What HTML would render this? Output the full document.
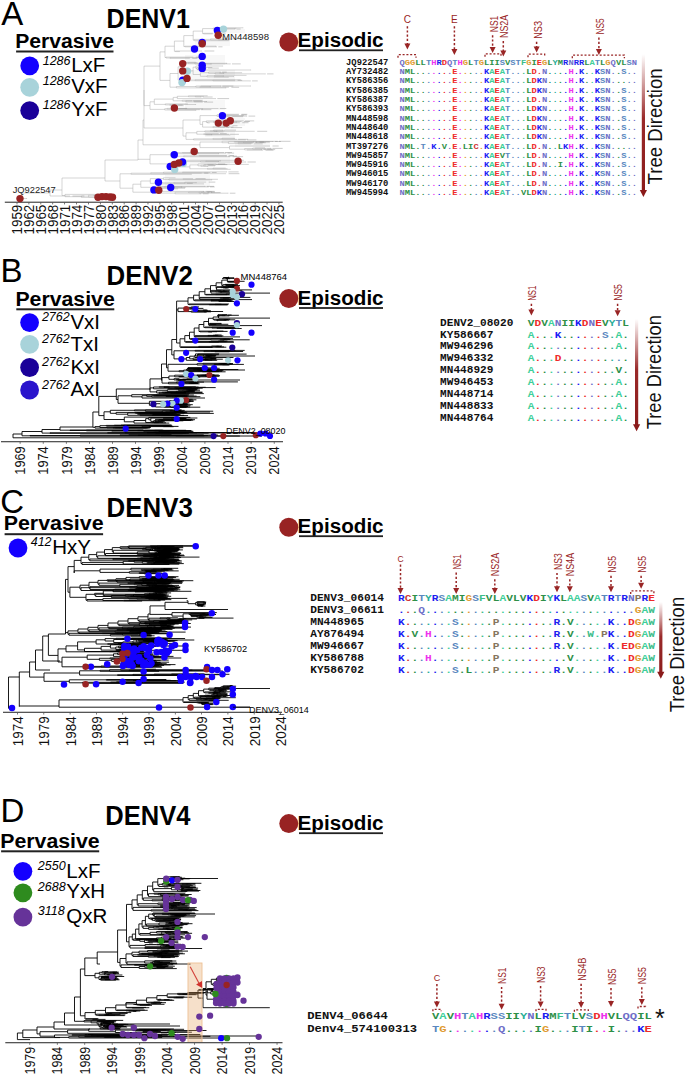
<!DOCTYPE html><html><head><meta charset="utf-8"><style>html,body{margin:0;padding:0;background:#fff;width:685px;height:1077px;overflow:hidden}svg{display:block}</style></head><body>
<svg width="685" height="1077" viewBox="0 0 685 1077">
<rect width="685" height="1077" fill="#fff"/>
<text x="1.2" y="24.5" font-family="Liberation Sans" font-size="33" fill="#000" text-anchor="start" >A</text>
<text x="0.6" y="281.5" font-family="Liberation Sans" font-size="33" fill="#000" text-anchor="start" >B</text>
<text x="0.3" y="513" font-family="Liberation Sans" font-size="33" fill="#000" text-anchor="start" >C</text>
<text x="0.6" y="821.5" font-family="Liberation Sans" font-size="33" fill="#000" text-anchor="start" >D</text>
<text x="106.6" y="28" font-family="Liberation Sans" font-size="27.5" font-weight="bold" fill="#000" text-anchor="start" textLength="83.3" lengthAdjust="spacingAndGlyphs" >DENV1</text>
<text x="106.6" y="284.8" font-family="Liberation Sans" font-size="27.5" font-weight="bold" fill="#000" text-anchor="start" textLength="86.2" lengthAdjust="spacingAndGlyphs" >DENV2</text>
<text x="106.6" y="517" font-family="Liberation Sans" font-size="27.5" font-weight="bold" fill="#000" text-anchor="start" textLength="86.2" lengthAdjust="spacingAndGlyphs" >DENV3</text>
<text x="105.2" y="824.8" font-family="Liberation Sans" font-size="27.5" font-weight="bold" fill="#000" text-anchor="start" textLength="85.2" lengthAdjust="spacingAndGlyphs" >DENV4</text>
<text x="15.200000000000001" y="48.2" font-family="Liberation Sans" font-size="20.3" font-weight="bold" fill="#000" text-anchor="start" textLength="98.80000000000001" lengthAdjust="spacingAndGlyphs" >Pervasive</text>
<rect x="16.1" y="50.5" width="97.4" height="2" fill="#222"/>
<text x="15.4" y="305.6" font-family="Liberation Sans" font-size="20.3" font-weight="bold" fill="#000" text-anchor="start" textLength="99.4" lengthAdjust="spacingAndGlyphs" >Pervasive</text>
<rect x="16.3" y="308.3" width="98" height="2" fill="#222"/>
<text x="3.6999999999999997" y="530" font-family="Liberation Sans" font-size="20.3" font-weight="bold" fill="#000" text-anchor="start" textLength="99.9" lengthAdjust="spacingAndGlyphs" >Pervasive</text>
<rect x="4.6" y="533.2" width="98.5" height="2" fill="#222"/>
<text x="0.20000000000000018" y="848.2" font-family="Liberation Sans" font-size="20.3" font-weight="bold" fill="#000" text-anchor="start" textLength="99.5" lengthAdjust="spacingAndGlyphs" >Pervasive</text>
<rect x="1.1" y="850.3" width="98.1" height="2" fill="#222"/>
<circle cx="29.7" cy="65.8" r="9.4" fill="#1400FF"/>
<text x="42.7" y="64.9" font-family="Liberation Sans" font-size="12.5" font-style="italic">1286</text>
<text x="71.2" y="72.4" font-family="Liberation Sans" font-size="20.5" fill="#000" text-anchor="start" >LxF</text>
<circle cx="29.7" cy="87.3" r="9.4" fill="#A8D3DA"/>
<text x="42.7" y="85.4" font-family="Liberation Sans" font-size="12.5" font-style="italic">1286</text>
<text x="71.2" y="92.9" font-family="Liberation Sans" font-size="20.5" fill="#000" text-anchor="start" >VxF</text>
<circle cx="29.7" cy="110.6" r="9.4" fill="#1A0099"/>
<text x="42.7" y="108.7" font-family="Liberation Sans" font-size="12.5" font-style="italic">1286</text>
<text x="71.2" y="116.2" font-family="Liberation Sans" font-size="20.5" fill="#000" text-anchor="start" >YxF</text>
<circle cx="29.6" cy="322.6" r="9.4" fill="#1400FF"/>
<text x="41.9" y="321.2" font-family="Liberation Sans" font-size="12.5" font-style="italic">2762</text>
<text x="70.4" y="328.7" font-family="Liberation Sans" font-size="20.5" fill="#000" text-anchor="start" >VxI</text>
<circle cx="29.6" cy="344.4" r="9.4" fill="#A8D3DA"/>
<text x="41.9" y="343.0" font-family="Liberation Sans" font-size="12.5" font-style="italic">2762</text>
<text x="70.4" y="350.5" font-family="Liberation Sans" font-size="20.5" fill="#000" text-anchor="start" >TxI</text>
<circle cx="29.6" cy="367.5" r="9.4" fill="#1A0099"/>
<text x="41.9" y="366.1" font-family="Liberation Sans" font-size="12.5" font-style="italic">2762</text>
<text x="70.4" y="373.6" font-family="Liberation Sans" font-size="20.5" fill="#000" text-anchor="start" >KxI</text>
<circle cx="29.6" cy="390.0" r="9.4" fill="#2A14CC"/>
<text x="41.9" y="388.6" font-family="Liberation Sans" font-size="12.5" font-style="italic">2762</text>
<text x="70.4" y="396.1" font-family="Liberation Sans" font-size="20.5" fill="#000" text-anchor="start" >AxI</text>
<circle cx="18.0" cy="548.0" r="9.4" fill="#1400FF"/>
<text x="30.7" y="546.1" font-family="Liberation Sans" font-size="12.5" font-style="italic">412</text>
<text x="52.2" y="553.6" font-family="Liberation Sans" font-size="20.5" fill="#000" text-anchor="start" >HxY</text>
<circle cx="22.9" cy="871.3" r="9.4" fill="#1400FF"/>
<text x="37.8" y="870.0" font-family="Liberation Sans" font-size="12.5" font-style="italic">2550</text>
<text x="66.3" y="877.5" font-family="Liberation Sans" font-size="20.5" fill="#000" text-anchor="start" >LxF</text>
<circle cx="22.9" cy="892.8" r="9.4" fill="#2E8B1E"/>
<text x="37.8" y="890.8" font-family="Liberation Sans" font-size="12.5" font-style="italic">2688</text>
<text x="66.3" y="898.3" font-family="Liberation Sans" font-size="20.5" fill="#000" text-anchor="start" >YxH</text>
<circle cx="22.9" cy="917.1" r="9.4" fill="#663399"/>
<text x="37.8" y="915.3" font-family="Liberation Sans" font-size="12.5" font-style="italic">3118</text>
<text x="66.3" y="922.8" font-family="Liberation Sans" font-size="20.5" fill="#000" text-anchor="start" >QxR</text>
<circle cx="288.8" cy="42.0" r="9.5" fill="#982323"/>
<text x="297.6" y="47.0" font-family="Liberation Sans" font-size="20.7" font-weight="bold" fill="#000" text-anchor="start" textLength="86" lengthAdjust="spacingAndGlyphs" >Episodic</text>
<rect x="299" y="49.4" width="84" height="1.8" fill="#222"/>
<circle cx="288.8" cy="298.5" r="9.5" fill="#982323"/>
<text x="297.6" y="304.70000000000005" font-family="Liberation Sans" font-size="20.7" font-weight="bold" fill="#000" text-anchor="start" textLength="86" lengthAdjust="spacingAndGlyphs" >Episodic</text>
<rect x="299" y="307.1" width="84" height="1.8" fill="#222"/>
<circle cx="288.8" cy="527.3" r="9.5" fill="#982323"/>
<text x="297.6" y="532.9" font-family="Liberation Sans" font-size="20.7" font-weight="bold" fill="#000" text-anchor="start" textLength="86" lengthAdjust="spacingAndGlyphs" >Episodic</text>
<rect x="299" y="535.3" width="84" height="1.8" fill="#222"/>
<circle cx="288.8" cy="823.6" r="9.5" fill="#982323"/>
<text x="297.6" y="829.9" font-family="Liberation Sans" font-size="20.7" font-weight="bold" fill="#000" text-anchor="start" textLength="86" lengthAdjust="spacingAndGlyphs" >Episodic</text>
<rect x="299" y="832.3" width="84" height="1.8" fill="#222"/>
<path d="M13.0 434.0V437.8M13.0 434.0H22.0M22.0 431.5V435.8M22.0 431.5H42.0M42.0 429.5V433.1M42.0 429.5H60.0M60.0 427.0V430.2M60.0 427.0H92.9M92.9 412.0V427.3M92.9 412.0H98.8M98.8 396.4V415.6M98.8 396.4H116.3M116.3 389.0V399.5M116.3 389.0H150.0M150.0 378.9V389.9M150.0 378.9H161.5M161.5 364.0V380.3M161.5 364.0H166.5M166.5 349.7V367.8M166.5 349.7H171.8M171.8 339.5V354.9M171.8 339.5H176.6M176.6 310.0V343.0M176.6 301.1V310.0M176.6 309.9H178.0M178.0 308.1V311.6M178.0 308.1H186.2M186.2 307.4V308.8M186.2 307.4H191.2M191.2 306.9V307.9M191.2 306.9H199.0M191.2 307.9H192.5M192.5 307.6V308.2M192.5 307.6H194.4M194.4 307.3V307.8M194.4 307.3H194.9M194.9 307.2V307.5M194.9 307.2H195.2M194.9 307.5H195.6M194.4 307.8H198.1M192.5 308.2H194.1M194.1 308.1V308.4M194.1 308.1H195.1M194.1 308.4H203.4M186.2 308.8H189.4M189.4 308.7V309.0M189.4 308.7H196.4M189.4 309.0H194.4M178.0 311.6H191.2M191.2 311.1V312.1M191.2 311.1H194.9M194.9 310.7V311.6M194.9 310.7H196.4M196.4 310.4V310.9M196.4 310.4H198.1M198.1 310.2V310.6M198.1 310.2H202.9M202.9 310.0V310.3M202.9 310.0H206.8M202.9 310.3H207.9M198.1 310.6H199.4M196.4 310.9H210.9M194.9 311.6H204.0M204.0 311.4V311.8M204.0 311.4H206.3M206.3 311.2V311.5M206.3 311.2H210.6M206.3 311.5H223.1M204.0 311.8H211.0M191.2 312.1H206.6M176.6 301.1H188.0M188.0 297.8V304.4M188.0 297.8H193.6M193.6 295.2V300.3M193.6 295.2H199.2M199.2 291.7V298.6M199.2 291.7H204.9M204.9 288.8V294.7M204.9 288.8H210.5M210.5 285.6V292.0M210.5 285.6H216.1M216.1 282.8V288.4M216.1 282.8H221.8M221.8 280.1V285.5M221.8 280.1H227.4M227.4 278.4V281.9M227.4 278.4H234.0M234.0 277.8V279.0M234.0 277.8H228.0M228.0 277.2V278.3M228.0 277.2H228.8M228.0 278.3H226.0M226.0 277.9V278.7M226.0 277.9H223.7M223.7 277.5V278.2M223.7 277.5H229.2M223.7 278.2H223.0M223.0 278.0V278.4M223.0 278.0H225.6M225.6 277.8V278.1M225.6 277.8H226.8M225.6 278.1H227.8M223.0 278.4H222.1M226.0 278.7H230.1M227.4 281.9H228.4M228.4 281.5V282.2M228.4 281.5H228.0M228.0 281.3V281.8M228.0 281.3H244.6M228.0 281.8H228.0M228.0 281.6V281.9M228.0 281.6H238.6M228.0 281.9H227.8M228.4 282.2H238.2M221.8 285.5H222.8M222.8 284.7V286.2M222.8 284.7H224.9M224.9 284.4V285.0M224.9 284.4H237.9M224.9 285.0H226.0M226.0 284.7V285.3M226.0 284.7H234.0M226.0 285.3H226.5M226.5 285.0V285.5M226.5 285.0H227.0M226.5 285.5H231.2M231.2 285.3V285.8M231.2 285.3H238.0M231.2 285.8H232.3M232.3 285.6V285.9M232.3 285.6H240.0M232.3 285.9H233.9M222.8 286.2H236.9M216.1 288.4H216.6M216.6 287.0V289.9M216.6 287.0H217.1M217.1 286.7V287.4M217.1 286.7H227.8M227.8 286.5V286.8M227.8 286.5H234.4M227.8 286.8H234.9M217.1 287.4H220.8M220.8 287.1V287.6M220.8 287.1H234.4M220.8 287.6H223.0M223.0 287.4V287.9M223.0 287.4H236.9M223.0 287.9H224.6M224.6 287.7V288.0M224.6 287.7H227.2M224.6 288.0H228.6M216.6 289.9H252.0M210.5 292.0H211.0M211.0 290.9V293.1M211.0 290.9H211.5M211.5 290.4V291.4M211.5 290.4H221.7M211.5 291.4H215.7M215.7 291.1V291.8M215.7 291.1H221.8M221.8 290.8V291.3M221.8 290.8H223.0M223.0 290.7V291.0M223.0 290.7H242.4M223.0 291.0H224.9M221.8 291.3H226.7M215.7 291.8H218.3M218.3 291.6V292.0M218.3 291.6H230.9M218.3 292.0H220.2M220.2 291.9V292.2M220.2 291.9H222.0M220.2 292.2H232.8M211.0 293.1H270.0M204.9 294.7H205.9M205.9 294.4V294.9M205.9 294.4H215.5M215.5 294.2V294.6M215.5 294.2H225.9M225.9 294.0V294.3M225.9 294.0H235.2M225.9 294.3H235.6M215.5 294.6H227.2M205.9 294.9H236.7M199.2 298.6H199.8M199.8 297.7V299.6M199.8 297.7H200.2M200.2 297.4V298.0M200.2 297.4H250.4M200.2 298.0H220.2M220.2 297.8V298.3M220.2 297.8H222.9M222.9 297.7V298.0M222.9 297.7H232.1M222.9 298.0H228.9M220.2 298.3H237.7M199.8 299.6H252.0M193.6 300.3H194.6M194.6 299.9V300.8M194.6 299.9H211.0M211.0 299.7V300.0M211.0 299.7H231.0M211.0 300.0H226.3M194.6 300.8H211.0M211.0 300.5V301.1M211.0 300.5H217.8M217.8 300.3V300.6M217.8 300.3H232.6M217.8 300.6H228.1M211.0 301.1H218.9M218.9 300.9V301.4M218.9 300.9H231.2M218.9 301.4H227.1M227.1 301.2V301.5M227.1 301.2H231.4M227.1 301.5H234.1M188.0 304.4H189.0M189.0 304.0V304.7M189.0 304.0H228.9M189.0 304.7H209.2M209.2 304.5V304.9M209.2 304.5H215.1M215.1 304.3V304.6M215.1 304.3H221.4M215.1 304.6H227.9M209.2 304.9H227.6M176.6 343.0H180.0M180.0 338.8V347.2M180.0 338.8H184.8M184.8 335.6V341.9M184.8 335.6H189.5M189.5 332.2V339.0M189.5 332.2H194.2M194.2 328.0V336.4M194.2 328.0H199.0M199.0 324.5V331.5M199.0 324.5H203.8M203.8 321.5V327.4M203.8 321.5H208.5M208.5 318.3V324.7M208.5 318.3H213.2M213.2 317.0V319.6M213.2 317.0H218.5M218.5 315.8V318.1M218.5 315.8H219.0M219.0 315.2V316.5M219.0 315.2H218.0M218.0 314.7V315.7M218.0 314.7H227.1M218.0 315.7H217.8M217.8 315.4V316.0M217.8 315.4H222.1M222.1 315.1V315.6M222.1 315.1H227.7M227.7 315.0V315.3M227.7 315.0H231.6M227.7 315.3H238.9M222.1 315.6H225.4M217.8 316.0H217.6M217.6 315.9V316.2M217.6 315.9H229.4M217.6 316.2H217.5M219.0 316.5H218.4M218.5 318.1H270.0M213.2 319.6H214.2M214.2 319.2V320.1M214.2 319.2H230.2M214.2 320.1H216.7M216.7 319.7V320.5M216.7 319.7H223.7M223.7 319.5V319.9M223.7 319.5H228.0M223.7 319.9H226.0M226.0 319.8V320.1M226.0 319.8H235.2M226.0 320.1H229.1M216.7 320.5H217.2M217.2 320.4V320.7M217.2 320.4H226.3M217.2 320.7H218.1M208.5 324.7H209.0M209.0 323.9V325.6M209.0 323.9H209.5M209.5 323.4V324.4M209.5 323.4H221.3M209.5 324.4H209.9M209.9 324.1V324.6M209.9 324.1H210.3M210.3 323.9V324.3M210.3 323.9H210.4M210.4 323.7V324.0M210.4 323.7H210.6M210.4 324.0H221.7M210.3 324.3H228.3M209.9 324.6H216.3M209.0 325.6H262.0M203.8 327.4H204.8M204.8 327.0V327.7M204.8 327.0H236.8M204.8 327.7H212.0M212.0 327.3V328.1M212.0 327.3H236.8M212.0 328.1H217.0M217.0 327.8V328.4M217.0 327.8H219.4M219.4 327.6V327.9M219.4 327.6H220.9M219.4 327.9H238.3M217.0 328.4H225.0M225.0 328.2V328.5M225.0 328.2H230.9M225.0 328.5H241.7M199.0 331.5H200.0M200.0 331.1V331.8M200.0 331.1H223.4M200.0 331.8H208.2M208.2 331.6V332.0M208.2 331.6H212.2M212.2 331.4V331.7M212.2 331.4H227.6M212.2 331.7H217.0M208.2 332.0H212.1M194.2 336.4H194.8M194.8 336.0V336.9M194.8 336.0H195.2M195.2 335.7V336.2M195.2 335.7H207.8M207.8 335.4V335.9M207.8 335.4H213.0M213.0 335.2V335.6M213.0 335.2H214.8M214.8 335.0V335.3M214.8 335.0H221.6M214.8 335.3H218.4M213.0 335.6H217.2M207.8 335.9H223.4M195.2 336.2H222.2M194.8 336.9H240.0M189.5 339.0H190.5M190.5 338.6V339.4M190.5 338.6H233.0M190.5 339.4H210.8M210.8 338.9V339.9M210.8 338.9H229.6M210.8 339.9H220.1M220.1 339.6V340.1M220.1 339.6H222.5M222.5 339.4V339.8M222.5 339.4H223.7M223.7 339.2V339.5M223.7 339.2H225.9M223.7 339.5H230.4M222.5 339.8H249.7M220.1 340.1H224.2M184.8 341.9H185.8M185.8 341.6V342.3M185.8 341.6H198.2M198.2 341.3V341.9M198.2 341.3H218.2M218.2 341.1V341.4M218.2 341.1H227.5M218.2 341.4H233.6M198.2 341.9H208.9M208.9 341.7V342.0M208.9 341.7H226.5M208.9 342.0H218.8M185.8 342.3H233.9M180.0 347.2H181.0M181.0 346.8V347.5M181.0 346.8H198.7M198.7 346.4V347.2M198.7 346.4H211.5M211.5 346.0V346.7M211.5 346.0H222.0M211.5 346.7H215.4M215.4 346.5V346.9M215.4 346.5H216.5M216.5 346.3V346.6M216.5 346.3H218.7M216.5 346.6H221.2M215.4 346.9H224.1M198.7 347.2H226.3M181.0 347.5H212.6M171.8 354.9H174.0M174.0 350.8V358.9M174.0 350.8H195.1M195.1 350.4V351.2M195.1 350.4H244.7M195.1 351.2H203.9M203.9 350.8V351.6M203.9 350.8H210.9M210.9 350.7V351.0M210.9 350.7H235.4M210.9 351.0H232.5M203.9 351.6H214.7M214.7 351.4V351.8M214.7 351.4H219.8M219.8 351.3V351.5M219.8 351.3H229.6M219.8 351.5H243.1M214.7 351.8H229.4M174.0 358.9H186.3M186.3 357.5V360.3M186.3 357.5H189.7M189.7 356.2V358.8M189.7 356.2H194.9M194.9 355.0V357.5M194.9 355.0H195.5M195.5 353.9V356.0M195.5 353.9H219.1M195.5 356.0H197.2M197.2 355.1V356.9M197.2 355.1H197.5M197.5 354.5V355.7M197.5 354.5H197.9M197.9 354.3V354.7M197.9 354.3H198.1M198.1 354.1V354.5M198.1 354.1H246.6M198.1 354.5H198.7M197.9 354.7H218.8M197.5 355.7H203.4M203.4 355.1V356.2M203.4 355.1H205.3M205.3 355.0V355.3M205.3 355.0H211.7M205.3 355.3H213.1M203.4 356.2H206.0M206.0 355.8V356.7M206.0 355.8H206.6M206.6 355.5V356.0M206.6 355.5H216.2M206.6 356.0H207.4M207.4 355.8V356.2M207.4 355.8H214.8M207.4 356.2H207.9M207.9 356.1V356.4M207.9 356.1H208.1M208.1 356.0V356.1M208.1 356.0H255.0M208.1 356.1H208.6M207.9 356.4H209.9M206.0 356.7H215.7M197.2 356.9H211.6M194.9 357.5H233.5M189.7 358.8H193.1M193.1 358.1V359.6M193.1 358.1H214.2M193.1 359.6H201.7M201.7 359.2V359.9M201.7 359.2H202.9M202.9 359.0V359.5M202.9 359.0H205.0M205.0 358.7V359.2M205.0 358.7H210.3M210.3 358.5V358.9M210.3 358.5H213.4M213.4 358.4V358.7M213.4 358.4H216.2M213.4 358.7H216.3M210.3 358.9H214.5M205.0 359.2H222.8M202.9 359.5H208.3M201.7 359.9H205.0M205.0 359.8V360.1M205.0 359.8H216.0M205.0 360.1H212.2M186.3 360.3H217.2M166.5 367.8H168.0M168.0 364.3V371.2M168.0 364.3H197.1M197.1 363.7V365.0M197.1 363.7H202.9M202.9 363.3V364.1M202.9 363.3H229.4M202.9 364.1H214.2M214.2 363.8V364.5M214.2 363.8H218.5M218.5 363.7V363.8M218.5 363.7H220.9M220.9 363.6V363.8M220.9 363.6H233.0M220.9 363.8H225.4M218.5 363.8H231.2M214.2 364.5H222.4M222.4 364.3V364.7M222.4 364.3H226.7M226.7 364.1V364.4M226.7 364.1H232.8M226.7 364.4H243.9M222.4 364.7H228.7M197.1 365.0H229.5M168.0 371.2H179.1M179.1 370.7V371.7M179.1 370.7H183.6M183.6 370.1V371.3M183.6 370.1H186.4M186.4 369.6V370.7M186.4 369.6H186.8M186.8 369.0V370.2M186.8 369.0H187.7M187.7 368.3V369.8M187.7 368.3H188.0M188.0 367.7V368.8M188.0 367.7H208.1M188.0 368.5V369.1M188.0 368.5H188.1M188.1 368.2V368.8M188.1 368.2H188.2M188.2 368.0V368.4M188.2 368.0H217.2M188.2 368.3V368.5M188.2 368.3H219.7M188.3 368.6H205.8M188.1 368.8H202.9M188.0 369.1H204.6M187.7 369.8H193.3M193.3 369.6V370.0M193.3 369.6H196.8M196.8 369.4V369.7M196.8 369.4H203.6M203.6 369.4V369.5M203.6 369.4H211.0M203.6 369.5H238.3M196.8 369.7H201.8M193.3 370.0H245.0M186.8 370.2H223.5M186.4 370.7H198.3M198.3 370.4V370.9M198.3 370.4H214.3M198.3 370.9H206.3M206.3 370.7V371.0M206.3 370.7H222.6M206.3 371.0H214.1M183.6 371.3H222.1M179.1 371.7H202.3M202.3 371.6V371.8M202.3 371.6H219.1M202.3 371.8H225.6M161.5 380.3H162.0M162.0 377.6V383.1M162.0 377.6H168.9M168.9 376.0V379.3M168.9 376.0H174.7M174.7 375.2V376.8M174.7 375.2H197.0M197.0 374.9V375.5M197.0 374.9H204.7M204.7 374.9V375.0M204.7 374.9H214.3M204.7 375.0H218.8M197.0 375.5H200.5M200.5 375.3V375.7M200.5 375.3H202.4M202.4 375.2V375.4M202.4 375.2H214.6M202.4 375.4H212.2M200.5 375.7H220.0M174.7 376.8H178.7M178.7 376.5V377.0M178.7 376.5H194.9M194.9 376.2V376.8M194.9 376.2H205.6M205.6 376.0V376.5M205.6 376.0H215.9M205.6 376.5H210.6M210.6 376.4V376.6M210.6 376.4H212.3M212.3 376.3V376.5M212.3 376.3H219.3M212.3 376.5H214.4M210.6 376.6H215.3M194.9 376.8H211.9M178.7 377.0H200.2M168.9 379.3H174.0M174.0 378.7V379.9M174.0 378.7H179.4M174.0 379.9H176.4M176.4 379.5V380.2M176.4 379.5H179.5M179.5 379.3V379.8M179.5 379.3H182.5M182.5 379.1V379.5M182.5 379.1H186.7M186.7 378.9V379.2M186.7 378.9H192.8M186.7 379.2H193.9M182.5 379.5H194.0M179.5 379.8H192.4M176.4 380.2H178.0M178.0 380.0V380.3M178.0 380.0H179.6M179.6 380.0V380.1M179.6 380.0H240.0M179.6 380.1H181.9M178.0 380.3H185.7M162.0 383.1H168.5M168.5 382.3V383.8M168.5 382.3H176.4M176.4 381.9V382.8M176.4 381.9H180.2M180.2 381.9H196.0M180.2 381.9H237.9M176.4 382.8H185.5M185.5 382.3V383.2M185.5 382.3H190.3M190.3 382.1V382.6M190.3 382.1H204.0M190.3 382.6H192.9M192.9 382.4V382.7M192.9 382.4H198.6M192.9 382.7H196.6M185.5 383.2H188.8M188.8 383.0V383.4M188.8 383.0H193.4M188.8 383.4H190.9M190.9 383.3V383.5M190.9 383.3H197.0M190.9 383.5H198.2M168.5 383.8H199.5M150.0 387.9V391.9M150.0 387.9H153.5M153.5 387.0V388.8M153.5 387.0H159.1M159.1 386.8V387.2M159.1 386.8H195.8M159.1 387.2H164.0M164.0 386.8V387.5M164.0 386.8H169.5M164.0 387.5H169.2M169.2 387.1V387.9M169.2 387.1H198.6M169.2 387.9H174.6M174.6 387.7V388.2M174.6 387.7H179.9M179.9 387.5V387.9M179.9 387.5H182.5M182.5 387.4V387.6M182.5 387.4H195.5M195.5 387.3V387.6M195.5 387.3H205.7M195.5 387.6H215.7M182.5 387.6H191.5M179.9 387.9H191.8M174.6 388.2H202.7M153.5 388.8H167.7M167.7 388.6V389.0M167.7 388.6H175.8M175.8 388.5V388.7M175.8 388.5H196.5M175.8 388.7H198.1M167.7 389.0H199.8M150.0 391.9H156.7M156.7 390.7V393.0M156.7 390.7H167.3M167.3 389.8V391.6M167.3 389.8H178.4M178.4 389.3V390.4M178.4 389.3H190.5M178.4 390.4H182.8M182.8 390.0V390.8M182.8 390.0H186.3M186.3 389.7V390.3M186.3 389.7H188.4M188.4 389.6V389.9M188.4 389.6H197.2M188.4 389.9H196.5M186.3 390.3H188.3M188.3 390.2V390.4M188.3 390.2H189.0M189.0 390.1V390.2M189.0 390.1H190.1M189.0 390.2H193.2M188.3 390.4H189.4M189.4 390.4V390.5M189.4 390.4H195.2M189.4 390.5H193.6M182.8 390.8H200.0M167.3 391.6H175.8M175.8 391.4V391.9M175.8 391.4H183.7M183.7 391.2V391.6M183.7 391.2H187.5M187.5 391.0V391.3M187.5 391.0H192.8M187.5 391.3H194.4M183.7 391.6H194.8M175.8 391.9H189.5M156.7 393.0H159.0M159.0 392.4V393.6M159.0 392.4H162.0M162.0 392.2V392.7M162.0 392.2H202.5M162.0 392.7H163.4M163.4 392.4V393.1M163.4 392.4H164.8M164.8 392.4H182.2M164.8 392.4H165.7M165.7 392.4H202.3M165.7 392.5H168.1M163.4 393.1H170.7M170.7 392.9V393.3M170.7 392.9H173.2M173.2 392.7V393.0M173.2 392.7H185.9M173.2 393.0H186.0M170.7 393.3H189.8M159.0 393.6H203.8M116.3 399.5H118.0M118.0 395.8V403.3M118.0 395.8H131.7M131.7 394.7V396.8M131.7 394.7H188.9M131.7 396.8H142.0M142.0 395.7V398.0M142.0 395.7H146.7M146.7 395.0V396.4M146.7 395.0H193.9M146.7 396.4H151.7M151.7 395.8V397.0M151.7 395.8H153.7M153.7 395.4V396.1M153.7 395.4H155.4M155.4 395.3V395.6M155.4 395.3H156.0M156.0 395.3H187.4M156.0 395.3H156.6M155.4 395.6H185.3M153.7 396.1H166.1M166.1 395.8V396.5M166.1 395.8H188.7M166.1 396.5H171.9M171.9 396.2V396.7M171.9 396.2H174.9M174.9 396.1V396.4M174.9 396.1H196.6M174.9 396.4H176.6M176.6 396.4H177.9M176.6 396.4H187.4M171.9 396.7H200.4M151.7 397.0H177.0M142.0 398.0H205.0M118.0 403.3H149.4M149.4 401.3V405.3M149.4 401.3H169.3M169.3 400.7V401.9M169.3 400.7H176.8M176.8 399.8V401.5M176.8 399.8H180.9M180.9 399.3V400.4M180.9 399.3H192.7M180.9 400.4H181.9M181.9 399.7V401.1M181.9 399.7H182.5M182.5 399.5V399.8M182.5 399.5H184.1M182.5 399.8H196.4M181.9 401.1H183.6M183.6 400.9V401.3M183.6 400.9H184.2M184.2 400.6V401.2M184.2 400.6H185.1M185.1 400.3V401.0M185.1 400.3H185.8M185.8 400.1V400.5M185.8 400.1H190.8M185.8 400.5H186.0M186.0 400.4V400.7M186.0 400.4H186.5M186.0 400.7H193.6M185.1 401.0H186.3M186.3 400.9V401.0M186.3 400.9H189.6M186.3 401.0H188.9M184.2 401.2H190.6M183.6 401.3H186.1M176.8 401.5H180.0M180.0 401.5V401.6M180.0 401.5H193.6M180.0 401.6H190.6M169.3 401.9H187.1M149.4 405.3H155.4M155.4 403.7V407.0M155.4 403.7H162.5M162.5 402.1V405.2M162.5 402.1H188.8M162.5 405.2H165.8M165.8 404.2V406.2M165.8 404.2H168.3M168.3 403.1V405.4M168.3 403.1H169.7M169.7 402.4V403.8M169.7 402.4H179.0M169.7 403.8H170.3M170.3 403.2V404.4M170.3 403.2H171.3M171.3 402.8V403.6M171.3 402.8H177.3M177.3 402.7V403.0M177.3 402.7H186.7M177.3 403.0H189.6M171.3 403.6H171.7M171.7 403.3V403.9M171.7 403.3H184.2M171.7 403.9H172.0M172.0 403.7V404.1M172.0 403.7H172.4M172.4 403.5V403.8M172.4 403.5H172.7M172.4 403.8H187.3M172.0 404.1H188.0M170.3 404.4H187.4M168.3 405.4H171.6M171.6 405.1V405.6M171.6 405.1H175.3M175.3 405.0V405.3M175.3 405.0H178.5M178.5 404.8V405.2M178.5 404.8H179.6M179.6 404.7V404.9M179.6 404.7H180.8M180.8 404.6H184.1M180.8 404.7H192.8M179.6 404.9H181.6M178.5 405.2H187.3M175.3 405.3H190.5M171.6 405.6H172.6M172.6 405.5V405.8M172.6 405.5H177.9M172.6 405.8H179.2M165.8 406.2H172.4M172.4 406.0V406.3M172.4 406.0H186.4M172.4 406.3H188.1M155.4 407.0H164.2M164.2 406.7V407.3M164.2 406.7H172.6M172.6 406.6V406.9M172.6 406.6H188.1M172.6 406.9H190.2M164.2 407.3H170.5M170.5 407.2V407.4M170.5 407.2H200.3M170.5 407.4H186.6M98.8 415.6H104.0M104.0 411.8V419.5M104.0 411.8H110.3M110.3 410.3V413.3M110.3 410.3H134.4M134.4 409.9V410.8M134.4 409.9H181.6M134.4 410.8H145.4M145.4 410.1V411.4M145.4 410.1H172.6M145.4 411.4H162.3M162.3 410.9V411.9M162.3 410.9H170.1M170.1 410.5V411.3M170.1 410.5H173.9M173.9 410.4V410.7M173.9 410.4H184.7M173.9 410.7H174.8M174.8 410.6V410.7M174.8 410.6H180.9M174.8 410.7H177.0M170.1 411.3H173.8M173.8 411.1V411.5M173.8 411.1H176.0M176.0 411.0V411.2M176.0 411.0H181.4M176.0 411.2H177.0M177.0 411.2V411.3M177.0 411.2H213.2M177.0 411.3H180.9M173.8 411.5H183.3M162.3 411.9H165.5M165.5 411.8V412.1M165.5 411.8H183.4M165.5 412.1H174.1M174.1 412.0V412.1M174.1 412.0H210.0M174.1 412.1H186.5M110.3 413.3H116.1M116.1 412.4V414.2M116.1 412.4H185.1M116.1 414.2H127.7M127.7 413.0V415.3M127.7 413.0H135.2M135.2 412.7V413.3M135.2 412.7H187.3M135.2 413.3H137.1M137.1 412.8V413.9M137.1 412.8H170.0M137.1 413.9H137.8M137.8 413.4V414.3M137.8 413.4H139.0M139.0 413.0V413.8M139.0 413.0H160.3M160.3 412.9V413.1M160.3 412.9H184.5M160.3 413.1H175.6M139.0 413.8H139.8M139.8 413.7V413.9M139.8 413.7H139.8M139.8 413.4V413.9M139.8 413.4H149.7M149.7 413.3V413.5M149.7 413.3H176.6M149.7 413.5H158.0M158.0 413.4V413.6M158.0 413.4H213.8M158.0 413.6H173.4M139.8 413.9H140.3M139.8 413.9H167.2M137.8 414.3H152.8M152.8 414.2V414.5M152.8 414.2H169.0M152.8 414.5H180.5M127.7 415.3H140.1M140.1 415.1V415.6M140.1 415.1H152.0M152.0 414.9V415.3M152.0 414.9H163.4M163.4 414.7V415.0M163.4 414.7H178.7M163.4 415.0H174.7M152.0 415.3H184.2M140.1 415.6H188.1M104.0 419.5H124.3M124.3 417.1V421.8M124.3 417.1H178.3M124.3 421.8H134.0M134.0 420.5V423.1M134.0 420.5H145.7M145.7 418.6V422.5M145.7 418.6H148.8M148.8 417.4V419.8M148.8 417.4H190.4M148.8 419.8H150.8M150.8 418.1V421.4M150.8 418.1H163.5M163.5 417.7V418.6M163.5 417.7H180.2M163.5 418.6H172.0M172.0 418.2V419.0M172.0 418.2H175.0M175.0 418.0V418.4M175.0 418.0H197.4M175.0 418.4H176.5M176.5 418.3V418.5M176.5 418.3H184.5M176.5 418.5H186.5M172.0 419.0H173.3M173.3 418.8V419.1M173.3 418.8H185.9M173.3 419.1H178.9M150.8 421.4H153.4M153.4 420.8V422.0M153.4 420.8H155.0M155.0 420.1V421.6M155.0 420.1H155.5M155.5 419.4V420.8M155.5 419.4H192.1M155.5 420.8H156.3M156.3 420.4V421.2M156.3 420.4H158.5M158.5 420.0V420.9M158.5 420.0H159.1M159.1 419.7V420.4M159.1 419.7H195.0M159.1 420.4H160.9M160.9 420.1V420.7M160.9 420.1H174.6M174.6 419.9V420.2M174.6 419.9H189.4M174.6 420.2H193.3M160.9 420.7H161.3M161.3 420.5V420.8M161.3 420.5H161.6M161.6 420.5V420.6M161.6 420.5H191.2M161.6 420.6H162.1M161.3 420.8H183.3M158.5 420.9H162.9M156.3 421.2H157.5M155.0 421.6H157.3M157.3 421.4V421.7M157.3 421.4H164.7M157.3 421.7H161.3M153.4 422.0H156.1M145.7 422.5H151.4M151.4 422.3V422.7M151.4 422.3H163.0M151.4 422.7H154.0M154.0 422.6V422.8M154.0 422.6H158.8M154.0 422.8H166.0M134.0 423.1H169.3M92.9 427.3H95.0M95.0 426.6V428.1M95.0 426.6H99.9M99.9 425.7V427.5M99.9 425.7H106.2M106.2 425.4V426.1M106.2 425.4H114.2M114.2 425.2V425.6M114.2 425.2H121.0M121.0 425.0V425.4M121.0 425.0H171.6M121.0 425.4H123.6M123.6 425.3V425.4M123.6 425.3H170.6M123.6 425.4H130.3M114.2 425.6H169.2M106.2 426.1H141.9M141.9 425.9V426.3M141.9 425.9H172.4M141.9 426.3H149.0M149.0 426.1V426.6M149.0 426.1H172.0M149.0 426.6H163.2M163.2 426.4V426.7M163.2 426.4H178.5M163.2 426.7H173.6M99.9 427.5H107.0M107.0 427.2V427.8M107.0 427.2H150.8M107.0 427.8H112.9M112.9 427.7V427.9M112.9 427.7H115.2M115.2 427.6V427.8M115.2 427.6H118.2M118.2 427.5V427.6M118.2 427.5H118.9M118.9 427.5V427.6M118.9 427.5H150.6M118.9 427.6H120.9M118.2 427.6H130.0M115.2 427.8H146.5M112.9 427.9H147.8M95.0 428.1H149.8M60.0 430.2H70.0M70.0 430.0V430.5M70.0 430.0H143.3M70.0 430.5H86.4M86.4 430.2V430.8M86.4 430.2H162.7M86.4 430.8H111.7M111.7 430.6V431.1M111.7 430.6H137.4M137.4 430.4V430.7M137.4 430.4H144.9M144.9 430.3V430.5M144.9 430.3H186.1M144.9 430.5H154.7M154.7 430.4V430.6M154.7 430.4H163.7M154.7 430.6H191.1M137.4 430.7H170.6M111.7 431.1H143.6M143.6 430.8V431.3M143.6 430.8H191.3M143.6 431.3H158.5M158.5 431.1V431.4M158.5 431.1H192.4M158.5 431.4H193.4M42.0 433.1H50.0M50.0 432.8V433.3M50.0 432.8H107.5M107.5 432.6V433.1M107.5 432.6H124.9M124.9 432.4V432.9M124.9 432.4H146.8M146.8 432.4V432.5M146.8 432.4H153.6M153.6 432.2V432.5M153.6 432.2H169.3M153.6 432.5H164.3M164.3 432.5H255.0M164.3 432.5H202.0M146.8 432.5H203.9M124.9 432.9H146.7M146.7 432.8V432.9M146.7 432.8H197.0M146.7 432.9H155.4M155.4 432.9V433.0M155.4 432.9H186.1M155.4 433.0H272.0M107.5 433.1H208.6M50.0 433.3H188.8M22.0 435.8H30.0M30.0 435.5V436.0M30.0 435.5H80.1M80.1 435.1V436.0M80.1 435.1H120.0M120.0 434.9V435.2M120.0 434.9H128.7M128.7 434.8V435.0M128.7 434.8H171.5M128.7 435.0H203.6M120.0 435.2H138.2M138.2 435.1V435.4M138.2 435.1H218.0M138.2 435.4H155.4M155.4 435.3V435.5M155.4 435.3H204.0M155.4 435.5H161.0M161.0 435.4V435.7M161.0 435.4H182.6M161.0 435.7H175.6M175.6 435.6V435.8M175.6 435.6H207.9M175.6 435.8H204.4M80.1 436.0H239.8M30.0 436.0H262.0M13.0 437.8H215.0" fill="none" stroke="#000" stroke-width="0.9" stroke-opacity="1.0"/>
<rect x="1" y="441.00" width="282" height="1.3" fill="#555"/>
<rect x="19.70" y="441.60" width="0.8" height="2.2" fill="#555"/>
<text transform="translate(25.35,474.70) rotate(-90)" font-family="Liberation Sans" font-size="15" fill="#111" textLength="28.4" lengthAdjust="spacingAndGlyphs">1969</text>
<rect x="42.80" y="441.60" width="0.8" height="2.2" fill="#555"/>
<text transform="translate(48.45,474.70) rotate(-90)" font-family="Liberation Sans" font-size="15" fill="#111" textLength="28.4" lengthAdjust="spacingAndGlyphs">1974</text>
<rect x="65.90" y="441.60" width="0.8" height="2.2" fill="#555"/>
<text transform="translate(71.55,474.70) rotate(-90)" font-family="Liberation Sans" font-size="15" fill="#111" textLength="28.4" lengthAdjust="spacingAndGlyphs">1979</text>
<rect x="89.00" y="441.60" width="0.8" height="2.2" fill="#555"/>
<text transform="translate(94.65,474.70) rotate(-90)" font-family="Liberation Sans" font-size="15" fill="#111" textLength="28.4" lengthAdjust="spacingAndGlyphs">1984</text>
<rect x="112.10" y="441.60" width="0.8" height="2.2" fill="#555"/>
<text transform="translate(117.75,474.70) rotate(-90)" font-family="Liberation Sans" font-size="15" fill="#111" textLength="28.4" lengthAdjust="spacingAndGlyphs">1989</text>
<rect x="135.20" y="441.60" width="0.8" height="2.2" fill="#555"/>
<text transform="translate(140.85,474.70) rotate(-90)" font-family="Liberation Sans" font-size="15" fill="#111" textLength="28.4" lengthAdjust="spacingAndGlyphs">1994</text>
<rect x="158.30" y="441.60" width="0.8" height="2.2" fill="#555"/>
<text transform="translate(163.95,474.70) rotate(-90)" font-family="Liberation Sans" font-size="15" fill="#111" textLength="28.4" lengthAdjust="spacingAndGlyphs">1999</text>
<rect x="181.40" y="441.60" width="0.8" height="2.2" fill="#555"/>
<text transform="translate(187.05,474.70) rotate(-90)" font-family="Liberation Sans" font-size="15" fill="#111" textLength="28.4" lengthAdjust="spacingAndGlyphs">2004</text>
<rect x="204.50" y="441.60" width="0.8" height="2.2" fill="#555"/>
<text transform="translate(210.15,474.70) rotate(-90)" font-family="Liberation Sans" font-size="15" fill="#111" textLength="28.4" lengthAdjust="spacingAndGlyphs">2009</text>
<rect x="227.60" y="441.60" width="0.8" height="2.2" fill="#555"/>
<text transform="translate(233.25,474.70) rotate(-90)" font-family="Liberation Sans" font-size="15" fill="#111" textLength="28.4" lengthAdjust="spacingAndGlyphs">2014</text>
<rect x="250.70" y="441.60" width="0.8" height="2.2" fill="#555"/>
<text transform="translate(256.35,474.70) rotate(-90)" font-family="Liberation Sans" font-size="15" fill="#111" textLength="28.4" lengthAdjust="spacingAndGlyphs">2019</text>
<rect x="273.80" y="441.60" width="0.8" height="2.2" fill="#555"/>
<text transform="translate(279.45,474.70) rotate(-90)" font-family="Liberation Sans" font-size="15" fill="#111" textLength="28.4" lengthAdjust="spacingAndGlyphs">2024</text>
<circle cx="236.9" cy="280.9" r="3.1" fill="#982323"/>
<circle cx="251.5" cy="284.7" r="3.1" fill="#1400FF"/>
<circle cx="236.9" cy="288.5" r="3.1" fill="#982323"/>
<circle cx="232.7" cy="291.3" r="3.1" fill="#A8D3DA"/>
<circle cx="232.7" cy="295.0" r="3.1" fill="#A8D3DA"/>
<circle cx="242.0" cy="294.2" r="3.1" fill="#1A0099"/>
<circle cx="236.9" cy="297.0" r="3.1" fill="#A8D3DA"/>
<circle cx="236.9" cy="303.3" r="3.1" fill="#1400FF"/>
<circle cx="186.2" cy="309.0" r="3.1" fill="#982323"/>
<circle cx="195.3" cy="309.0" r="3.1" fill="#1400FF"/>
<circle cx="236.9" cy="323.0" r="3.1" fill="#1A0099"/>
<circle cx="236.9" cy="325.1" r="3.1" fill="#A8D3DA"/>
<circle cx="232.7" cy="332.7" r="3.1" fill="#1400FF"/>
<circle cx="251.5" cy="332.7" r="3.1" fill="#1400FF"/>
<circle cx="195.3" cy="340.6" r="3.1" fill="#1400FF"/>
<circle cx="232.3" cy="347.5" r="3.1" fill="#1A0099"/>
<circle cx="186.1" cy="352.8" r="3.1" fill="#1400FF"/>
<circle cx="181.4" cy="359.2" r="3.1" fill="#1400FF"/>
<circle cx="200.1" cy="359.2" r="3.1" fill="#1400FF"/>
<circle cx="228.1" cy="360.3" r="3.1" fill="#A8D3DA"/>
<circle cx="237.5" cy="360.3" r="3.1" fill="#1400FF"/>
<circle cx="204.7" cy="368.0" r="3.1" fill="#1400FF"/>
<circle cx="214.1" cy="368.0" r="3.1" fill="#1400FF"/>
<circle cx="186.1" cy="373.9" r="3.1" fill="#A8D3DA"/>
<circle cx="191.2" cy="375.0" r="3.1" fill="#1400FF"/>
<circle cx="209.4" cy="375.0" r="3.1" fill="#982323"/>
<circle cx="195.4" cy="378.5" r="3.1" fill="#A8D3DA"/>
<circle cx="214.1" cy="379.7" r="3.1" fill="#1400FF"/>
<circle cx="181.4" cy="383.9" r="3.1" fill="#1400FF"/>
<circle cx="186.1" cy="400.0" r="3.1" fill="#982323"/>
<circle cx="180.9" cy="400.7" r="3.1" fill="#A8D3DA"/>
<circle cx="176.7" cy="400.7" r="3.1" fill="#1400FF"/>
<circle cx="172.5" cy="403.5" r="3.1" fill="#A8D3DA"/>
<circle cx="167.4" cy="403.5" r="3.1" fill="#1400FF"/>
<circle cx="163.2" cy="404.2" r="3.1" fill="#A8D3DA"/>
<circle cx="153.4" cy="404.2" r="3.1" fill="#1A0099"/>
<circle cx="176.7" cy="407.7" r="3.1" fill="#1400FF"/>
<circle cx="176.7" cy="419.0" r="3.1" fill="#1400FF"/>
<circle cx="125.7" cy="428.7" r="3.1" fill="#1400FF"/>
<circle cx="213.6" cy="436.1" r="3.1" fill="#1A0099"/>
<circle cx="223.3" cy="436.1" r="3.1" fill="#982323"/>
<circle cx="255.8" cy="435.2" r="3.1" fill="#982323"/>
<circle cx="260.4" cy="433.6" r="3.1" fill="#1400FF"/>
<circle cx="265.5" cy="433.5" r="3.1" fill="#1400FF"/>
<circle cx="270.0" cy="436.0" r="3.1" fill="#1400FF"/>
<text x="240.6" y="280" font-family="Liberation Sans" font-size="8.8" fill="#000" text-anchor="start" textLength="46.5" lengthAdjust="spacingAndGlyphs" >MN448764</text>
<text x="226" y="433.9" font-family="Liberation Sans" font-size="9.5" fill="#000" text-anchor="start" textLength="59.4" lengthAdjust="spacingAndGlyphs" >DENV2_08020</text>
<path d="M8.5 677.0V708.3M8.5 677.0H19.3M19.3 672.0V706.4M19.3 672.0H29.6M29.6 662.0V677.1M29.6 662.0H35.5M35.5 650.0V670.0M35.5 650.0H42.7M42.7 636.0V661.0M42.7 636.0H48.4M48.4 634.0V655.4M48.4 634.0H65.5M65.5 579.4V634.0M65.5 579.4H68.0M68.0 566.6V592.2M68.0 566.6H74.2M74.2 560.4V572.9M74.2 560.4H81.0M81.0 557.2V563.5M81.0 557.2H88.8M88.8 554.6V559.9M88.8 554.6H96.7M96.7 552.1V557.0M96.7 552.1H104.5M104.5 549.6V554.6M104.5 549.6H112.3M112.3 547.6V551.7M112.3 547.6H120.2M120.2 546.7V548.4M120.2 546.7H128.0M128.0 546.2V547.3M128.0 546.2H196.0M128.0 547.3H129.0M129.0 546.1V548.5M129.0 546.1H150.4M150.4 545.7V546.5M150.4 545.7H194.7M150.4 546.5H157.0M157.0 546.2V546.8M157.0 546.2H160.6M160.6 546.0V546.4M160.6 546.0H183.1M160.6 546.4H161.4M161.4 546.3V546.5M161.4 546.3H162.3M161.4 546.5H174.5M157.0 546.8H172.9M129.0 548.5H145.9M145.9 547.2V549.7M145.9 547.2H150.8M150.8 547.1V547.4M150.8 547.1H182.9M150.8 547.4H156.1M145.9 549.7H150.5M150.5 548.9V550.5M150.5 548.9H154.9M154.9 547.9V549.9M154.9 547.9H156.8M156.8 547.7V548.2M156.8 547.7H183.3M156.8 548.2H157.4M157.4 547.9V548.4M157.4 547.9H180.1M157.4 548.4H157.7M157.7 548.2V548.6M157.7 548.2H158.0M157.7 548.6H163.5M163.5 548.5V548.8M163.5 548.5H179.1M163.5 548.8H170.2M154.9 549.9H162.8M162.8 549.6V550.2M162.8 549.6H164.1M164.1 549.3V549.9M164.1 549.3H165.5M165.5 549.1V549.5M165.5 549.1H167.0M165.5 549.5H171.5M171.5 549.3V549.6M171.5 549.3H179.2M171.5 549.6H179.8M164.1 549.9H182.9M162.8 550.2H178.2M150.5 550.5H175.4M120.2 548.4H121.2M121.2 547.9V548.9M121.2 547.9H178.1M121.2 548.9H142.7M142.7 548.2V549.7M142.7 548.2H171.3M142.7 549.7H152.5M152.5 548.8V550.6M152.5 548.8H155.2M155.2 548.4V549.2M155.2 548.4H160.3M155.2 549.2H164.8M164.8 548.9V549.6M164.8 548.9H169.1M169.1 548.7V549.1M169.1 548.7H178.2M169.1 549.1H170.3M170.3 549.0V549.3M170.3 549.0H171.4M170.3 549.3H174.6M164.8 549.6H179.1M152.5 550.6H154.3M154.3 550.0V551.1M154.3 550.0H156.4M156.4 549.8V550.3M156.4 549.8H176.8M156.4 550.3H157.2M157.2 550.1V550.4M157.2 550.1H175.8M157.2 550.4H157.6M154.3 551.1H158.3M158.3 550.7V551.5M158.3 550.7H177.5M158.3 551.5H161.5M161.5 551.0V552.0M161.5 551.0H165.3M161.5 552.0H162.2M162.2 551.7V552.4M162.2 551.7H162.7M162.7 551.4V551.9M162.7 551.4H166.6M166.6 551.2V551.5M166.6 551.2H168.3M166.6 551.5H170.8M162.7 551.9H163.2M163.2 551.8V552.1M163.2 551.8H175.3M163.2 552.1H163.5M162.2 552.4H168.2M112.3 551.7H113.3M113.3 550.3V553.1M113.3 550.3H166.9M113.3 553.1H137.3M137.3 551.8V554.3M137.3 551.8H149.0M149.0 550.6V553.0M149.0 550.6H178.7M149.0 553.0H155.1M155.1 552.4V553.7M155.1 552.4H156.7M156.7 551.5V553.4M156.7 551.5H157.5M157.5 550.9V552.1M157.5 550.9H170.7M157.5 552.1H158.0M158.0 551.4V552.8M158.0 551.4H165.2M165.2 551.1V551.6M165.2 551.1H178.2M165.2 551.6H169.7M169.7 551.4V551.7M169.7 551.4H177.2M169.7 551.7H171.6M158.0 552.8H158.1M158.1 552.6V553.1M158.2 552.3V552.8M158.2 552.3H158.2M158.2 552.1V552.5M158.2 552.0V552.3M158.2 552.3H170.4M158.2 552.5H171.7M158.2 552.8H180.7M158.1 553.1H173.6M156.7 553.4H171.3M155.1 553.7H165.3M137.3 554.3H150.4M150.4 554.1V554.5M150.4 554.1H164.5M164.5 553.9V554.2M164.5 553.9H175.9M164.5 554.2H174.0M150.4 554.5H179.7M104.5 554.6H105.5M105.5 553.5V555.6M105.5 553.5H137.3M137.3 553.2V553.8M137.3 553.2H175.2M137.3 553.8H154.1M154.1 553.5V554.2M154.1 553.5H181.2M154.1 554.2H163.6M163.6 553.9V554.4M163.6 553.9H166.0M166.0 553.7V554.0M166.0 553.7H169.4M166.0 554.0H177.6M163.6 554.4H168.3M168.3 554.3V554.6M168.3 554.3H173.7M168.3 554.6H180.2M105.5 555.6H143.2M143.2 554.9V556.4M143.2 554.9H166.6M143.2 556.4H156.5M156.5 555.8V557.0M156.5 555.8H158.8M158.8 555.5V556.1M158.8 555.5H174.3M174.3 555.3V555.7M174.3 555.3H177.4M177.4 555.1V555.4M177.4 555.1H184.0M177.4 555.4H181.3M174.3 555.7H184.6M158.8 556.1H160.6M160.6 556.0V556.3M160.6 556.0H169.8M160.6 556.3H162.2M156.5 557.0H165.0M165.0 556.5V557.5M165.0 556.5H174.2M165.0 557.5H168.9M168.9 557.2V557.8M168.9 557.2H173.6M173.6 557.0V557.4M173.6 557.0H176.8M176.8 556.8V557.1M176.8 556.8H179.6M176.8 557.1H199.5M173.6 557.4H181.1M168.9 557.8H169.9M169.9 557.7V557.9M169.9 557.7H172.1M169.9 557.9H179.2M96.7 557.0H97.7M97.7 555.8V558.3M97.7 555.8H120.1M120.1 555.4V556.3M120.1 555.4H144.1M144.1 555.2V555.6M144.1 555.2H153.7M153.7 555.0V555.3M153.7 555.0H170.9M153.7 555.3H174.3M144.1 555.6H170.2M120.1 556.3H144.1M144.1 555.9V556.6M144.1 555.9H169.3M144.1 556.6H154.9M154.9 556.3V557.0M154.9 556.3H158.8M158.8 556.1V556.4M158.8 556.1H175.9M158.8 556.4H167.8M154.9 557.0H159.9M159.9 556.7V557.3M159.9 556.7H170.6M159.9 557.3H163.8M163.8 557.1V557.5M163.8 557.1H166.2M166.2 557.0V557.3M166.2 557.0H167.7M166.2 557.3H177.9M163.8 557.5H173.2M97.7 558.3H140.6M140.6 557.8V558.7M140.6 557.8H175.2M140.6 558.7H148.7M148.7 558.5V558.9M148.7 558.5H153.6M153.6 558.2V558.7M153.6 558.2H159.4M159.4 558.1V558.4M159.4 558.1H164.0M159.4 558.4H165.9M153.6 558.7H169.7M148.7 558.9H164.0M88.8 559.9H89.8M89.8 559.0V560.8M89.8 559.0H112.9M112.9 558.5V559.6M112.9 558.5H137.3M137.3 558.1V558.8M137.3 558.1H149.8M149.8 557.8V558.4M149.8 557.8H153.3M153.3 557.6V558.0M153.3 557.6H180.3M153.3 558.0H154.9M154.9 557.8V558.1M154.9 557.8H158.4M154.9 558.1H165.1M149.8 558.4H161.7M137.3 558.8H152.5M152.5 558.7V559.0M152.5 558.7H168.6M152.5 559.0H174.0M112.9 559.6H141.3M141.3 559.2V559.9M141.3 559.2H178.4M141.3 559.9H151.6M151.6 559.7V560.1M151.6 559.7H158.3M158.3 559.5V559.8M158.3 559.5H165.2M158.3 559.8H167.2M151.6 560.1H175.7M89.8 560.8H128.6M128.6 560.4V561.2M128.6 560.4H174.2M128.6 561.2H156.3M156.3 561.0V561.5M156.3 561.0H165.2M165.2 560.8V561.2M165.2 560.8H170.3M170.3 560.6V560.9M170.3 560.6H176.3M170.3 560.9H178.7M165.2 561.2H175.2M156.3 561.5H177.1M81.0 563.5H82.0M82.0 562.6V564.5M82.0 562.6H123.2M123.2 561.3V564.0M123.2 561.3H134.1M134.1 560.3V562.2M134.1 560.3H161.3M161.3 559.9V560.7M161.3 559.9H170.3M170.3 559.7V560.1M170.3 559.7H179.2M170.3 560.1H173.7M173.7 560.0V560.3M173.7 560.0H175.9M173.7 560.3H179.5M161.3 560.7H173.5M173.5 560.5V560.8M173.5 560.5H179.6M173.5 560.8H181.7M134.1 562.2H142.3M142.3 561.4V563.1M142.3 561.4H146.1M146.1 561.1V561.7M146.1 561.1H153.9M146.1 561.7H154.8M154.8 561.5V561.9M154.8 561.5H159.8M159.8 561.4V561.7M159.8 561.4H162.4M159.8 561.7H167.2M154.8 561.9H170.9M142.3 563.1H147.3M147.3 562.5V563.6M147.3 562.5H152.4M152.4 562.2V562.8M152.4 562.2H181.8M152.4 562.8H153.3M153.3 562.5V563.1M153.3 562.5H174.8M153.3 563.1H154.1M154.1 562.9V563.3M154.1 562.9H163.7M163.7 562.8V563.1M163.7 562.8H179.9M163.7 563.1H179.0M154.1 563.3H154.8M147.3 563.6H183.8M123.2 564.0H150.8M150.8 563.9V564.2M150.8 563.9H169.5M150.8 564.2H179.3M82.0 564.5H169.3M74.2 570.8V572.9M74.2 570.8H100.0M100.0 569.1V572.4M100.0 569.1H130.9M130.9 568.3V570.0M130.9 568.3H178.2M130.9 570.0H141.4M141.4 569.4V570.5M141.4 569.4H152.8M152.8 569.1V569.7M152.8 569.1H160.9M160.9 568.8V569.5M160.9 568.8H163.4M163.4 568.6V569.0M163.4 568.6H172.1M163.4 569.0H164.1M164.1 568.9V569.2M164.1 568.9H165.1M164.1 569.2H171.4M160.9 569.5H167.7M152.8 569.7H172.2M141.4 570.5H143.6M143.6 570.2V570.8M143.6 570.2H151.0M151.0 570.0V570.3M151.0 570.0H173.4M151.0 570.3H155.5M143.6 570.8H144.9M144.9 570.6V571.0M144.9 570.6H168.5M144.9 571.0H145.6M145.6 570.9V571.2M145.6 570.9H178.7M145.6 571.2H146.1M146.1 571.1V571.3M146.1 571.1H154.5M146.1 571.3H146.2M146.2 571.2V571.4M146.2 571.2H164.8M146.2 571.4H146.3M146.3 571.4H156.6M146.3 571.4H146.4M100.0 572.4H129.3M129.3 571.7V573.1M129.3 571.7H156.2M129.3 573.1H139.2M139.2 572.6V573.5M139.2 572.6H145.8M145.8 572.3V572.8M145.8 572.3H148.0M148.0 572.1V572.6M148.0 572.1H149.8M149.8 572.0V572.3M149.8 572.0H161.7M149.8 572.3H151.0M148.0 572.6H150.2M145.8 572.8H157.7M139.2 573.5H144.0M144.0 573.3V573.8M144.0 573.3H147.9M147.9 573.1V573.4M147.9 573.1H150.2M147.9 573.4H165.9M144.0 573.8H147.6M147.6 573.7V574.0M147.6 573.7H155.3M147.6 574.0H150.3M68.0 592.2H69.9M69.9 587.2V597.3M69.9 587.2H80.0M80.0 585.2V589.1M80.0 585.2H89.0M89.0 582.3V588.1M89.0 582.3H98.0M98.0 580.4V584.2M98.0 580.4H107.0M107.0 579.9V580.9M107.0 579.9H116.0M116.0 578.7V581.1M116.0 578.7H126.0M126.0 577.4V580.0M126.0 577.4H139.3M139.3 576.7V578.0M139.3 576.7H178.5M139.3 578.0H147.6M147.6 577.5V578.5M147.6 577.5H150.3M150.3 577.2V577.8M150.3 577.2H150.9M150.9 577.0V577.4M150.9 577.0H174.4M150.9 577.4H151.1M151.1 577.3V577.6M151.1 577.3H151.5M151.1 577.6H176.1M150.3 577.8H163.7M147.6 578.5H153.1M153.1 578.3V578.8M153.1 578.3H159.0M159.0 578.1V578.4M159.0 578.1H166.8M159.0 578.4H162.6M153.1 578.8H155.0M155.0 578.7V579.0M155.0 578.7H163.2M155.0 579.0H157.7M126.0 580.0H139.5M139.5 579.6V580.5M139.5 579.6H145.7M145.7 579.2V579.9M145.7 579.2H157.4M145.7 579.9H153.6M153.6 579.7V580.1M153.6 579.7H160.2M160.2 579.5V579.8M160.2 579.5H173.8M160.2 579.8H163.4M153.6 580.1H174.6M139.5 580.5H148.2M148.2 580.4V580.6M148.2 580.4H157.4M148.2 580.6H160.4M116.0 581.1H117.0M117.0 580.0V582.2M117.0 580.0H129.9M129.9 579.0V581.0M129.9 579.0H142.2M142.2 578.5V579.4M142.2 578.5H149.3M149.3 578.3V578.7M149.3 578.3H151.1M151.1 578.2V578.4M151.1 578.2H173.2M151.1 578.4H153.3M149.3 578.7H167.4M142.2 579.4H145.4M145.4 579.0V579.8M145.4 579.0H167.6M145.4 579.8H147.2M147.2 579.5V580.1M147.2 579.5H148.0M148.0 579.3V579.7M148.0 579.3H179.7M148.0 579.7H149.0M149.0 579.6V579.8M149.0 579.6H156.9M149.0 579.8H149.6M147.2 580.1H172.8M129.9 581.0H142.7M142.7 580.4V581.5M142.7 580.4H156.8M142.7 581.5H153.6M153.6 581.2V581.8M153.6 581.2H156.3M156.3 580.9V581.5M156.3 580.9H162.9M162.9 580.7V581.1M162.9 580.7H169.2M162.9 581.1H163.8M163.8 581.0V581.2M163.8 581.0H172.5M163.8 581.2H165.9M156.3 581.5H162.4M153.6 581.8H170.6M117.0 582.2H134.6M134.6 582.1V582.4M134.6 582.1H163.9M134.6 582.4H171.1M107.0 580.9H108.0M108.0 580.4V581.3M108.0 580.4H165.9M108.0 581.3H143.5M143.5 580.7V582.0M143.5 580.7H193.3M143.5 582.0H154.8M154.8 580.9V583.0M154.8 580.9H183.9M154.8 583.0H157.7M157.7 582.5V583.6M157.7 582.5H159.7M159.7 581.8V583.2M159.7 581.8H160.2M160.2 581.2V582.3M160.2 581.2H179.9M160.2 582.3H160.6M160.6 581.8V582.9M160.6 581.8H160.8M160.8 581.5V582.0M160.8 581.5H182.2M160.8 582.0H160.9M160.9 581.8V582.3M160.9 581.8H171.9M160.9 582.3H161.0M161.0 582.1V582.5M161.0 582.1H182.9M161.1 582.3V582.6M161.1 582.3H164.9M161.1 582.6H161.1M160.6 582.9H181.9M159.7 583.2H182.2M157.7 583.6H162.1M162.1 583.5V583.7M162.1 583.5H170.5M162.1 583.7H167.2M98.0 584.2H99.0M99.0 583.1V585.3M99.0 583.1H127.8M127.8 582.8V583.4M127.8 582.8H135.5M135.5 582.7V583.0M135.5 582.7H152.7M135.5 583.0H166.6M127.8 583.4H137.9M137.9 583.3V583.5M137.9 583.3H161.1M137.9 583.5H169.7M99.0 585.3H119.8M119.8 584.3V586.3M119.8 584.3H134.3M134.3 583.8V584.7M134.3 583.8H169.5M134.3 584.7H141.8M141.8 584.1V585.4M141.8 584.1H167.6M141.8 585.4H146.1M146.1 585.0V585.8M146.1 585.0H146.9M146.9 584.7V585.4M146.9 584.7H147.6M147.6 584.5V584.9M147.6 584.5H147.8M147.8 584.4V584.7M147.8 584.4H148.0M147.8 584.7H157.0M147.6 584.9H169.1M146.9 585.4H153.4M153.4 585.2V585.5M153.4 585.2H166.0M153.4 585.5H163.4M146.1 585.8H150.4M119.8 586.3H148.6M148.6 586.1V586.5M148.6 586.1H173.1M148.6 586.5H156.0M156.0 586.3V586.6M156.0 586.3H163.2M156.0 586.6H170.6M89.0 588.1H90.0M90.0 586.7V589.5M90.0 586.7H136.9M136.9 585.8V587.5M136.9 585.8H152.0M152.0 585.3V586.3M152.0 585.3H161.6M161.6 585.1V585.6M161.6 585.1H172.3M161.6 585.6H166.6M166.6 585.4V585.8M166.6 585.4H179.0M166.6 585.8H168.6M168.6 585.6V585.9M168.6 585.6H173.6M168.6 585.9H171.8M152.0 586.3H155.7M155.7 586.2V586.5M155.7 586.2H161.8M155.7 586.5H175.0M136.9 587.5H158.0M158.0 587.0V588.0M158.0 587.0H169.7M169.7 586.8V587.2M169.7 586.8H177.3M169.7 587.2H174.6M174.6 587.0V587.5M174.6 587.0H180.4M174.6 587.5H176.4M176.4 587.3V587.6M176.4 587.3H180.1M176.4 587.6H179.8M158.0 588.0H164.4M164.4 587.9V588.2M164.4 587.9H173.3M164.4 588.2H179.4M90.0 589.5H114.6M114.6 589.2V589.8M114.6 589.2H136.4M136.4 588.9V589.6M136.4 588.9H150.8M150.8 588.6V589.1M150.8 588.6H166.7M166.7 588.4V588.7M166.7 588.4H177.3M166.7 588.7H174.0M150.8 589.1H153.7M153.7 589.0V589.3M153.7 589.0H178.1M153.7 589.3H157.9M136.4 589.6H173.2M114.6 589.8H180.3M80.0 589.1H81.0M81.0 587.7V590.5M81.0 587.7H129.5M129.5 587.4V588.1M129.5 587.4H168.3M129.5 588.1H146.5M146.5 587.8V588.4M146.5 587.8H152.0M152.0 587.7V587.9M152.0 587.7H166.6M152.0 587.9H158.0M146.5 588.4H153.8M153.8 588.2V588.5M153.8 588.2H166.1M153.8 588.5H161.2M81.0 590.5H113.1M113.1 590.0V591.1M113.1 590.0H128.2M128.2 589.5V590.5M128.2 589.5H145.3M145.3 589.0V590.0M145.3 589.0H155.2M155.2 588.8V589.2M155.2 588.8H165.4M155.2 589.2H159.1M159.1 589.1V589.3M159.1 589.1H162.7M159.1 589.3H175.6M145.3 590.0H149.7M149.7 589.8V590.2M149.7 589.8H153.0M153.0 589.6V589.9M153.0 589.6H155.2M153.0 589.9H169.4M149.7 590.2H177.6M128.2 590.5H160.8M113.1 591.1H137.1M137.1 590.9V591.3M137.1 590.9H147.4M147.4 590.7V591.0M147.4 590.7H174.3M147.4 591.0H168.9M137.1 591.3H191.4M69.9 597.3H86.0M86.0 594.3V600.2M86.0 594.3H94.7M94.7 593.3V595.3M94.7 593.3H103.3M103.3 590.9V595.8M103.3 590.9H113.0M113.0 590.1V591.7M113.0 590.1H130.2M130.2 589.6V590.6M130.2 589.6H134.9M134.9 588.9V590.3M134.9 588.9H136.5M136.5 588.4V589.3M136.5 588.4H166.8M136.5 589.3H138.3M138.3 588.9V589.8M138.3 588.9H139.1M139.1 588.6V589.1M139.1 588.6H165.9M139.1 589.1H139.6M139.6 588.9V589.2M139.6 588.9H140.0M139.6 589.2H147.8M138.3 589.8H145.6M145.6 589.6V590.0M145.6 589.6H151.3M151.3 589.5V589.8M151.3 589.5H158.7M151.3 589.8H159.5M145.6 590.0H162.4M134.9 590.3H166.8M130.2 590.6H161.2M113.0 591.7H135.0M135.0 591.5V592.0M135.0 591.5H146.8M146.8 591.2V591.7M146.8 591.2H152.9M152.9 591.0V591.4M152.9 591.0H156.8M156.8 590.9V591.2M156.8 590.9H167.1M156.8 591.2H158.5M152.9 591.4H161.5M146.8 591.7H166.1M135.0 592.0H161.7M103.3 595.8H104.3M104.3 595.2V596.3M104.3 595.2H133.5M133.5 594.5V596.0M133.5 594.5H144.5M144.5 593.8V595.2M144.5 593.8H149.4M149.4 593.3V594.2M149.4 593.3H153.2M153.2 592.9V593.8M153.2 592.9H154.8M154.8 592.5V593.3M154.8 592.5H160.5M160.5 592.4V592.7M160.5 592.4H167.5M160.5 592.7H163.3M154.8 593.3H155.7M155.7 593.1V593.5M155.7 593.1H158.5M158.5 592.9V593.2M158.5 592.9H171.1M158.5 593.2H161.1M155.7 593.5H157.0M153.2 593.8H167.2M149.4 594.2H153.3M153.3 594.1V594.3M153.3 594.1H164.4M153.3 594.3H155.5M144.5 595.2H146.9M146.9 594.8V595.6M146.9 594.8H148.9M148.9 594.6V595.0M148.9 594.6H150.5M148.9 595.0H152.3M152.3 594.9V595.2M152.3 594.9H166.7M152.3 595.2H159.0M146.9 595.6H151.5M151.5 595.5V595.7M151.5 595.5H158.7M151.5 595.7H166.3M133.5 596.0H168.4M104.3 596.3H171.2M94.7 595.3H95.7M95.7 594.2V596.5M95.7 594.2H163.0M95.7 596.5H111.4M111.4 595.5V597.6M111.4 595.5H125.3M125.3 594.8V596.1M125.3 594.8H149.2M149.2 594.4V595.1M149.2 594.4H162.6M149.2 595.1H154.6M154.6 594.9V595.4M154.6 594.9H160.8M160.8 594.7V595.0M160.8 594.7H165.4M160.8 595.0H168.9M154.6 595.4H156.7M156.7 595.3V595.6M156.7 595.3H164.5M156.7 595.6H161.3M125.3 596.1H130.6M130.6 595.8V596.5M130.6 595.8H162.6M130.6 596.5H135.4M135.4 596.3V596.7M135.4 596.3H148.7M148.7 596.1V596.4M148.7 596.1H159.4M148.7 596.4H163.8M135.4 596.7H141.6M111.4 597.6H127.8M127.8 597.2V598.0M127.8 597.2H141.1M141.1 597.0V597.4M141.1 597.0H165.8M141.1 597.4H146.5M146.5 597.2V597.5M146.5 597.2H166.4M146.5 597.5H150.9M127.8 598.0H146.4M146.4 597.8V598.2M146.4 597.8H167.3M146.4 598.2H157.0M157.0 598.1V598.4M157.0 598.1H167.3M157.0 598.4H169.8M86.0 600.2H87.0M87.0 599.5V601.0M87.0 599.5H102.9M102.9 598.6V600.5M102.9 598.6H136.9M136.9 598.2V599.1M136.9 598.2H145.2M145.2 597.9V598.4M145.2 597.9H151.5M151.5 597.6V598.2M151.5 597.6H154.3M154.3 597.4V597.9M154.3 597.4H155.2M155.2 597.2V597.6M155.2 597.2H158.4M158.4 597.0V597.3M158.4 597.0H162.4M158.4 597.3H160.9M155.2 597.6H155.8M154.3 597.9H168.0M151.5 598.2H158.5M145.2 598.4H187.3M136.9 599.1H148.7M148.7 598.7V599.4M148.7 598.7H166.7M148.7 599.4H154.0M154.0 599.1V599.7M154.0 599.1H160.6M160.6 599.0V599.3M160.6 599.0H167.2M160.6 599.3H164.8M154.0 599.7H157.7M157.7 599.6V599.8M157.7 599.6H171.3M157.7 599.8H160.3M102.9 600.5H123.6M123.6 600.3V600.7M123.6 600.3H128.8M128.8 600.1V600.4M128.8 600.1H165.2M128.8 600.4H136.6M123.6 600.7H160.6M87.0 601.0H142.1M65.5 632.6H68.0M68.0 630.9V634.3M68.0 630.9H78.0M78.0 629.0V632.8M78.0 629.0H88.0M88.0 627.3V630.8M88.0 627.3H98.0M98.0 625.4V629.1M98.0 625.4H108.0M108.0 623.0V627.9M108.0 623.0H118.0M118.0 621.0V624.9M118.0 621.0H128.0M128.0 618.7V623.3M128.0 618.7H138.0M138.0 616.8V620.7M138.0 616.8H148.0M148.0 614.0V619.6M148.0 614.0H150.0M150.0 605.9V614.4M150.0 614.4H172.0M172.0 612.6V616.1M172.0 612.6H216.8M172.0 616.1H183.1M183.1 613.8V618.4M183.1 613.8H189.0M189.0 613.3V614.4M189.0 613.3H213.5M189.0 614.4H190.5M190.5 613.7V615.1M190.5 613.7H202.2M202.2 613.6V613.9M202.2 613.6H205.3M202.2 613.9H215.2M190.5 615.1H191.1M191.1 614.2V616.0M191.1 614.2H210.7M191.1 616.0H191.3M191.3 615.5V616.6M191.3 615.5H191.5M191.5 615.2V615.7M191.5 615.2H191.6M191.6 614.9V615.5M191.6 614.9H199.8M199.8 614.6V615.1M199.8 614.6H206.9M206.9 614.5V614.8M206.9 614.5H216.0M206.9 614.8H211.1M199.8 615.1H209.9M191.6 615.4V615.7M191.6 615.7H201.7M191.5 615.7H207.6M191.3 616.6H196.5M196.5 616.2V617.0M196.5 616.2H200.1M200.1 616.0V616.3M200.1 616.0H210.8M200.1 616.3H203.4M196.5 617.0H197.3M197.3 616.6V617.3M197.3 616.6H197.9M197.3 617.3H198.8M198.8 616.9V617.6M198.8 616.9H206.2M198.8 617.6H199.3M199.3 617.2V617.9M199.3 617.2H200.4M199.3 617.9H199.5M199.5 617.7V618.1M199.6 617.5V617.8M199.6 617.5H212.5M199.5 618.1H233.5M183.1 618.4H204.4M150.0 605.9H165.0M165.0 602.3V609.5M165.0 602.3H188.0M188.0 600.8V603.7M188.0 600.8H186.6M188.0 603.7H195.6M195.6 602.5V604.9M195.6 602.5H196.9M196.9 601.7V603.3M196.9 601.7H204.7M196.9 603.3H197.5M197.5 602.6V603.9M197.5 602.6H197.9M197.9 602.2V603.0M197.9 602.2H198.1M198.1 602.0V602.3M198.1 602.0H206.2M198.1 602.3H198.2M197.9 603.0H198.6M198.6 602.8V603.2M198.6 602.8H203.1M203.1 602.6V602.9M203.1 602.6H206.0M203.1 602.9H205.7M198.6 603.2H199.3M197.5 603.9H203.1M203.1 603.7V604.2M203.1 603.7H204.6M204.6 603.5V603.8M204.6 603.5H205.7M204.6 603.8H205.9M203.1 604.2H205.6M195.6 604.9H197.2M197.2 604.5V605.3M197.2 604.5H204.3M197.2 605.3H197.8M197.8 604.8V605.9M197.8 604.8H204.2M197.8 605.9H197.9M197.9 605.5V606.2M197.9 605.5H197.9M197.9 605.3V605.7M197.9 605.3V605.4M197.9 605.1V605.4M197.9 605.1H201.5M197.9 605.4H203.2M197.9 605.7H203.5M197.9 606.2H201.0M201.0 606.0V606.3M201.0 606.0H205.4M201.0 606.3H202.9M165.0 609.5H228.0M148.0 619.6H149.0M149.0 618.2V620.9M149.0 618.2H160.0M160.0 617.8V618.7M160.0 617.8H177.9M160.0 618.7H167.0M167.0 618.1V619.3M167.0 618.1H169.5M167.0 619.3H168.4M168.4 618.8V619.9M168.4 618.8H169.3M169.3 618.4V619.2M169.3 618.4H170.5M169.3 619.2H177.8M177.8 618.9V619.6M177.8 618.9H179.1M179.1 618.7V619.1M179.1 618.7H186.3M179.1 619.1H180.1M180.1 619.0V619.3M180.1 619.0H196.9M180.1 619.3H180.9M177.8 619.6H184.1M168.4 619.9H192.2M149.0 620.9H172.2M172.2 620.6V621.2M172.2 620.6H177.5M177.5 620.3V620.8M177.5 620.3H179.3M179.3 620.2V620.5M179.3 620.2H183.8M179.3 620.5H182.7M177.5 620.8H183.8M172.2 621.2H175.9M175.9 621.1V621.4M175.9 621.1H188.5M175.9 621.4H183.7M138.0 620.7H139.0M139.0 620.0V621.4M139.0 620.0H180.9M139.0 621.4H153.6M153.6 620.8V622.0M153.6 620.8H168.3M168.3 620.5V621.2M168.3 620.5H173.8M173.8 620.3V620.7M173.8 620.3H183.1M173.8 620.7H175.6M175.6 620.6V620.9M175.6 620.6H183.3M175.6 620.9H178.7M168.3 621.2H188.0M153.6 622.0H159.0M159.0 621.5V622.4M159.0 621.5H181.1M159.0 622.4H162.1M162.1 622.0V622.8M162.1 622.0H163.1M163.1 621.8V622.2M163.1 621.8H182.1M163.1 622.2H163.4M163.4 622.1V622.4M163.4 622.1H163.9M163.4 622.4H188.4M162.1 622.8H168.8M168.8 622.7V623.0M168.8 622.7H171.7M168.8 623.0H177.4M128.0 623.3H129.0M129.0 622.7V624.0M129.0 622.7H140.6M140.6 622.1V623.3M140.6 622.1H160.7M160.7 621.5V622.8M160.7 621.5H165.7M165.7 621.0V622.0M165.7 621.0H180.1M165.7 622.0H167.1M167.1 621.6V622.5M167.1 621.6H169.3M169.3 621.3V621.9M169.3 621.3H172.3M169.3 621.9H170.4M170.4 621.7V622.2M170.4 621.7H173.8M173.8 621.6V621.9M173.8 621.6H176.8M173.8 621.9H175.3M170.4 622.2H171.3M167.1 622.5H167.8M160.7 622.8H182.5M140.6 623.3H143.8M143.8 623.1V623.5M143.8 623.1H178.7M143.8 623.5H145.2M145.2 623.4V623.7M145.2 623.4H147.3M145.2 623.7H175.5M129.0 624.0H178.7M118.0 624.9H119.0M119.0 624.2V625.6M119.0 624.2H139.3M139.3 623.1V625.3M139.3 623.1H145.1M145.1 622.3V623.9M145.1 622.3H165.6M145.1 623.9H149.5M149.5 623.0V624.8M149.5 623.0H159.3M159.3 622.6V623.4M159.3 622.6H174.0M159.3 623.4H164.5M164.5 623.1V623.8M164.5 623.1H166.9M166.9 622.9V623.2M166.9 622.9H175.6M166.9 623.2H171.2M164.5 623.8H167.5M167.5 623.5V624.0M167.5 623.5H190.8M167.5 624.0H169.8M169.8 623.8V624.1M169.8 623.8H174.2M169.8 624.1H171.0M149.5 624.8H150.3M150.3 624.6V625.0M150.3 624.6H159.8M159.8 624.4V624.7M159.8 624.4H167.1M159.8 624.7H174.6M150.3 625.0H151.4M139.3 625.3H165.6M119.0 625.6H169.8M108.0 627.9H109.0M109.0 627.2V628.6M109.0 627.2H133.9M133.9 626.2V628.3M133.9 626.2H147.4M147.4 625.6V626.8M147.4 625.6H171.4M147.4 626.8H154.2M154.2 626.2V627.4M154.2 626.2H160.9M160.9 625.9V626.5M160.9 625.9H173.6M160.9 626.5H165.5M165.5 626.3V626.8M165.5 626.3H166.8M166.8 626.2V626.5M166.8 626.2H168.4M166.8 626.5H172.7M165.5 626.8H173.6M154.2 627.4H159.9M159.9 627.1V627.7M159.9 627.1H191.0M159.9 627.7H161.8M161.8 627.5V628.0M161.8 627.5H163.4M163.4 627.4V627.7M163.4 627.4H163.9M163.4 627.7H169.8M161.8 628.0H184.7M133.9 628.3H174.7M109.0 628.6H171.5M98.0 629.1H99.0M99.0 627.9V630.3M99.0 627.9H122.3M122.3 627.1V628.7M122.3 627.1H155.9M122.3 628.7H127.7M127.7 628.2V629.3M127.7 628.2H135.0M135.0 627.8V628.5M135.0 627.8H140.4M140.4 627.6V628.0M140.4 627.6H148.3M148.3 627.4V627.7M148.3 627.4H151.9M148.3 627.7H185.0M140.4 628.0H169.0M135.0 628.5H146.9M146.9 628.3V628.6M146.9 628.3H157.1M146.9 628.6H163.9M127.7 629.3H130.8M130.8 628.9V629.6M130.8 628.9H133.6M130.8 629.6H144.5M144.5 629.4V629.8M144.5 629.4H154.7M154.7 629.2V629.5M154.7 629.2H161.8M154.7 629.5H160.8M144.5 629.8H161.7M99.0 630.3H126.3M126.3 630.1V630.4M126.3 630.1H165.5M126.3 630.4H160.8M88.0 630.8H89.0M89.0 629.9V631.7M89.0 629.9H117.1M117.1 629.5V630.3M117.1 629.5H128.8M128.8 629.2V629.8M128.8 629.2H139.3M139.3 629.1V629.4M139.3 629.1H143.4M139.3 629.4H172.5M128.8 629.8H138.3M138.3 629.7V630.0M138.3 629.7H151.8M138.3 630.0H145.1M117.1 630.3H162.1M89.0 631.7H115.0M115.0 631.2V632.2M115.0 631.2H130.3M130.3 630.8V631.6M130.3 630.8H141.6M141.6 630.6V631.0M141.6 630.6H156.7M141.6 631.0H146.5M146.5 630.9V631.2M146.5 630.9H153.7M146.5 631.2H160.3M130.3 631.6H142.7M142.7 631.5V631.8M142.7 631.5H167.4M142.7 631.8H152.1M115.0 632.2H136.7M136.7 632.1V632.4M136.7 632.1H148.1M136.7 632.4H157.3M78.0 632.8H79.0M79.0 632.1V633.5M79.0 632.1H130.0M130.0 631.2V633.0M130.0 631.2H140.0M140.0 630.6V631.7M140.0 630.6H149.8M140.0 631.7H145.6M145.6 631.3V632.2M145.6 631.3H148.0M148.0 631.1V631.5M148.0 631.1H148.6M148.6 630.9V631.2M148.6 630.9H155.3M148.6 631.2H148.9M148.0 631.5H159.8M145.6 632.2H147.7M147.7 631.8V632.5M147.7 631.8H150.7M147.7 632.5H152.0M152.0 632.3V632.7M152.0 632.3H153.6M153.6 632.1V632.4M153.6 632.1H185.6M153.6 632.4H154.8M152.0 632.7H159.1M130.0 633.0H147.5M79.0 633.5H102.2M102.2 633.3V633.6M102.2 633.3H154.2M102.2 633.6H168.8M68.0 634.3H69.0M69.0 633.3V635.2M69.0 633.3H116.7M116.7 632.9V633.7M116.7 632.9H131.3M131.3 632.6V633.2M131.3 632.6H136.4M136.4 632.5V632.8M136.4 632.5H152.1M136.4 632.8H140.8M131.3 633.2H146.1M146.1 633.1V633.4M146.1 633.1H159.7M146.1 633.4H153.0M116.7 633.7H167.1M69.0 635.2H110.4M110.4 634.4V635.9M110.4 634.4H122.5M122.5 634.0V634.9M122.5 634.0H138.2M122.5 634.9H139.3M139.3 634.4V635.3M139.3 634.4H142.9M142.9 634.3V634.6M142.9 634.3H150.4M142.9 634.6H145.1M139.3 635.3H142.5M142.5 635.0V635.5M142.5 635.0H145.6M145.6 634.9V635.2M145.6 634.9H151.6M145.6 635.2H147.8M142.5 635.5H151.6M110.4 635.9H130.8M130.8 635.8V636.1M130.8 635.8H154.6M130.8 636.1H151.6M48.4 655.4H58.0M58.0 648.9V662.0M58.0 648.9H66.0M66.0 645.9V651.8M66.0 645.9H77.6M77.6 641.9V649.9M77.6 641.9H96.1M96.1 639.8V644.0M96.1 639.8H105.1M105.1 638.6V641.0M105.1 638.6H115.9M115.9 638.3V638.9M115.9 638.3H131.4M131.4 638.0V638.5M131.4 638.0H142.4M142.4 637.9V638.2M142.4 637.9H171.5M142.4 638.2H156.8M131.4 638.5H185.1M115.9 638.9H121.9M121.9 638.8V639.0M121.9 638.8H163.4M121.9 639.0H126.2M126.2 638.9V639.1M126.2 638.9H135.7M126.2 639.1H165.7M105.1 641.0H113.7M113.7 639.5V642.5M113.7 639.5H138.0M138.0 639.4V639.7M138.0 639.4H166.5M138.0 639.7H167.7M113.7 642.5H122.8M122.8 641.9V643.1M122.8 641.9H133.0M133.0 641.0V642.8M133.0 641.0H136.4M136.4 640.1V641.8M136.4 640.1H138.1M138.1 640.0V640.3M138.1 640.0H194.3M138.1 640.3H142.9M142.9 640.1V640.5M142.9 640.1H159.3M142.9 640.5H145.0M145.0 640.3V640.7M145.0 640.3H148.9M148.9 640.3V640.4M148.9 640.3H161.3M148.9 640.4H163.0M145.0 640.7H145.6M145.6 640.6V640.8M145.6 640.6H177.6M145.6 640.8H146.3M146.3 640.7V640.9M146.3 640.7H156.4M146.3 640.9H146.9M146.9 640.9V640.9M146.9 640.9H175.3M146.9 640.9H147.1M147.1 640.9V641.0M147.1 640.9H147.4M147.1 641.0H170.4M136.4 641.8H138.9M138.9 641.4V642.3M138.9 641.4H143.2M143.2 641.2V641.6M143.2 641.2H151.1M151.1 641.2V641.3M151.1 641.2H174.5M151.1 641.3H157.7M143.2 641.6H165.5M138.9 642.3H140.3M140.3 642.0V642.5M140.3 642.0H148.4M148.4 641.9V642.2M148.4 641.9H158.1M148.4 642.2H159.2M140.3 642.5H142.4M133.0 642.8H159.2M122.8 643.1H166.5M96.1 644.0H107.6M107.6 643.7V644.3M107.6 643.7H117.9M117.9 643.5V643.9M117.9 643.5H120.6M120.6 643.4V643.6M120.6 643.4H173.0M120.6 643.6H134.4M117.9 643.9H136.0M107.6 644.3H114.2M114.2 644.2V644.5M114.2 644.2H145.9M114.2 644.5H144.3M77.6 649.9H84.5M84.5 648.3V651.5M84.5 648.3H101.1M101.1 646.4V650.1M101.1 646.4H110.4M110.4 644.8V648.1M110.4 644.8H138.4M110.4 648.1H115.8M115.8 647.0V649.3M115.8 647.0H118.5M118.5 646.2V647.7M118.5 646.2H121.0M121.0 645.8V646.7M121.0 645.8H121.3M121.3 645.3V646.3M121.3 645.3H121.7M121.7 645.1V645.5M121.7 645.1H135.4M121.7 645.5H122.1M122.1 645.3V645.7M122.1 645.3H122.4M122.4 645.3V645.4M122.4 645.3H154.7M122.4 645.4H122.9M122.1 645.7H135.2M121.3 646.3H126.3M126.3 646.1V646.5M126.3 646.1H129.0M129.0 646.0V646.2M129.0 646.0H133.0M129.0 646.2H132.1M132.1 646.1V646.3M132.1 646.1H136.7M136.7 646.0V646.1M136.7 646.0H185.0M136.7 646.1H141.0M132.1 646.3H156.3M126.3 646.5H132.5M132.5 646.4V646.6M132.5 646.4H142.4M132.5 646.6H138.1M121.0 646.7H132.8M118.5 647.7H119.4M119.4 647.5V647.9M119.4 647.5H121.3M121.3 647.3V647.8M121.3 647.3H122.7M122.7 647.0V647.5M122.7 647.0H123.2M123.2 646.9V647.2M123.2 646.9H129.6M123.2 647.2H123.6M123.6 647.1V647.3M123.6 647.1H123.8M123.8 647.0V647.2M123.8 647.0H124.0M123.8 647.2H134.3M123.6 647.3H139.8M122.7 647.5H125.6M125.6 647.5V647.6M125.6 647.5H139.1M125.6 647.6H136.7M121.3 647.8H139.7M119.4 647.9H140.3M115.8 649.3H119.1M119.1 649.1V649.4M119.1 649.1H122.3M122.3 648.8V649.4M122.3 648.8H123.8M123.8 648.5V649.1M123.8 648.5H124.2M124.2 648.2V648.8M124.2 648.2H128.0M128.0 648.2H141.7M128.0 648.2H140.4M124.2 648.8H125.1M125.1 648.6V649.1M125.1 648.6H125.4M125.4 648.5V648.7M125.4 648.5H140.9M125.4 648.7H125.6M125.6 648.5V648.8M125.6 648.5H145.5M125.6 648.8H125.8M125.8 648.8H125.9M125.8 648.8H136.6M125.1 649.1H142.9M123.8 649.1H140.1M122.3 649.4H137.1M119.1 649.4H146.1M101.1 650.1H116.1M116.1 649.8V650.5M116.1 649.8H124.9M124.9 649.7V649.9M124.9 649.7H139.0M124.9 649.9H134.2M134.2 649.7V650.0M134.2 649.7H142.1M134.2 650.0H142.6M116.1 650.5H120.1M120.1 650.2V650.8M120.1 650.2H123.8M123.8 650.2V650.3M123.8 650.2H126.7M126.7 650.0V650.3M126.7 650.0H129.0M126.7 650.3H134.9M134.9 650.3H187.5M134.9 650.3H140.5M123.8 650.3H143.5M120.1 650.8H127.6M127.6 650.6V650.9M127.6 650.6H145.9M127.6 650.9H143.5M84.5 651.5H109.3M109.3 651.4V651.6M109.3 651.4H117.2M117.2 651.2V651.5M117.2 651.2H126.9M117.2 651.5H144.2M109.3 651.6H137.8M66.0 651.8H138.5M58.0 662.0H62.0M62.0 657.2V666.8M62.0 657.2H87.2M87.2 655.1V659.3M87.2 655.1H113.5M113.5 653.8V656.4M113.5 653.8H117.5M117.5 653.1V654.4M117.5 653.1H121.0M121.0 652.8V653.4M121.0 652.8H145.1M121.0 653.4H122.7M122.7 653.1V653.6M122.7 653.1H152.8M122.7 653.6H127.5M127.5 653.4V653.7M127.5 653.4H148.6M127.5 653.7H132.2M117.5 654.4H128.6M128.6 654.2V654.6M128.6 654.2H133.2M133.2 654.0V654.3M133.2 654.0H151.0M133.2 654.3H153.2M128.6 654.6H140.6M113.5 656.4H122.6M122.6 655.7V657.2M122.6 655.7H126.4M126.4 655.1V656.3M126.4 655.1H131.2M131.2 654.9V655.2M131.2 654.9H135.9M131.2 655.2H134.1M134.1 655.2H154.6M134.1 655.2H137.3M126.4 656.3H131.2M131.2 655.8V656.7M131.2 655.8H132.0M132.0 655.5V656.0M132.0 655.5H152.0M132.0 656.0H133.7M133.7 655.5V656.5M133.7 655.5H139.0M133.7 656.5H134.1M134.1 656.3V656.7M134.1 656.3H134.5M134.5 656.1V656.4M134.5 656.1H134.7M134.7 656.0V656.1M134.7 656.0H134.8M134.8 655.8V656.1M134.8 655.8H134.9M134.9 655.8H150.7M134.9 655.8H135.1M134.8 656.1H159.1M134.7 656.1H142.0M134.5 656.4H143.8M143.8 656.4H173.5M143.8 656.4H153.9M134.1 656.7H156.1M131.2 656.7H146.1M122.6 657.2H133.7M133.7 657.0V657.3M133.7 657.0H135.8M135.8 657.0H162.7M135.8 657.0H142.6M133.7 657.3H161.9M87.2 659.3H99.4M99.4 658.3V660.3M99.4 658.3H109.9M109.9 657.9V658.8M109.9 657.9H121.9M121.9 657.6V658.1M121.9 657.6H152.7M121.9 658.1H129.8M129.8 657.9V658.2M129.8 657.9H138.8M129.8 658.2H133.2M133.2 658.0V658.4M133.2 658.0H181.3M133.2 658.4H136.3M136.3 658.2V658.5M136.3 658.2H139.5M136.3 658.5H139.0M139.0 658.5V658.5M139.0 658.5H141.1M139.0 658.5H152.5M109.9 658.8H142.6M99.4 660.3H111.7M111.7 659.2V661.4M111.7 659.2H116.9M116.9 659.1V659.4M116.9 659.1H143.0M116.9 659.4H141.7M111.7 661.4H117.7M117.7 659.7V663.1M117.7 659.7H146.3M117.7 663.1H123.2M123.2 661.3V664.8M123.2 661.3H124.4M124.4 660.0V662.7M124.4 660.0H128.2M128.2 660.0V660.1M128.2 660.0H149.3M128.2 660.1H168.7M124.4 662.7H127.4M127.4 662.1V663.2M127.4 662.1H128.3M128.3 661.5V662.8M128.3 661.5H128.7M128.7 660.5V662.5M128.7 660.5H129.0M129.0 660.3V660.6M129.0 660.3H143.6M129.0 660.6H129.2M129.2 660.4V660.9M129.2 660.4H155.9M129.2 660.9H129.4M129.4 660.6V661.1M129.4 660.6H129.7M129.7 660.6V660.7M129.7 660.6H129.9M129.7 660.7H160.5M129.4 661.1H135.9M135.9 660.9V661.4M135.9 660.9H145.6M135.9 661.4H138.9M138.9 661.1V661.6M138.9 661.1H141.4M141.4 661.0V661.3M141.4 661.0H151.1M141.4 661.3H143.0M143.0 661.2V661.4M143.0 661.2H147.1M143.0 661.4H143.3M143.3 661.3V661.5M143.3 661.3H151.7M143.3 661.5H144.6M138.9 661.6H153.2M128.7 662.5H130.0M130.0 662.2V662.7M130.0 662.2H132.2M132.2 662.0V662.4M132.2 662.0H133.7M133.7 661.9V662.1M133.7 661.9H134.2M134.2 661.8V661.9M134.2 661.8H141.0M141.0 661.8V661.9M141.0 661.8H157.1M141.0 661.9H155.3M134.2 661.9H135.5M133.7 662.1H139.5M139.5 662.1V662.2M139.5 662.1H155.1M139.5 662.2H169.1M132.2 662.4H142.2M142.2 662.4V662.5M142.2 662.4H155.5M142.2 662.5H160.7M130.0 662.7H145.4M128.3 662.8H159.7M127.4 663.2H128.3M128.3 663.0V663.4M128.3 663.0H151.3M128.3 663.4H128.9M128.9 663.2V663.5M128.9 663.2H140.2M140.2 663.1V663.3M140.2 663.1H145.0M145.0 663.1V663.2M145.0 663.1H154.3M145.0 663.2H155.1M140.2 663.3H154.7M128.9 663.5H129.0M129.0 663.4V663.6M129.0 663.4H129.1M129.1 663.4H149.2M129.1 663.4H129.4M129.0 663.6H141.5M141.5 663.6V663.7M141.5 663.6H155.5M141.5 663.7H166.7M123.2 664.8H127.5M127.5 664.4V665.1M127.5 664.4H132.0M132.0 664.3V664.6M132.0 664.3H133.9M133.9 664.1V664.5M133.9 664.1H134.3M134.3 663.9V664.2M134.3 663.9H135.2M135.2 663.9V664.0M135.2 663.9H162.1M135.2 664.0H136.1M134.3 664.2H145.9M145.9 664.2V664.3M145.9 664.2H157.8M145.9 664.3H160.4M133.9 664.5H153.8M132.0 664.6H175.5M127.5 665.1H138.5M138.5 664.9V665.4M138.5 664.9H143.2M143.2 664.8V665.0M143.2 664.8H158.0M143.2 665.0H145.2M145.2 664.9V665.1M145.2 664.9H170.6M145.2 665.1H150.4M138.5 665.4H145.8M145.8 665.4H164.1M145.8 665.4H155.1M62.0 666.8H91.5M91.5 666.4V667.2M91.5 666.4H101.0M101.0 666.0V666.9M101.0 666.0H130.5M130.5 665.7V666.2M130.5 665.7H159.2M130.5 666.2H135.2M135.2 666.0V666.4M135.2 666.0H157.3M135.2 666.4H139.7M139.7 666.3V666.6M139.7 666.3H151.3M139.7 666.6H161.3M101.0 666.9H153.3M91.5 667.2H162.1M42.7 661.0H60.0M35.5 670.0H50.0M29.6 677.1H44.0M44.0 673.0V681.3M44.0 673.0H79.6M79.6 670.8V675.1M79.6 670.8H100.1M100.1 670.3V671.3M100.1 670.3H109.6M109.6 669.7V671.0M109.6 669.7H120.7M120.7 669.2V670.3M120.7 669.2H155.9M120.7 670.3H129.1M129.1 670.0V670.6M129.1 670.0H143.9M143.9 669.8V670.2M143.9 669.8H205.1M143.9 670.2H192.4M129.1 670.6H207.5M109.6 671.0H222.9M100.1 671.3H159.1M79.6 675.1H117.5M117.5 674.7V675.5M117.5 674.7H133.0M133.0 674.4V675.1M133.0 674.4H154.1M154.1 674.1V674.7M154.1 674.1H171.5M171.5 673.9V674.3M171.5 673.9H204.5M171.5 674.3H229.4M154.1 674.7H225.2M133.0 675.1H186.1M117.5 675.5H195.9M44.0 681.3H69.3M69.3 679.8V682.8M69.3 679.8H106.3M106.3 679.5V680.2M106.3 679.5H166.0M106.3 680.2H126.3M126.3 679.9V680.4M126.3 679.9H166.6M126.3 680.4H132.7M132.7 680.3V680.6M132.7 680.3H170.6M132.7 680.6H147.4M147.4 680.5V680.7M147.4 680.5H183.7M147.4 680.7H175.9M69.3 682.8H82.5M82.5 682.3V683.2M82.5 682.3H110.5M110.5 682.0V682.6M110.5 682.0H116.5M116.5 681.8V682.2M116.5 681.8H179.6M116.5 682.2H184.7M110.5 682.6H183.0M82.5 683.2H93.4M93.4 683.0V683.4M93.4 683.0H141.8M93.4 683.4H183.5M19.3 706.0V706.4M19.3 706.0H59.0M59.0 699.9V707.2M59.0 699.9H183.0M183.0 697.6V702.2M183.0 697.6H188.2M188.2 695.6V699.6M188.2 695.6H193.3M193.3 693.4V697.8M193.3 693.4H198.5M198.5 690.7V696.0M198.5 690.7H203.7M203.7 689.1V692.4M203.7 689.1H208.8M208.8 688.2V689.9M208.8 688.2H214.0M214.0 688.0V688.5M214.0 688.5H270.0M214.0 688.0H215.0M215.0 687.6V688.3M215.0 687.6H220.5M220.5 687.1V688.0M220.5 687.1H221.8M221.8 686.4V687.7M221.8 686.4H223.3M223.3 685.8V687.0M223.3 685.8H230.0M230.0 685.6V685.9M230.0 685.6H232.4M230.0 685.9H232.8M223.3 687.0H223.5M223.5 686.6V687.3M223.5 686.6H226.7M226.7 686.4V686.8M226.7 686.4H229.4M229.4 686.2V686.5M229.4 686.2H236.1M229.4 686.5H232.8M226.7 686.8H228.8M223.5 687.3H223.8M223.8 687.1V687.4M223.8 687.1H230.3M223.8 687.4H223.9M221.8 687.7H229.2M220.5 688.0H230.4M215.0 688.3H220.1M208.8 689.9H209.8M209.8 689.4V690.4M209.8 689.4H217.8M217.8 689.3V689.6M217.8 689.3H229.8M217.8 689.6H226.2M209.8 690.4H213.4M213.4 690.0V690.8M213.4 690.0H218.3M218.3 689.9V690.2M218.3 689.9H223.9M218.3 690.2H227.2M213.4 690.8H214.8M214.8 690.6V691.1M214.8 690.6H219.3M219.3 690.5V690.8M219.3 690.5H222.4M219.3 690.8H226.3M214.8 691.1H216.1M203.7 692.4H204.7M204.7 691.9V692.9M204.7 691.9H213.9M213.9 691.6V692.1M213.9 691.6H218.9M218.9 691.4V691.8M218.9 691.4H219.9M219.9 691.2V691.5M219.9 691.2H224.1M219.9 691.5H220.8M218.9 691.8H231.3M213.9 692.1H226.2M204.7 692.9H208.6M208.6 692.6V693.3M208.6 692.6H212.3M212.3 692.4V692.7M212.3 692.4H220.2M212.3 692.7H217.8M208.6 693.3H212.9M212.9 693.0V693.5M212.9 693.0H225.4M212.9 693.5H213.5M213.5 693.3V693.8M213.5 693.3H227.4M213.5 693.8H214.0M214.0 693.6V693.9M214.0 693.6H214.5M214.0 693.9H217.9M198.5 696.0H199.5M199.5 695.6V696.4M199.5 695.6H205.0M205.0 695.2V696.1M205.0 695.2H211.6M211.6 694.6V695.8M211.6 694.6H213.9M213.9 694.0V695.2M213.9 694.0H221.0M213.9 695.2H215.8M215.8 694.9V695.5M215.8 694.9H216.9M216.9 694.6V695.2M216.9 694.6H220.9M220.9 694.4V694.9M220.9 694.4H224.9M224.9 694.3V694.6M224.9 694.3H227.6M224.9 694.6H226.9M220.9 694.9H227.2M216.9 695.2H217.7M215.8 695.5H232.0M211.6 695.8H218.1M205.0 696.1H216.5M199.5 696.4H220.5M193.3 697.8H194.3M194.3 697.2V698.3M194.3 697.2H200.7M200.7 696.4V698.0M200.7 696.4H205.9M205.9 695.8V697.0M205.9 695.8H207.3M207.3 695.6V695.9M207.3 695.6H209.5M207.3 695.9H221.6M205.9 697.0H212.2M212.2 696.6V697.5M212.2 696.6H217.1M217.1 696.4V696.8M217.1 696.4H222.8M222.8 696.2V696.5M222.8 696.2H227.5M222.8 696.5H226.0M217.1 696.8H219.2M212.2 697.5H213.9M213.9 697.3V697.7M213.9 697.3H214.7M214.7 697.1V697.4M214.7 697.1H220.6M214.7 697.4H215.4M213.9 697.7H235.8M200.7 698.0H219.9M194.3 698.3H220.6M188.2 699.6H189.2M189.2 698.8V700.4M189.2 698.8H196.2M196.2 698.2V699.4M196.2 698.2H214.5M196.2 699.4H200.9M200.9 698.9V699.8M200.9 698.9H203.2M203.2 698.6V699.2M203.2 698.6H207.6M207.6 698.5V698.8M207.6 698.5H217.0M207.6 698.8H219.7M203.2 699.2H204.7M204.7 699.1V699.4M204.7 699.1H208.2M204.7 699.4H207.6M200.9 699.8H208.2M208.2 699.7V700.0M208.2 699.7H218.2M208.2 700.0H217.4M189.2 700.4H208.7M208.7 700.3V700.6M208.7 700.3H228.7M208.7 700.6H219.5M183.0 702.2H184.0M184.0 701.9V702.5M184.0 701.9H217.8M184.0 702.5H196.7M196.7 702.2V702.8M196.7 702.2H209.0M196.7 702.8H198.6M198.6 702.5V703.2M198.6 702.5H207.8M198.6 703.2H201.2M201.2 702.8V703.6M201.2 702.8H206.2M201.2 703.6H201.6M201.6 703.1V704.0M201.6 703.1H209.1M201.6 704.0H201.9M201.9 703.6V704.4M201.9 703.6H202.0M202.0 703.4V703.8M202.0 703.4H213.0M202.0 703.7V704.0M202.0 704.0H208.2M201.9 704.4H208.0M208.0 704.3V704.6M208.0 704.3H213.6M208.0 704.6H212.7M59.0 707.2H250.0M8.5 708.3H12.0" fill="none" stroke="#000" stroke-width="0.9" stroke-opacity="1.0"/>
<rect x="3" y="711.70" width="279" height="1.3" fill="#555"/>
<rect x="17.10" y="712.30" width="0.8" height="2.2" fill="#555"/>
<text transform="translate(22.93,746.20) rotate(-90)" font-family="Liberation Sans" font-size="15.5" fill="#111" textLength="29.9" lengthAdjust="spacingAndGlyphs">1974</text>
<rect x="43.40" y="712.30" width="0.8" height="2.2" fill="#555"/>
<text transform="translate(49.22,746.20) rotate(-90)" font-family="Liberation Sans" font-size="15.5" fill="#111" textLength="29.9" lengthAdjust="spacingAndGlyphs">1979</text>
<rect x="69.70" y="712.30" width="0.8" height="2.2" fill="#555"/>
<text transform="translate(75.52,746.20) rotate(-90)" font-family="Liberation Sans" font-size="15.5" fill="#111" textLength="29.9" lengthAdjust="spacingAndGlyphs">1984</text>
<rect x="96.00" y="712.30" width="0.8" height="2.2" fill="#555"/>
<text transform="translate(101.83,746.20) rotate(-90)" font-family="Liberation Sans" font-size="15.5" fill="#111" textLength="29.9" lengthAdjust="spacingAndGlyphs">1989</text>
<rect x="122.30" y="712.30" width="0.8" height="2.2" fill="#555"/>
<text transform="translate(128.12,746.20) rotate(-90)" font-family="Liberation Sans" font-size="15.5" fill="#111" textLength="29.9" lengthAdjust="spacingAndGlyphs">1994</text>
<rect x="148.60" y="712.30" width="0.8" height="2.2" fill="#555"/>
<text transform="translate(154.43,746.20) rotate(-90)" font-family="Liberation Sans" font-size="15.5" fill="#111" textLength="29.9" lengthAdjust="spacingAndGlyphs">1999</text>
<rect x="174.90" y="712.30" width="0.8" height="2.2" fill="#555"/>
<text transform="translate(180.73,746.20) rotate(-90)" font-family="Liberation Sans" font-size="15.5" fill="#111" textLength="29.9" lengthAdjust="spacingAndGlyphs">2004</text>
<rect x="201.20" y="712.30" width="0.8" height="2.2" fill="#555"/>
<text transform="translate(207.03,746.20) rotate(-90)" font-family="Liberation Sans" font-size="15.5" fill="#111" textLength="29.9" lengthAdjust="spacingAndGlyphs">2009</text>
<rect x="227.50" y="712.30" width="0.8" height="2.2" fill="#555"/>
<text transform="translate(233.33,746.20) rotate(-90)" font-family="Liberation Sans" font-size="15.5" fill="#111" textLength="29.9" lengthAdjust="spacingAndGlyphs">2014</text>
<rect x="253.80" y="712.30" width="0.8" height="2.2" fill="#555"/>
<text transform="translate(259.62,746.20) rotate(-90)" font-family="Liberation Sans" font-size="15.5" fill="#111" textLength="29.9" lengthAdjust="spacingAndGlyphs">2019</text>
<rect x="280.10" y="712.30" width="0.8" height="2.2" fill="#555"/>
<text transform="translate(285.93,746.20) rotate(-90)" font-family="Liberation Sans" font-size="15.5" fill="#111" textLength="29.9" lengthAdjust="spacingAndGlyphs">2024</text>
<circle cx="12.0" cy="708.0" r="3.25" fill="#1400FF"/>
<circle cx="195.7" cy="546.2" r="3.25" fill="#1400FF"/>
<circle cx="148.5" cy="575.5" r="3.25" fill="#1400FF"/>
<circle cx="158.5" cy="575.5" r="3.25" fill="#1400FF"/>
<circle cx="164.7" cy="575.5" r="3.25" fill="#1400FF"/>
<circle cx="211.8" cy="613.2" r="3.25" fill="#1400FF"/>
<circle cx="185.0" cy="623.1" r="3.25" fill="#1400FF"/>
<circle cx="185.0" cy="627.0" r="3.25" fill="#1400FF"/>
<circle cx="127.4" cy="638.8" r="3.25" fill="#1400FF"/>
<circle cx="143.6" cy="635.0" r="3.25" fill="#1400FF"/>
<circle cx="169.6" cy="634.8" r="3.25" fill="#1400FF"/>
<circle cx="141.4" cy="660.6" r="3.25" fill="#1400FF"/>
<circle cx="146.3" cy="664.8" r="3.25" fill="#1400FF"/>
<circle cx="144.7" cy="664.4" r="3.25" fill="#1400FF"/>
<circle cx="124.8" cy="654.8" r="3.25" fill="#1400FF"/>
<circle cx="150.4" cy="658.6" r="3.25" fill="#1400FF"/>
<circle cx="149.2" cy="647.4" r="3.25" fill="#1400FF"/>
<circle cx="137.1" cy="650.2" r="3.25" fill="#1400FF"/>
<circle cx="139.2" cy="657.1" r="3.25" fill="#1400FF"/>
<circle cx="124.4" cy="649.6" r="3.25" fill="#1400FF"/>
<circle cx="131.8" cy="664.2" r="3.25" fill="#1400FF"/>
<circle cx="145.4" cy="648.4" r="3.25" fill="#1400FF"/>
<circle cx="146.3" cy="647.9" r="3.25" fill="#1400FF"/>
<circle cx="141.3" cy="647.7" r="3.25" fill="#1400FF"/>
<circle cx="124.0" cy="663.3" r="3.25" fill="#1400FF"/>
<circle cx="129.9" cy="649.5" r="3.25" fill="#1400FF"/>
<circle cx="151.5" cy="663.3" r="3.25" fill="#1400FF"/>
<circle cx="132.1" cy="665.2" r="3.25" fill="#1400FF"/>
<circle cx="139.1" cy="659.2" r="3.25" fill="#1400FF"/>
<circle cx="129.7" cy="664.8" r="3.25" fill="#1400FF"/>
<circle cx="143.3" cy="665.3" r="3.25" fill="#1400FF"/>
<circle cx="149.0" cy="651.3" r="3.25" fill="#1400FF"/>
<circle cx="134.1" cy="648.5" r="3.25" fill="#1400FF"/>
<circle cx="128.1" cy="646.4" r="3.25" fill="#1400FF"/>
<circle cx="132.4" cy="657.7" r="3.25" fill="#1400FF"/>
<circle cx="124.1" cy="659.2" r="3.25" fill="#1400FF"/>
<circle cx="133.5" cy="651.5" r="3.25" fill="#1400FF"/>
<circle cx="146.9" cy="655.1" r="3.25" fill="#1400FF"/>
<circle cx="132.8" cy="655.1" r="3.25" fill="#1400FF"/>
<circle cx="143.7" cy="646.2" r="3.25" fill="#1400FF"/>
<circle cx="151.3" cy="645.5" r="3.25" fill="#1400FF"/>
<circle cx="145.0" cy="662.7" r="3.25" fill="#1400FF"/>
<circle cx="124.5" cy="661.5" r="3.25" fill="#1400FF"/>
<circle cx="134.3" cy="657.1" r="3.25" fill="#1400FF"/>
<circle cx="124.3" cy="646.0" r="3.25" fill="#1400FF"/>
<circle cx="129.1" cy="665.1" r="3.25" fill="#1400FF"/>
<circle cx="129.5" cy="660.9" r="3.25" fill="#1400FF"/>
<circle cx="150.0" cy="664.8" r="3.25" fill="#1400FF"/>
<circle cx="133.6" cy="652.5" r="3.25" fill="#1400FF"/>
<circle cx="138.7" cy="661.3" r="3.25" fill="#1400FF"/>
<circle cx="127.0" cy="660.7" r="3.25" fill="#1400FF"/>
<circle cx="168.8" cy="651.0" r="3.25" fill="#1400FF"/>
<circle cx="156.6" cy="652.2" r="3.25" fill="#1400FF"/>
<circle cx="157.5" cy="643.8" r="3.25" fill="#1400FF"/>
<circle cx="165.8" cy="651.9" r="3.25" fill="#1400FF"/>
<circle cx="161.4" cy="651.9" r="3.25" fill="#1400FF"/>
<circle cx="164.7" cy="643.4" r="3.25" fill="#1400FF"/>
<circle cx="161.1" cy="641.5" r="3.25" fill="#1400FF"/>
<circle cx="157.3" cy="641.1" r="3.25" fill="#1400FF"/>
<circle cx="167.0" cy="653.0" r="3.25" fill="#1400FF"/>
<circle cx="158.6" cy="639.7" r="3.25" fill="#1400FF"/>
<circle cx="171.8" cy="646.5" r="3.25" fill="#1400FF"/>
<circle cx="162.5" cy="642.3" r="3.25" fill="#1400FF"/>
<circle cx="165.5" cy="650.6" r="3.25" fill="#1400FF"/>
<circle cx="163.3" cy="644.9" r="3.25" fill="#1400FF"/>
<circle cx="175.0" cy="644.9" r="3.25" fill="#1400FF"/>
<circle cx="185.5" cy="645.8" r="3.25" fill="#1400FF"/>
<circle cx="185.5" cy="650.1" r="3.25" fill="#1400FF"/>
<circle cx="164.4" cy="657.2" r="3.25" fill="#1400FF"/>
<circle cx="107.2" cy="664.2" r="3.25" fill="#1400FF"/>
<circle cx="90.9" cy="666.8" r="3.25" fill="#1400FF"/>
<circle cx="122.9" cy="665.9" r="3.25" fill="#1400FF"/>
<circle cx="132.6" cy="665.9" r="3.25" fill="#1400FF"/>
<circle cx="127.3" cy="653.1" r="3.25" fill="#982323"/>
<circle cx="122.4" cy="653.7" r="3.25" fill="#982323"/>
<circle cx="122.4" cy="658.9" r="3.25" fill="#982323"/>
<circle cx="116.8" cy="661.5" r="3.25" fill="#982323"/>
<circle cx="85.6" cy="666.8" r="3.25" fill="#982323"/>
<circle cx="64.0" cy="684.5" r="3.25" fill="#1400FF"/>
<circle cx="85.6" cy="684.3" r="3.25" fill="#982323"/>
<circle cx="96.1" cy="684.3" r="3.25" fill="#1400FF"/>
<circle cx="190.4" cy="677.0" r="3.25" fill="#1400FF"/>
<circle cx="195.6" cy="675.9" r="3.25" fill="#1400FF"/>
<circle cx="190.4" cy="682.6" r="3.25" fill="#1400FF"/>
<circle cx="143.6" cy="671.4" r="3.25" fill="#1400FF"/>
<circle cx="143.6" cy="679.0" r="3.25" fill="#1400FF"/>
<circle cx="122.6" cy="681.7" r="3.25" fill="#1400FF"/>
<circle cx="138.6" cy="683.0" r="3.25" fill="#1400FF"/>
<circle cx="185.7" cy="669.9" r="3.25" fill="#1400FF"/>
<circle cx="185.7" cy="674.0" r="3.25" fill="#1400FF"/>
<circle cx="207.1" cy="667.0" r="3.25" fill="#1400FF"/>
<circle cx="206.5" cy="669.2" r="3.25" fill="#982323"/>
<circle cx="212.0" cy="670.0" r="3.25" fill="#1400FF"/>
<circle cx="217.4" cy="670.0" r="3.25" fill="#1400FF"/>
<circle cx="227.3" cy="669.2" r="3.25" fill="#1400FF"/>
<circle cx="222.5" cy="674.3" r="3.25" fill="#1400FF"/>
<circle cx="180.2" cy="677.0" r="3.25" fill="#1400FF"/>
<circle cx="185.7" cy="677.0" r="3.25" fill="#1400FF"/>
<circle cx="191.2" cy="677.0" r="3.25" fill="#1400FF"/>
<circle cx="196.6" cy="677.0" r="3.25" fill="#1400FF"/>
<circle cx="202.1" cy="677.0" r="3.25" fill="#1400FF"/>
<circle cx="212.0" cy="677.0" r="3.25" fill="#1400FF"/>
<circle cx="206.5" cy="680.8" r="3.25" fill="#982323"/>
<circle cx="190.0" cy="683.0" r="3.25" fill="#1400FF"/>
<circle cx="180.9" cy="680.8" r="3.25" fill="#1400FF"/>
<circle cx="232.8" cy="689.0" r="3.25" fill="#1400FF"/>
<circle cx="232.8" cy="694.4" r="3.25" fill="#1400FF"/>
<circle cx="216.3" cy="702.1" r="3.25" fill="#1400FF"/>
<circle cx="159.0" cy="707.6" r="3.25" fill="#1400FF"/>
<circle cx="190.5" cy="707.6" r="3.25" fill="#982323"/>
<circle cx="207.1" cy="706.9" r="3.25" fill="#1400FF"/>
<circle cx="232.8" cy="706.9" r="3.25" fill="#1400FF"/>
<text x="203.9" y="651.5" font-family="Liberation Sans" font-size="9.5" fill="#000" text-anchor="start" textLength="43.2" lengthAdjust="spacingAndGlyphs" >KY586702</text>
<line x1="233" y1="707.2" x2="250" y2="707.2" stroke="#000" stroke-width="0.8"/>
<text x="249" y="712.6" font-family="Liberation Sans" font-size="9.5" fill="#000" text-anchor="start" textLength="59.8" lengthAdjust="spacingAndGlyphs" >DENV3_06014</text>
<path d="M17.4 1033.0V1039.6M17.4 1033.0H22.8M22.8 1030.0V1037.6M22.8 1030.0H37.0M37.0 1027.0V1033.9M37.0 1027.0H54.0M54.0 1022.0V1029.0M54.0 1022.0H64.5M64.5 1013.0V1025.0M64.5 1013.0H74.5M74.5 997.0V1021.3M74.5 997.0H80.4M80.4 969.0V1015.8M80.4 969.0H84.8M84.8 958.0V975.6M84.8 958.0H97.2M97.2 952.0V964.0M97.2 952.0H117.6M117.6 930.0V962.4M117.6 930.0H126.5M126.5 904.4V941.8M126.5 904.4H132.0M132.0 899.9V908.9M132.0 899.9H137.2M137.2 894.9V904.8M137.2 894.9H142.3M142.3 890.6V899.2M142.3 890.6H147.5M147.5 886.1V895.2M147.5 886.1H152.7M152.7 882.0V890.1M152.7 882.0H157.8M157.8 878.6V885.4M157.8 878.6H163.0M163.0 878.5V878.6M163.0 878.5H218.0M163.0 878.6H164.0M164.0 877.7V879.5M164.0 877.7H167.6M167.6 876.9V878.5M167.6 876.9H170.4M170.4 876.7V877.2M170.4 876.7H179.5M170.4 877.2H172.6M172.6 877.0V877.4M172.6 877.0H180.2M172.6 877.4H173.4M173.4 877.3V877.6M173.4 877.3H181.9M173.4 877.6H173.9M167.6 878.5H171.9M171.9 878.3V878.8M171.9 878.3H175.9M175.9 878.0V878.5M175.9 878.0H177.1M177.1 877.9V878.2M177.1 877.9H178.2M177.1 878.2H185.2M175.9 878.5H190.4M171.9 878.8H189.6M164.0 879.5H168.0M168.0 879.2V879.8M168.0 879.2H170.6M170.6 879.1V879.4M170.6 879.1H172.3M170.6 879.4H171.8M168.0 879.8H175.8M175.8 879.7V880.0M175.8 879.7H183.4M175.8 880.0H181.0M157.8 885.4H158.8M158.8 884.3V886.5M158.8 884.3H162.2M162.2 883.6V885.0M162.2 883.6H174.1M174.1 883.3V883.9M174.1 883.3H201.4M174.1 883.9H182.0M182.0 883.7V884.2M182.0 883.7H186.1M186.1 883.6V883.9M186.1 883.6H195.4M186.1 883.9H188.4M182.0 884.2H195.4M162.2 885.0H166.5M166.5 884.6V885.3M166.5 884.6H168.0M168.0 884.5V884.8M168.0 884.5H171.1M168.0 884.8H191.4M166.5 885.3H168.7M168.7 885.1V885.5M168.7 885.1H174.5M168.7 885.5H169.3M169.3 885.4V885.7M169.3 885.4H169.9M169.3 885.7H192.8M158.8 886.5H163.8M163.8 886.2V886.9M163.8 886.2H175.6M175.6 886.0V886.4M175.6 886.0H195.8M175.6 886.4H179.1M179.1 886.3V886.6M179.1 886.3H182.4M179.1 886.6H189.9M163.8 886.9H168.4M152.7 890.1H153.7M153.7 888.6V891.7M153.7 888.6H171.4M171.4 887.3V889.8M171.4 887.3H185.6M185.6 887.2V887.5M185.6 887.2H195.1M185.6 887.5H196.1M171.4 889.8H177.6M177.6 888.7V891.0M177.6 888.7H179.5M179.5 887.8V889.7M179.5 887.8H192.6M179.5 889.7H181.2M181.2 888.9V890.5M181.2 888.9H181.8M181.8 888.1V889.7M181.8 888.1H198.1M181.8 889.7H181.9M181.9 889.3V890.2M181.9 889.3H182.0M182.0 888.8V889.7M182.0 888.5V889.1M182.0 888.4V888.7M182.0 888.4H184.1M182.0 889.1H187.4M187.4 889.0V889.3M187.4 889.0H192.9M187.4 889.3H197.5M182.0 889.7H185.5M185.5 889.6V889.9M185.5 889.6H191.8M185.5 889.9H193.0M181.9 890.2H198.2M181.2 890.5H200.4M177.6 891.0H180.9M180.9 890.8V891.2M180.9 890.8H182.6M180.9 891.2H185.3M185.3 891.1V891.4M185.3 891.1H199.0M185.3 891.4H187.3M153.7 891.7H185.9M147.5 895.2H148.5M148.5 893.7V896.6M148.5 893.7H154.2M154.2 893.3V894.2M154.2 893.3H185.3M154.2 894.2H158.2M158.2 893.6V894.8M158.2 893.6H173.4M158.2 894.8H160.4M160.4 894.0V895.5M160.4 894.0H161.1M161.1 893.9V894.2M161.1 893.9H175.5M161.1 894.2H162.6M160.4 895.5H162.8M162.8 894.9V896.1M162.8 894.9H175.0M175.0 894.5V895.4M175.0 894.5H191.7M175.0 895.4H178.4M178.4 895.0V895.7M178.4 895.0H180.7M180.7 894.8V895.2M180.7 894.8H183.4M180.7 895.2H181.6M181.6 895.1V895.4M181.6 895.1H183.5M181.6 895.4H182.4M178.4 895.7H188.7M162.8 896.1H164.4M164.4 896.0V896.3M164.4 896.0H188.5M164.4 896.3H166.0M148.5 896.6H175.7M142.3 899.2H143.3M143.3 898.0V900.3M143.3 898.0H162.7M162.7 897.4V898.6M162.7 897.4H170.5M170.5 897.2V897.5M170.5 897.2H182.3M170.5 897.5H176.9M162.7 898.6H166.6M166.6 898.1V899.0M166.6 898.1H170.4M170.4 897.8V898.4M170.4 897.8H181.7M170.4 898.4H171.5M171.5 898.1V898.6M171.5 898.1H179.9M171.5 898.6H172.2M172.2 898.4V898.7M172.2 898.4H172.5M172.2 898.7H178.3M166.6 899.0H176.7M143.3 900.3H152.0M152.0 899.8V900.8M152.0 899.8H162.1M162.1 899.3V900.3M162.1 899.3H183.5M162.1 900.3H166.8M166.8 900.0V900.5M166.8 900.0H168.2M168.2 899.8V900.2M168.2 899.8H168.7M168.7 899.6V899.9M168.7 899.6H169.3M168.7 899.9H176.4M168.2 900.2H179.4M166.8 900.5H172.0M152.0 900.8H183.5M137.2 904.8H138.2M138.2 903.7V906.0M138.2 903.7H157.8M157.8 903.1V904.3M157.8 903.1H167.7M167.7 902.7V903.5M167.7 902.7H172.9M172.9 902.5V902.8M172.9 902.5H183.8M172.9 902.8H185.3M167.7 903.5H177.6M177.6 903.3V903.7M177.6 903.3H181.9M181.9 903.1V903.4M181.9 903.1H189.9M181.9 903.4H185.2M177.6 903.7H189.4M157.8 904.3H168.2M168.2 904.0V904.5M168.2 904.0H178.8M168.2 904.5H177.9M177.9 904.3V904.8M177.9 904.3H184.9M177.9 904.8H181.8M181.8 904.6V904.9M181.8 904.6H184.6M181.8 904.9H189.7M138.2 906.0H160.6M160.6 905.4V906.6M160.6 905.4H167.1M167.1 905.2V905.7M167.1 905.2H179.7M167.1 905.7H170.8M170.8 905.5V905.8M170.8 905.5H176.5M170.8 905.8H188.8M160.6 906.6H168.0M168.0 906.3V906.9M168.0 906.3H171.2M171.2 906.1V906.4M171.2 906.1H187.4M171.2 906.4H173.8M168.0 906.9H173.2M173.2 906.7V907.0M173.2 906.7H177.1M173.2 907.0H189.8M132.0 908.9H133.0M133.0 907.4V910.4M133.0 907.4H152.7M152.7 907.3V907.6M152.7 907.3H167.3M152.7 907.6H196.7M133.0 910.4H151.0M151.0 909.9V910.9M151.0 909.9H163.3M163.3 909.2V910.6M163.3 909.2H166.4M166.4 908.5V909.9M166.4 908.5H169.3M169.3 908.1V909.0M169.3 908.1H170.5M170.5 907.9V908.3M170.5 907.9H173.8M170.5 908.3H171.4M171.4 908.2V908.5M171.4 908.2H189.1M171.4 908.5H172.7M169.3 909.0H173.8M173.8 908.8V909.2M173.8 908.8H194.9M173.8 909.2H178.3M178.3 909.1V909.4M178.3 909.1H182.7M178.3 909.4H187.7M166.4 909.9H183.2M183.2 909.7V910.1M183.2 909.7H195.5M183.2 910.1H185.8M185.8 910.0V910.3M185.8 910.0H196.7M185.8 910.3H190.8M163.3 910.6H198.4M151.0 910.9H191.8M126.5 941.8H129.0M129.0 936.9V946.7M129.0 936.9H132.3M132.3 934.1V939.7M132.3 934.1H135.6M135.6 929.1V939.1M135.6 929.1H138.9M138.9 923.9V934.3M138.9 923.9H142.1M142.1 920.6V927.2M142.1 920.6H145.4M145.4 916.3V925.0M145.4 916.3H148.7M148.7 914.1V918.5M148.7 914.1H152.0M152.0 914.0V914.2M152.0 914.0H215.0M152.0 914.2H153.0M153.0 913.0V915.4M153.0 913.0H194.8M153.0 915.4H154.2M154.2 913.8V916.9M154.2 913.8H162.3M162.3 913.3V914.4M162.3 913.3H191.5M162.3 914.4H168.2M168.2 913.8V914.9M168.2 913.8H169.8M169.8 913.6V914.1M169.8 913.6H195.4M169.8 914.1H170.3M170.3 913.9V914.2M170.3 913.9H171.1M170.3 914.2H189.9M168.2 914.9H171.6M171.6 914.5V915.2M171.6 914.5H186.1M171.6 915.2H174.2M174.2 915.0V915.4M174.2 915.0H175.9M175.9 914.8V915.1M175.9 914.8H177.2M175.9 915.1H186.8M174.2 915.4H185.3M154.2 916.9H155.0M155.0 916.6V917.2M155.0 916.6H155.6M155.6 916.4V916.9M155.6 916.4H156.1M156.1 916.1V916.6M156.1 916.1H170.4M170.4 915.9V916.3M170.4 915.9H175.5M175.5 915.7V916.0M175.5 915.7H196.1M175.5 916.0H185.5M170.4 916.3H183.8M156.1 916.6H156.4M155.6 916.9H194.9M155.0 917.2H180.3M148.7 918.5H149.7M149.7 918.0V919.0M149.7 918.0H181.1M149.7 919.0H151.5M151.5 918.5V919.6M151.5 918.5H167.1M167.1 918.3V918.6M167.1 918.3H177.8M167.1 918.6H179.3M151.5 919.6H152.3M152.3 918.9V920.3M152.3 918.9H153.2M152.3 920.3H154.8M154.8 919.6V921.0M154.8 919.6H163.1M163.1 919.4V919.8M163.1 919.4H172.7M172.7 919.2V919.5M172.7 919.2H178.2M172.7 919.5H181.1M163.1 919.8H180.8M154.8 921.0H156.1M156.1 920.5V921.6M156.1 920.5H157.2M157.2 920.1V920.9M157.2 920.1H166.8M157.2 920.9H158.3M158.3 920.6V921.2M158.3 920.6H167.1M167.1 920.4V920.7M167.1 920.4H174.2M167.1 920.7H176.8M158.3 921.2H158.7M158.7 921.0V921.3M158.7 921.0H170.7M158.7 921.3H158.8M156.1 921.6H178.1M145.4 925.0H146.4M146.4 924.0V925.9M146.4 924.0H159.0M159.0 923.0V925.0M159.0 923.0H165.7M165.7 922.6V923.3M165.7 922.6H168.6M168.6 922.5V922.8M168.6 922.5H182.6M168.6 922.8H174.5M165.7 923.3H168.3M168.3 923.1V923.5M168.3 923.1H189.0M168.3 923.5H169.9M169.9 923.4V923.7M169.9 923.4H171.9M169.9 923.7H192.5M159.0 925.0H165.4M165.4 924.6V925.3M165.4 924.6H173.0M173.0 924.4V924.9M173.0 924.4H175.3M175.3 924.1V924.6M175.3 924.1H177.4M177.4 924.0V924.3M177.4 924.0H188.3M177.4 924.3H178.5M175.3 924.6H187.3M173.0 924.9H178.9M165.4 925.3H170.3M170.3 925.2V925.5M170.3 925.2H183.6M170.3 925.5H179.8M146.4 925.9H160.3M160.3 925.8V926.1M160.3 925.8H182.4M160.3 926.1H178.4M142.1 927.2H143.1M143.1 926.1V928.4M143.1 926.1H179.6M143.1 928.4H148.6M148.6 927.4V929.3M148.6 927.4H153.3M153.3 926.8V928.0M153.3 926.8H156.1M156.1 926.6V927.0M156.1 926.6H160.6M160.6 926.4V926.7M160.6 926.4H164.6M160.6 926.7H169.5M156.1 927.0H159.3M153.3 928.0H163.0M163.0 927.7V928.4M163.0 927.7H171.5M171.5 927.5V927.9M171.5 927.5H177.0M177.0 927.3V927.6M177.0 927.3H182.5M177.0 927.6H181.8M171.5 927.9H182.6M163.0 928.4H165.6M165.6 928.2V928.5M165.6 928.2H170.7M165.6 928.5H168.6M148.6 929.3H158.4M158.4 929.0V929.6M158.4 929.0H165.6M165.6 928.8V929.1M165.6 928.8H180.3M165.6 929.1H174.8M158.4 929.6H166.9M166.9 929.4V929.7M166.9 929.4H174.0M166.9 929.7H179.2M138.9 934.3H139.9M139.9 933.5V935.1M139.9 933.5H150.1M150.1 932.3V934.7M150.1 932.3H156.6M156.6 931.5V933.0M156.6 931.5H187.6M156.6 933.0H161.6M161.6 932.2V933.9M161.6 932.2H165.0M165.0 931.8V932.5M165.0 931.8H172.3M165.0 932.5H171.7M171.7 932.1V932.8M171.7 932.1H180.1M171.7 932.8H175.4M175.4 932.6V933.0M175.4 932.6H183.5M183.5 932.4V932.7M183.5 932.4H187.6M183.5 932.7H188.9M175.4 933.0H177.4M161.6 933.9H166.0M166.0 933.6V934.2M166.0 933.6H171.3M171.3 933.3V933.8M171.3 933.3H192.1M171.3 933.8H173.5M173.5 933.6V933.9M173.5 933.6H177.0M173.5 933.9H176.0M166.0 934.2H171.0M150.1 934.7H159.3M159.3 934.5V934.8M159.3 934.5H166.3M159.3 934.8H185.2M139.9 935.1H177.4M135.6 939.1H136.6M136.6 938.6V939.6M136.6 938.6H156.5M156.5 937.9V939.3M156.5 937.9H161.4M161.4 937.1V938.8M161.4 937.1H168.9M168.9 936.6V937.6M168.9 936.6H182.6M168.9 937.6H173.4M173.4 937.1V938.1M173.4 937.1H174.4M174.4 936.9V937.4M174.4 936.9H179.1M174.4 937.4H175.1M175.1 937.2V937.6M175.1 937.2H183.6M175.1 937.6H175.5M175.5 937.5V937.8M175.5 937.5H177.3M175.5 937.8H176.6M173.4 938.1H185.6M161.4 938.8H164.5M164.5 938.5V939.0M164.5 938.5H167.2M167.2 938.4V938.7M167.2 938.4H171.5M167.2 938.7H170.7M164.5 939.0H180.8M156.5 939.3H167.6M136.6 939.6H180.8M132.3 939.7H133.3M133.3 939.0V940.3M133.3 939.0H170.4M133.3 940.3H139.8M139.8 939.3V941.3M139.8 939.3H174.8M139.8 941.3H144.5M144.5 940.2V942.5M144.5 940.2H146.7M146.7 939.6V940.8M146.7 939.6H172.7M146.7 940.8H148.2M148.2 940.2V941.4M148.2 940.2H148.5M148.5 939.9V940.5M148.5 939.9H148.9M148.5 940.5H152.8M152.8 940.2V940.7M152.8 940.2H174.5M152.8 940.7H155.5M155.5 940.5V941.0M155.5 940.5H160.2M155.5 941.0H156.0M156.0 940.8V941.1M156.0 940.8H157.1M156.0 941.1H178.2M148.2 941.4H174.3M144.5 942.5H149.1M149.1 942.1V942.9M149.1 942.1H157.7M157.7 941.7V942.4M157.7 941.7H173.0M157.7 942.4H159.9M159.9 942.2V942.6M159.9 942.2H160.7M160.7 942.0V942.3M160.7 942.0H162.6M160.7 942.3H178.3M159.9 942.6H164.7M149.1 942.9H152.8M129.0 946.7H130.0M130.0 945.4V948.0M130.0 945.4H145.1M145.1 944.5V946.3M145.1 944.5H156.7M156.7 944.3V944.7M156.7 944.3H181.0M156.7 944.7H160.6M160.6 944.6V944.9M160.6 944.6H164.3M160.6 944.9H175.7M145.1 946.3H160.5M160.5 945.8V946.8M160.5 945.8H163.3M163.3 945.4V946.2M163.3 945.4H165.8M165.8 945.2V945.6M165.8 945.2H177.5M165.8 945.6H167.3M167.3 945.5V945.8M167.3 945.5H170.7M167.3 945.8H171.0M163.3 946.2H165.2M165.2 946.1V946.4M165.2 946.1H167.4M165.2 946.4H174.0M160.5 946.8H169.5M169.5 946.7V947.0M169.5 946.7H182.1M169.5 947.0H182.1M130.0 948.0H144.8M144.8 947.5V948.5M144.8 947.5H162.4M162.4 947.3V947.8M162.4 947.3H179.8M162.4 947.8H168.6M168.6 947.6V948.0M168.6 947.6H180.0M168.6 948.0H173.9M173.9 947.9V948.2M173.9 947.9H177.5M173.9 948.2H177.6M144.8 948.5H202.1M117.6 962.4H120.0M120.0 958.5V966.2M120.0 958.5H126.0M126.0 953.9V963.1M126.0 953.9H132.0M132.0 952.2V955.6M132.0 952.2H139.0M139.0 951.2V953.2M139.0 951.2H147.6M147.6 950.5V952.0M147.6 950.5H156.9M156.9 950.1V950.9M156.9 950.1H160.8M160.8 949.9V950.2M160.8 949.9H169.5M160.8 950.2H178.8M156.9 950.9H163.6M163.6 950.7V951.1M163.6 950.7H167.5M167.5 950.5V950.8M167.5 950.5H169.7M167.5 950.8H182.4M163.6 951.1H188.0M147.6 952.0H152.7M152.7 951.6V952.4M152.7 951.6H161.4M161.4 951.4V951.7M161.4 951.4H179.2M161.4 951.7H174.7M152.7 952.4H158.5M158.5 952.2V952.6M158.5 952.2H160.1M160.1 952.0V952.3M160.1 952.0H167.7M160.1 952.3H162.2M158.5 952.6H179.3M139.0 953.2H154.9M154.9 952.9V953.5M154.9 952.9H168.5M154.9 953.5H161.3M161.3 953.2V953.7M161.3 953.2H182.9M161.3 953.7H165.1M165.1 953.5V953.8M165.1 953.5H166.8M165.1 953.8H184.9M132.0 955.6H133.0M133.0 954.8V956.5M133.0 954.8H137.7M137.7 954.4V955.2M137.7 954.4H139.6M139.6 954.0V954.8M139.6 954.0H141.4M141.4 953.6V954.3M141.4 953.6H142.0M142.0 953.4V953.9M142.0 953.4H162.1M142.0 953.9H142.4M142.4 953.7V954.0M142.4 953.7H142.7M142.4 954.0H176.7M141.4 954.3H178.5M139.6 954.8H148.0M148.0 954.6V954.9M148.0 954.6H161.9M148.0 954.9H179.8M137.7 955.2H178.3M133.0 956.5H148.3M148.3 956.0V957.1M148.3 956.0H153.9M153.9 955.7V956.3M153.9 955.7H159.5M159.5 955.5V955.8M159.5 955.5H174.0M159.5 955.8H163.2M153.9 956.3H161.1M161.1 956.1V956.4M161.1 956.1H165.8M161.1 956.4H178.9M148.3 957.1H157.5M157.5 956.7V957.4M157.5 956.7H177.8M157.5 957.4H160.8M160.8 957.2V957.6M160.8 957.2H162.0M162.0 957.0V957.3M162.0 957.0H163.2M162.0 957.3H174.9M160.8 957.6H170.6M126.0 963.1H127.0M127.0 961.9V964.3M127.0 961.9H144.7M144.7 960.9V963.0M144.7 960.9H154.7M154.7 960.7V961.0M154.7 960.7H172.3M154.7 961.0H176.3M144.7 963.0H150.7M150.7 962.4V963.6M150.7 962.4H152.6M152.6 961.7V963.1M152.6 961.7H153.8M153.8 961.3V962.2M153.8 961.3H160.0M153.8 962.2H154.3M154.3 961.8V962.6M154.3 961.8H154.5M154.5 961.6V961.9M154.5 961.6H154.7M154.5 961.9H172.4M154.3 962.6H157.1M157.1 962.4V962.8M157.1 962.4H159.4M159.4 962.2V962.5M159.4 962.2H162.7M159.4 962.5H170.0M157.1 962.8H161.6M152.6 963.1H177.0M150.7 963.6H158.5M158.5 963.4V963.9M158.5 963.4H174.4M158.5 963.9H171.0M171.0 963.7V964.0M171.0 963.7H177.2M171.0 964.0H190.6M127.0 964.3H167.0M120.0 966.2H121.0M121.0 964.9V967.5M121.0 964.9H134.5M134.5 964.6V965.3M134.5 964.6H150.0M150.0 964.4V964.8M150.0 964.4H167.0M150.0 964.8H154.8M154.8 964.7V965.0M154.8 964.7H173.2M154.8 965.0H162.9M134.5 965.3H161.7M121.0 967.5H139.2M139.2 966.5V968.4M139.2 966.5H144.6M144.6 965.7V967.2M144.6 965.7H146.1M146.1 965.6V965.9M146.1 965.6H168.6M146.1 965.9H148.7M144.6 967.2H148.6M148.6 966.5V968.0M148.6 966.5H154.4M154.4 966.2V966.8M154.4 966.2H174.8M154.4 966.8H156.4M156.4 966.5V967.1M156.4 966.5H167.6M156.4 967.1H156.9M156.9 966.8V967.5M156.9 966.8H168.4M156.9 967.5H157.1M157.1 967.2V967.7M157.1 967.2H157.2M157.2 967.1V967.4M157.2 967.1H157.3M157.2 967.4H165.4M157.1 967.7H173.1M148.6 968.0H164.5M139.2 968.4H147.6M147.6 968.3V968.6M147.6 968.3H156.1M147.6 968.6H176.8M97.2 964.0H100.0M84.8 975.6H95.0M95.0 973.3V977.8M95.0 973.3H99.3M99.3 972.3V974.2M99.3 972.3H102.0M102.0 971.7V972.9M102.0 971.7H104.5M104.5 971.6V971.9M104.5 971.6H108.2M104.5 971.9H117.2M102.0 972.9H103.9M103.9 972.6V973.3M103.9 972.6H110.2M110.2 972.3V972.9M110.2 972.3H112.5M112.5 972.2V972.4M112.5 972.2H118.9M112.5 972.4H114.8M110.2 972.9H113.4M113.4 972.7V973.0M113.4 972.7H118.1M113.4 973.0H116.3M103.9 973.3H106.2M99.3 974.2H104.5M104.5 973.7V974.8M104.5 973.7H112.8M112.8 973.6V973.8M112.8 973.6H119.1M112.8 973.8H116.0M104.5 974.8H107.2M107.2 974.5V975.1M107.2 974.5H108.5M108.5 974.3V974.7M108.5 974.3H108.9M108.9 974.1V974.4M108.9 974.1H109.2M108.9 974.4H110.6M108.5 974.7H113.5M107.2 975.1H113.0M113.0 975.0V975.2M113.0 975.0H122.4M113.0 975.2H115.1M95.0 977.8H99.0M99.0 976.2V979.5M99.0 976.2H109.4M99.0 979.5H100.6M100.6 978.8V980.1M100.6 978.8H101.2M101.2 977.9V979.7M101.2 977.9H101.3M101.3 977.1V978.8M101.3 977.1H101.4M101.4 976.5V977.7M101.4 976.5H124.2M101.5 977.4V978.1M101.5 977.1V977.7M101.5 976.9V977.3M101.5 976.8V977.0M101.5 976.8H117.5M101.5 977.3H113.1M101.5 977.7H105.3M105.3 977.6V977.9M105.3 977.6H116.9M105.3 977.9H110.4M101.5 978.1H103.9M103.9 978.0V978.2M103.9 978.0H105.1M103.9 978.2H110.2M101.3 978.8H111.5M111.5 978.4V979.1M111.5 978.4H116.5M111.5 979.1H112.9M112.9 978.9V979.3M112.9 978.9H114.9M114.9 978.7V979.0M114.9 978.7H118.4M114.9 979.0H115.6M112.9 979.3H118.4M101.2 979.7H104.9M104.9 979.6V979.8M104.9 979.6H111.2M104.9 979.8H119.5M100.6 980.1H115.9M80.4 1015.8H85.0M85.0 1012.6V1019.0M85.0 1012.6H95.3M95.3 1010.4V1014.8M95.3 1010.4H105.5M105.5 1007.7V1013.2M105.5 1007.7H115.8M115.8 1005.0V1010.3M115.8 1005.0H126.1M126.1 1002.5V1007.6M126.1 1002.5H136.4M136.4 1000.2V1004.7M136.4 1000.2H146.6M146.6 997.8V1002.6M146.6 997.8H156.9M156.9 995.6V999.9M156.9 995.6H167.2M167.2 993.9V997.2M167.2 993.9H177.5M177.5 993.4V994.4M177.5 993.4H187.7M187.7 992.7V994.0M187.7 994.0H198.0M198.0 990.0V998.1M198.0 998.1H203.0M203.0 988.5V1007.7M203.0 988.5H206.0M206.0 981.8V995.1M206.0 981.8H211.3M211.3 979.3V984.4M211.3 979.3H216.4M216.4 978.0V980.7M216.4 978.0H231.4M216.4 980.7H218.5M218.5 980.1V981.3M218.5 980.1H222.1M222.1 979.4V980.7M222.1 979.4H224.6M224.6 978.8V979.9M224.6 978.8H226.8M226.8 978.5V979.1M226.8 978.5H232.8M226.8 979.1H228.1M228.1 978.9V979.4M228.1 978.9H231.5M228.1 979.4H229.2M229.2 979.2V979.6M229.2 979.2H231.5M229.2 979.6H232.0M224.6 979.9H239.9M222.1 980.7H223.5M223.5 980.5V981.0M223.5 980.5H227.1M227.1 980.3V980.6M227.1 980.3H230.8M227.1 980.6H229.6M223.5 981.0H232.6M218.5 981.3H232.3M211.3 984.4H212.9M212.9 983.4V985.3M212.9 983.4H214.8M214.8 982.9V983.9M214.8 982.9H224.1M214.8 983.9H217.1M217.1 983.4V984.3M217.1 983.4H218.8M218.8 983.2V983.6M218.8 983.2H220.4M218.8 983.6H223.0M217.1 984.3H218.8M218.8 983.9V984.7M218.8 983.9H222.7M218.8 984.7H220.1M220.1 984.5V985.0M220.1 984.5H220.6M220.6 984.3V984.7M220.6 984.3H222.0M220.6 984.7H220.7M220.7 984.6V984.7M220.7 984.6H222.5M220.7 984.7H221.2M220.1 985.0H225.5M212.9 985.3H216.6M216.6 985.3H222.4M216.6 985.4H220.2M206.0 995.1H207.0M207.0 991.0V999.2M207.0 991.0H207.2M207.2 989.1V992.8M207.2 989.1H207.3M207.3 988.7V989.6M207.3 988.7H207.6M207.6 988.5V988.9M207.6 988.5H216.2M207.6 988.9H207.8M207.3 989.6H209.1M209.1 989.2V989.9M209.1 989.2H216.7M209.1 989.9H211.0M211.0 989.6V990.3M211.0 989.6H218.9M211.0 990.3H211.7M211.7 990.1V990.6M211.7 990.1H212.1M212.1 989.9V990.3M212.1 989.9H213.2M212.1 990.3H212.5M211.7 990.6H212.9M207.2 992.8H210.8M210.8 991.6V994.0M210.8 991.6H229.6M210.8 994.0H214.0M214.0 993.7V994.4M214.0 993.7H215.8M215.8 993.3V994.1M215.8 993.3H218.0M218.0 992.9V993.7M218.0 992.9H219.6M219.6 992.5V993.4M219.6 992.5H220.6M220.6 992.1V992.8M220.6 992.1H225.2M225.2 992.0V992.3M225.2 992.0H232.3M225.2 992.3H239.0M220.6 992.8H221.1M221.1 992.7V993.0M221.1 992.7H223.7M221.1 993.0H233.9M219.6 993.4H222.9M218.0 993.7H220.5M215.8 994.1H228.8M214.0 994.4H230.6M207.0 999.2H215.7M215.7 997.3V1001.2M215.7 997.3H218.9M218.9 996.5V998.2M218.9 996.5H240.0M218.9 998.2H220.9M220.9 997.8V998.6M220.9 997.8H221.7M221.7 997.5V998.2M221.7 997.5H222.3M222.3 997.1V997.9M222.3 997.1H225.9M225.9 996.8V997.3M225.9 996.8H231.2M225.9 997.3H229.3M229.3 997.2V997.5M229.3 997.2H233.5M229.3 997.5H237.3M222.3 997.9H223.6M221.7 998.2H224.0M220.9 998.6H233.7M215.7 1001.2H219.4M219.4 1000.4V1001.9M219.4 1000.4H221.5M221.5 1000.0V1000.8M221.5 1000.0H222.0M222.0 999.7V1000.4M222.0 999.7H222.8M222.8 999.4V999.9M222.8 999.4H224.3M222.8 999.9H224.2M224.2 999.7V1000.1M224.2 999.7H226.7M224.2 1000.1H227.1M222.0 1000.4H223.2M221.5 1000.8H228.1M219.4 1001.9H220.9M220.9 1001.6V1002.2M220.9 1001.6H221.5M221.5 1001.3V1001.8M221.5 1001.3H224.9M224.9 1001.1V1001.5M224.9 1001.1H232.6M224.9 1001.5H228.6M221.5 1001.8H222.1M220.9 1002.2H230.0M203.0 1007.7H269.8M198.0 990.0H199.0M199.0 989.7V990.2M199.0 989.7H203.2M203.2 989.5V989.9M203.2 989.5H206.9M203.2 989.9H216.2M199.0 990.2H204.7M187.7 992.7H188.7M188.7 992.5V993.0M188.7 992.5H205.8M188.7 993.0H194.7M194.7 992.8V993.2M194.7 992.8H205.3M194.7 993.2H203.6M177.5 994.4H178.5M178.5 994.2V994.7M178.5 994.2H182.6M182.6 994.0V994.4M182.6 994.0H194.8M182.6 994.4H189.2M178.5 994.7H196.4M167.2 997.2H168.2M168.2 996.9V997.6M168.2 996.9H184.4M168.2 997.6H173.6M173.6 997.4V997.9M173.6 997.4H175.7M175.7 997.2V997.6M175.7 997.2H192.1M175.7 997.6H182.9M173.6 997.9H183.5M156.9 999.9H157.9M157.9 999.5V1000.3M157.9 999.5H158.6M158.6 999.3V999.8M158.6 999.3H161.2M158.6 999.8H164.1M164.1 999.6V1000.0M164.1 999.6H169.5M164.1 1000.0H172.4M157.9 1000.3H174.2M146.6 1002.6H147.6M147.6 1002.2V1003.0M147.6 1002.2H153.5M153.5 1002.0V1002.4M153.5 1002.0H160.2M153.5 1002.4H162.1M147.6 1003.0H151.0M151.0 1002.7V1003.3M151.0 1002.7H166.0M151.0 1003.3H152.3M152.3 1003.1V1003.4M152.3 1003.1H156.5M152.3 1003.4H161.1M136.4 1004.7H137.4M137.4 1004.3V1005.1M137.4 1004.3H135.4M135.4 1004.1V1004.6M135.4 1004.1H133.6M133.6 1003.9V1004.3M133.6 1003.9H125.2M133.6 1004.3H164.5M135.4 1004.6H150.2M137.4 1005.1H139.8M139.8 1005.0V1005.3M139.8 1005.0H149.4M139.8 1005.3H152.0M126.1 1007.6H127.1M127.1 1007.4V1007.9M127.1 1007.4H146.0M127.1 1007.9H132.2M132.2 1007.7V1008.1M132.2 1007.7H149.3M132.2 1008.1H143.8M115.8 1010.3H116.8M116.8 1010.0V1010.6M116.8 1010.0H144.7M116.8 1010.6H126.0M126.0 1010.3V1010.9M126.0 1010.3H147.7M126.0 1010.9H128.8M128.8 1010.7V1011.2M128.8 1010.7H137.4M128.8 1011.2H133.2M133.2 1011.0V1011.4M133.2 1011.0H140.3M133.2 1011.4H136.2M105.5 1013.2H106.5M106.5 1012.6V1013.7M106.5 1012.6H131.2M106.5 1013.7H107.8M107.8 1013.4V1014.0M107.8 1013.4H110.0M110.0 1013.1V1013.7M110.0 1013.1H119.4M119.4 1013.0V1013.3M119.4 1013.0H127.9M119.4 1013.3H127.2M110.0 1013.7H112.2M107.8 1014.0H119.7M95.3 1014.8H96.3M96.3 1014.2V1015.3M96.3 1014.2H120.6M96.3 1015.3H98.7M98.7 1015.0V1015.6M98.7 1015.0H104.3M104.3 1014.7V1015.3M104.3 1014.7H105.6M105.6 1014.6V1014.9M105.6 1014.6H109.2M105.6 1014.9H125.4M104.3 1015.3H115.2M98.7 1015.6H124.7M85.0 1019.0H86.0M86.0 1018.7V1019.2M86.0 1018.7H98.4M86.0 1019.2H92.5M92.5 1019.1V1019.4M92.5 1019.1H97.3M92.5 1019.4H105.5M74.5 1021.3H84.0M84.0 1020.6V1021.9M84.0 1020.6H97.2M97.2 1020.4V1020.7M97.2 1020.4H123.2M97.2 1020.7H116.6M84.0 1021.9H91.1M91.1 1021.1V1022.8M91.1 1021.1H110.5M91.1 1022.8H97.2M97.2 1021.4V1024.1M97.2 1021.4H114.4M97.2 1024.1H98.9M98.9 1021.8V1026.4M98.9 1021.8H116.0M98.9 1026.4H100.2M100.2 1023.9V1028.9M100.2 1023.9H100.9M100.9 1022.1V1025.6M100.9 1022.1H113.9M100.9 1025.6H101.1M101.1 1023.7V1027.4M101.1 1023.7H101.3M101.3 1022.7V1024.8M101.3 1022.7H102.7M102.7 1022.5V1022.8M102.7 1022.5H114.3M102.7 1022.8H107.7M101.3 1024.8H101.5M101.5 1024.0V1025.6M101.5 1023.4V1024.5M101.5 1023.2V1023.5M101.5 1023.2H101.6M101.5 1023.5H111.0M101.5 1024.5H102.8M102.8 1024.0V1025.1M102.8 1024.0H105.1M105.1 1023.9V1024.1M105.1 1023.9H114.4M105.1 1024.1H106.4M106.4 1024.0V1024.2M106.4 1024.0H111.9M111.9 1024.0H170.0M111.9 1024.0H117.9M106.4 1024.2H108.8M108.8 1024.1V1024.4M108.8 1024.1H110.6M108.8 1024.4H114.2M114.2 1024.4H128.3M114.2 1024.4H125.8M102.8 1025.1H103.8M103.8 1024.8V1025.3M103.8 1024.8H104.3M104.3 1024.7V1024.9M104.3 1024.7H104.9M104.3 1024.9H110.3M110.3 1024.8V1025.1M110.3 1024.8H134.3M110.3 1025.1H115.8M103.8 1025.3H108.0M108.0 1025.2V1025.4M108.0 1025.2H112.3M112.3 1025.2V1025.2M112.3 1025.2H117.9M112.3 1025.2H116.8M108.0 1025.4H123.6M101.5 1025.6H105.0M101.1 1027.4H102.9M102.9 1026.7V1028.2M102.9 1026.7H103.6M103.6 1026.1V1027.2M103.6 1026.1H104.3M104.3 1025.8V1026.5M104.3 1025.8H115.3M104.3 1026.5H104.4M104.4 1026.3V1026.8M104.4 1026.3H105.6M105.6 1026.0V1026.5M105.6 1026.0H107.0M107.0 1026.0V1026.1M107.0 1026.0H107.9M107.9 1025.9V1026.0M107.9 1025.9H108.5M107.9 1026.0H180.0M107.0 1026.1H111.0M105.6 1026.5H113.9M113.9 1026.4V1026.6M113.9 1026.4H115.8M115.8 1026.3V1026.5M115.8 1026.3H121.8M115.8 1026.5H126.3M113.9 1026.6H120.6M104.4 1026.8H104.9M103.6 1027.2H104.8M104.8 1027.0V1027.4M104.8 1027.0H127.1M104.8 1027.4H105.1M105.1 1027.2V1027.6M105.1 1027.2H107.1M107.1 1027.2V1027.3M107.1 1027.2H121.2M107.1 1027.3H112.8M105.1 1027.6H105.4M105.4 1027.5V1027.7M105.4 1027.5H105.7M105.4 1027.7H114.4M102.9 1028.2H107.4M107.4 1028.0V1028.4M107.4 1028.0H118.8M107.4 1028.4H120.1M100.2 1028.9H107.6M107.6 1028.7V1029.1M107.6 1028.7H115.0M107.6 1029.1H120.4M64.5 1025.0H100.0M54.0 1029.0H90.0M37.0 1033.9H40.0M40.0 1031.7V1036.2M40.0 1031.7H67.6M67.6 1030.1V1033.3M67.6 1030.1H88.7M88.7 1029.0V1031.3M88.7 1029.0H173.9M88.7 1031.3H115.4M115.4 1030.1V1032.5M115.4 1030.1H132.8M132.8 1029.6V1030.5M132.8 1029.6H139.1M139.1 1029.3V1029.9M139.1 1029.3H184.1M139.1 1029.9H140.3M140.3 1029.7V1030.2M140.3 1029.7H170.6M140.3 1030.2H143.5M143.5 1030.0V1030.3M143.5 1030.0H166.0M143.5 1030.3H144.5M144.5 1030.2V1030.4M144.5 1030.2H145.6M144.5 1030.4H158.4M132.8 1030.5H206.5M115.4 1032.5H134.8M134.8 1032.0V1032.9M134.8 1032.0H142.9M142.9 1031.5V1032.4M142.9 1031.5H160.8M142.9 1032.4H154.3M154.3 1032.1V1032.7M154.3 1032.1H167.4M167.4 1031.9V1032.2M167.4 1031.9H187.6M167.4 1032.2H191.9M154.3 1032.7H161.0M161.0 1032.6V1032.9M161.0 1032.6H175.8M161.0 1032.9H167.6M134.8 1032.9H150.2M67.6 1033.3H135.7M40.0 1036.2H54.5M54.5 1035.0V1037.4M54.5 1035.0H72.1M72.1 1034.6V1035.4M72.1 1034.6H84.4M84.4 1034.5V1034.8M84.4 1034.5H87.6M87.6 1034.5H93.2M87.6 1034.5H200.3M84.4 1034.8H118.9M72.1 1035.4H90.8M90.8 1035.2V1035.6M90.8 1035.2H167.7M90.8 1035.6H100.9M100.9 1035.5V1035.6M100.9 1035.5H150.5M100.9 1035.6H162.2M54.5 1037.4H68.7M68.7 1036.7V1038.0M68.7 1036.7H78.7M78.7 1036.2V1037.2M78.7 1036.2H84.7M84.7 1036.0V1036.5M84.7 1036.0H96.4M96.4 1036.0H111.0M96.4 1036.0H258.0M84.7 1036.5H138.1M138.1 1036.3V1036.7M138.1 1036.3H210.4M138.1 1036.7H174.4M78.7 1037.2H104.3M104.3 1037.0V1037.4M104.3 1037.0H136.1M104.3 1037.4H162.2M68.7 1038.0H228.0M22.8 1037.6H60.0M17.4 1039.6H30.0" fill="none" stroke="#000" stroke-width="0.9" stroke-opacity="1.0"/>
<rect x="188" y="963" width="14" height="79.3" fill="rgb(228,160,90)" fill-opacity="0.32" stroke="#EDC094" stroke-width="0.9"/>
<line x1="190.2" y1="966.8" x2="199" y2="983.2" stroke="#D2403A" stroke-width="1.1"/>
<polygon points="202.2,988 196.1,984.4 202,981.1" fill="#D0302C"/>
<rect x="5.3" y="1042.00" width="277.2" height="1.3" fill="#555"/>
<rect x="29.40" y="1042.60" width="0.8" height="2.2" fill="#555"/>
<text transform="translate(34.98,1074.50) rotate(-90)" font-family="Liberation Sans" font-size="14.8" fill="#111" textLength="27.7" lengthAdjust="spacingAndGlyphs">1979</text>
<rect x="56.87" y="1042.60" width="0.8" height="2.2" fill="#555"/>
<text transform="translate(62.45,1074.50) rotate(-90)" font-family="Liberation Sans" font-size="14.8" fill="#111" textLength="27.7" lengthAdjust="spacingAndGlyphs">1984</text>
<rect x="84.34" y="1042.60" width="0.8" height="2.2" fill="#555"/>
<text transform="translate(89.92,1074.50) rotate(-90)" font-family="Liberation Sans" font-size="14.8" fill="#111" textLength="27.7" lengthAdjust="spacingAndGlyphs">1989</text>
<rect x="111.81" y="1042.60" width="0.8" height="2.2" fill="#555"/>
<text transform="translate(117.39,1074.50) rotate(-90)" font-family="Liberation Sans" font-size="14.8" fill="#111" textLength="27.7" lengthAdjust="spacingAndGlyphs">1994</text>
<rect x="139.28" y="1042.60" width="0.8" height="2.2" fill="#555"/>
<text transform="translate(144.86,1074.50) rotate(-90)" font-family="Liberation Sans" font-size="14.8" fill="#111" textLength="27.7" lengthAdjust="spacingAndGlyphs">1999</text>
<rect x="166.75" y="1042.60" width="0.8" height="2.2" fill="#555"/>
<text transform="translate(172.33,1074.50) rotate(-90)" font-family="Liberation Sans" font-size="14.8" fill="#111" textLength="27.7" lengthAdjust="spacingAndGlyphs">2004</text>
<rect x="194.22" y="1042.60" width="0.8" height="2.2" fill="#555"/>
<text transform="translate(199.80,1074.50) rotate(-90)" font-family="Liberation Sans" font-size="14.8" fill="#111" textLength="27.7" lengthAdjust="spacingAndGlyphs">2009</text>
<rect x="221.69" y="1042.60" width="0.8" height="2.2" fill="#555"/>
<text transform="translate(227.27,1074.50) rotate(-90)" font-family="Liberation Sans" font-size="14.8" fill="#111" textLength="27.7" lengthAdjust="spacingAndGlyphs">2014</text>
<rect x="249.16" y="1042.60" width="0.8" height="2.2" fill="#555"/>
<text transform="translate(254.74,1074.50) rotate(-90)" font-family="Liberation Sans" font-size="14.8" fill="#111" textLength="27.7" lengthAdjust="spacingAndGlyphs">2019</text>
<rect x="276.63" y="1042.60" width="0.8" height="2.2" fill="#555"/>
<text transform="translate(282.21,1074.50) rotate(-90)" font-family="Liberation Sans" font-size="14.8" fill="#111" textLength="27.7" lengthAdjust="spacingAndGlyphs">2024</text>
<circle cx="166.2" cy="881.5" r="3.15" fill="#2E8B1E"/>
<circle cx="166.2" cy="878.7" r="3.15" fill="#663399"/>
<circle cx="172.1" cy="880.3" r="3.15" fill="#1400FF"/>
<circle cx="177.5" cy="879.9" r="3.15" fill="#663399"/>
<circle cx="177.5" cy="886.9" r="3.15" fill="#663399"/>
<circle cx="166.0" cy="897.0" r="3.15" fill="#663399"/>
<circle cx="166.0" cy="901.0" r="3.15" fill="#663399"/>
<circle cx="166.0" cy="905.0" r="3.15" fill="#663399"/>
<circle cx="166.0" cy="909.0" r="3.15" fill="#663399"/>
<circle cx="177.5" cy="897.0" r="3.15" fill="#663399"/>
<circle cx="183.0" cy="900.0" r="3.15" fill="#663399"/>
<circle cx="190.0" cy="900.0" r="3.15" fill="#663399"/>
<circle cx="188.0" cy="900.2" r="3.15" fill="#2E8B1E"/>
<circle cx="193.8" cy="900.9" r="3.15" fill="#663399"/>
<circle cx="172.0" cy="899.0" r="3.15" fill="#663399"/>
<circle cx="177.5" cy="921.9" r="3.15" fill="#663399"/>
<circle cx="177.5" cy="929.6" r="3.15" fill="#2E8B1E"/>
<circle cx="177.5" cy="932.4" r="3.15" fill="#663399"/>
<circle cx="166.2" cy="937.1" r="3.15" fill="#663399"/>
<circle cx="177.5" cy="937.1" r="3.15" fill="#663399"/>
<circle cx="188.0" cy="937.1" r="3.15" fill="#663399"/>
<circle cx="204.8" cy="937.1" r="3.15" fill="#663399"/>
<circle cx="161.1" cy="941.0" r="3.15" fill="#2E8B1E"/>
<circle cx="171.6" cy="942.9" r="3.15" fill="#663399"/>
<circle cx="177.5" cy="946.7" r="3.15" fill="#663399"/>
<circle cx="182.6" cy="946.9" r="3.15" fill="#663399"/>
<circle cx="150.1" cy="966.3" r="3.15" fill="#2E8B1E"/>
<circle cx="112.0" cy="976.8" r="3.15" fill="#663399"/>
<circle cx="199.3" cy="1016.6" r="3.15" fill="#663399"/>
<circle cx="210.1" cy="1015.7" r="3.15" fill="#663399"/>
<circle cx="111.7" cy="1027.7" r="3.15" fill="#663399"/>
<circle cx="133.8" cy="1027.7" r="3.15" fill="#663399"/>
<circle cx="199.3" cy="1029.0" r="3.15" fill="#663399"/>
<circle cx="122.7" cy="1034.0" r="3.15" fill="#663399"/>
<circle cx="128.0" cy="1035.0" r="3.15" fill="#663399"/>
<circle cx="133.8" cy="1035.0" r="3.15" fill="#663399"/>
<circle cx="139.0" cy="1035.0" r="3.15" fill="#663399"/>
<circle cx="144.4" cy="1038.2" r="3.15" fill="#663399"/>
<circle cx="150.0" cy="1034.0" r="3.15" fill="#663399"/>
<circle cx="155.0" cy="1036.0" r="3.15" fill="#663399"/>
<circle cx="171.6" cy="1033.2" r="3.15" fill="#2E8B1E"/>
<circle cx="177.7" cy="1036.8" r="3.15" fill="#663399"/>
<circle cx="182.7" cy="1038.8" r="3.15" fill="#663399"/>
<circle cx="221.2" cy="1038.2" r="3.15" fill="#1400FF"/>
<circle cx="227.0" cy="1038.2" r="3.15" fill="#2E8B1E"/>
<circle cx="258.7" cy="1036.8" r="3.15" fill="#663399"/>
<circle cx="226.6" cy="978.0" r="3.15" fill="#2E8B1E"/>
<circle cx="226.6" cy="1004.0" r="3.15" fill="#2E8B1E"/>
<circle cx="215.5" cy="994.0" r="3.15" fill="#2E8B1E"/>
<circle cx="220.0" cy="978.5" r="3.15" fill="#663399"/>
<circle cx="220.0" cy="983.0" r="3.15" fill="#663399"/>
<circle cx="220.0" cy="987.5" r="3.15" fill="#663399"/>
<circle cx="220.0" cy="992.0" r="3.15" fill="#663399"/>
<circle cx="220.0" cy="996.5" r="3.15" fill="#663399"/>
<circle cx="220.0" cy="1001.0" r="3.15" fill="#663399"/>
<circle cx="220.0" cy="1003.5" r="3.15" fill="#663399"/>
<circle cx="224.5" cy="978.5" r="3.15" fill="#663399"/>
<circle cx="224.5" cy="983.0" r="3.15" fill="#663399"/>
<circle cx="224.5" cy="987.5" r="3.15" fill="#663399"/>
<circle cx="224.5" cy="992.0" r="3.15" fill="#663399"/>
<circle cx="224.5" cy="996.5" r="3.15" fill="#663399"/>
<circle cx="224.5" cy="1001.0" r="3.15" fill="#663399"/>
<circle cx="224.5" cy="1003.5" r="3.15" fill="#663399"/>
<circle cx="229.0" cy="978.5" r="3.15" fill="#663399"/>
<circle cx="229.0" cy="983.0" r="3.15" fill="#663399"/>
<circle cx="229.0" cy="987.5" r="3.15" fill="#663399"/>
<circle cx="229.0" cy="992.0" r="3.15" fill="#663399"/>
<circle cx="229.0" cy="996.5" r="3.15" fill="#663399"/>
<circle cx="229.0" cy="1001.0" r="3.15" fill="#663399"/>
<circle cx="229.0" cy="1003.5" r="3.15" fill="#663399"/>
<circle cx="233.5" cy="978.5" r="3.15" fill="#663399"/>
<circle cx="233.5" cy="983.0" r="3.15" fill="#663399"/>
<circle cx="233.5" cy="987.5" r="3.15" fill="#663399"/>
<circle cx="233.5" cy="992.0" r="3.15" fill="#663399"/>
<circle cx="233.5" cy="996.5" r="3.15" fill="#663399"/>
<circle cx="233.5" cy="1001.0" r="3.15" fill="#663399"/>
<circle cx="233.5" cy="1003.5" r="3.15" fill="#663399"/>
<circle cx="237.5" cy="977.5" r="3.15" fill="#663399"/>
<circle cx="237.5" cy="982.5" r="3.15" fill="#663399"/>
<circle cx="237.5" cy="995.0" r="3.15" fill="#663399"/>
<circle cx="216.0" cy="999.5" r="3.15" fill="#663399"/>
<circle cx="216.0" cy="1003.0" r="3.15" fill="#663399"/>
<circle cx="243.5" cy="1000.7" r="3.15" fill="#663399"/>
<circle cx="216.5" cy="984.0" r="3.15" fill="#663399"/>
<circle cx="216.5" cy="988.0" r="3.15" fill="#663399"/>
<circle cx="226.6" cy="985.0" r="3.15" fill="#982323"/>
<circle cx="215.5" cy="994.0" r="3.15" fill="#2E8B1E"/>
<path d="M22.0 193.0V198.5M22.0 193.0H50.0M50.0 190.0V196.0M50.0 190.0H62.0M62.0 178.0V195.5M62.0 178.0H105.0M105.0 160.0V181.0M105.0 160.0H138.0M138.0 140.0V160.0M138.0 140.0H143.0M143.0 120.0V144.8M143.0 120.0H144.0M144.0 90.0V128.0M144.0 66.1V105.6M144.0 66.1H160.0M160.0 51.9V80.4M160.0 51.9H165.0M165.0 46.2V57.5M165.0 46.2H174.4M174.4 41.1V51.3M174.4 41.1H183.8M183.8 35.6V46.5M183.8 35.6H193.2M193.2 31.1V40.1M193.2 31.1H202.6M202.6 28.6V33.6M202.6 28.6H213.0M213.0 28.1V29.0M213.0 28.1H218.9M218.9 27.8V28.4M218.9 27.8H242.2M218.9 28.4H235.3M213.0 29.0H234.1M202.6 33.6H203.6M203.6 33.3V33.9M203.6 33.3H213.4M203.6 33.9H212.6M193.2 40.1H194.2M194.2 39.4V40.7M194.2 39.4H210.6M210.6 38.9V39.8M210.6 38.9H239.0M210.6 39.8H218.4M218.4 39.5V40.1M218.4 39.5H226.8M218.4 40.1H229.6M194.2 40.7H228.9M183.8 46.5H184.8M184.8 46.2V46.8M184.8 46.2H215.1M184.8 46.8H215.8M174.4 51.3H175.4M175.4 51.0V51.6M175.4 51.0H202.0M175.4 51.6H179.9M165.0 57.5H166.0M166.0 57.1V58.0M166.0 57.1H193.3M166.0 58.0H170.0M170.0 57.7V58.3M170.0 57.7H203.9M170.0 58.3H189.8M160.0 80.4H170.0M170.0 73.5V87.2M170.0 73.5H178.1M178.1 66.8V80.2M178.1 66.8H183.0M183.0 62.8V70.9M183.0 62.8H186.0M186.0 62.3V63.2M186.0 62.3H194.6M186.0 63.2H188.2M188.2 62.7V63.6M188.2 62.7H196.3M188.2 63.6H194.9M194.9 63.3V64.0M194.9 63.3H226.0M194.9 64.0H202.5M202.5 63.9V64.0M202.5 63.9H229.5M202.5 64.0H210.5M183.0 70.9H193.1M193.1 67.2V74.5M193.1 67.2H195.9M195.9 66.0V68.5M195.9 66.0H222.0M195.9 68.5H196.8M196.8 67.5V69.4M196.8 67.5H212.3M196.8 69.4H197.7M197.7 68.8V70.0M197.7 68.8H198.3M198.3 68.4V69.3M198.3 68.4H200.0M200.0 68.1V68.7M200.0 68.1H205.4M200.0 68.7H205.0M198.3 69.3H200.6M197.7 70.0H250.0M193.1 74.5H200.4M200.4 72.7V76.3M200.4 72.7H208.7M208.7 72.1V73.4M208.7 72.1H219.7M208.7 73.4H215.0M215.0 73.0V73.9M215.0 73.0H219.7M219.7 72.7V73.3M219.7 72.7H242.1M219.7 73.3H223.0M215.0 73.9H264.6M200.4 76.3H207.0M207.0 75.7V76.9M207.0 75.7H214.6M214.6 75.4V76.0M214.6 75.4H246.5M214.6 76.0H222.9M207.0 76.9H214.3M214.3 76.6V77.2M214.3 76.6H232.9M214.3 77.2H227.5M178.1 80.2H195.1M195.1 79.7V80.6M195.1 79.7H240.7M195.1 80.6H212.9M212.9 80.3V80.9M212.9 80.3H235.1M212.9 80.9H249.6M170.0 87.2H176.4M176.4 86.5V87.9M176.4 86.5H195.8M195.8 86.0V87.0M195.8 86.0H200.8M200.8 86.0V86.1M200.8 86.0H249.9M200.8 86.1H219.9M195.8 87.0H199.8M199.8 86.7V87.3M199.8 86.7H209.7M199.8 87.3H228.9M176.4 87.9H225.1M144.0 105.6H150.0M150.0 101.8V109.4M150.0 101.8H154.3M154.3 99.1V104.4M154.3 99.1H173.2M173.2 97.4V100.8M173.2 97.4H177.3M177.3 96.3V98.6M177.3 96.3H188.5M188.5 95.8V96.7M188.5 95.8H206.5M188.5 96.7H195.3M195.3 96.4V97.0M195.3 96.4H202.4M195.3 97.0H200.3M177.3 98.6H214.8M173.2 100.8H182.3M182.3 100.3V101.3M182.3 100.3H201.7M182.3 101.3H186.0M186.0 100.9V101.8M186.0 100.9H190.7M186.0 101.8H194.3M194.3 101.5V102.1M194.3 101.5H205.9M194.3 102.1H201.6M154.3 104.4H165.3M165.3 103.9V104.9M165.3 103.9H186.6M165.3 104.9H169.9M169.9 104.5V105.4M169.9 104.5H195.0M169.9 105.4H172.1M172.1 105.1V105.7M172.1 105.1H175.6M172.1 105.7H182.6M150.0 109.4H164.7M164.7 108.7V110.0M164.7 108.7H167.1M167.1 108.4V109.1M167.1 108.4H171.5M171.5 108.4V108.5M171.5 108.4H175.9M171.5 108.5H217.3M167.1 109.1H201.9M164.7 110.0H172.8M172.8 109.7V110.3M172.8 109.7H198.6M172.8 110.3H195.1M144.0 128.0H183.0M183.0 120.0V136.1M183.0 120.0H200.0M200.0 115.6V124.4M200.0 115.6H217.0M217.0 114.8V116.4M217.0 114.8H222.7M222.7 114.3V115.2M222.7 114.3H239.0M222.7 115.2H226.6M226.6 114.9V115.5M226.6 114.9H238.6M226.6 115.5H242.5M217.0 116.4H223.7M223.7 116.1V116.7M223.7 116.1H246.0M223.7 116.7H229.9M200.0 124.4H202.6M202.6 121.6V127.1M202.6 121.6H206.4M206.4 120.9V122.4M206.4 120.9H242.5M206.4 122.4H207.4M207.4 122.0V122.9M207.4 122.0H213.5M213.5 121.5V122.5M213.5 121.5H241.5M213.5 122.5H220.8M220.8 122.3V122.7M220.8 122.3H223.7M223.7 122.1V122.5M223.7 122.1H235.9M223.7 122.5H228.9M220.8 122.7H239.8M207.4 122.9H209.7M202.6 127.1H213.0M213.0 126.6V127.6M213.0 126.6H218.0M218.0 126.1V127.0M218.0 126.1H222.9M222.9 125.8V126.4M222.9 125.8H230.0M222.9 126.4H226.9M218.0 127.0H223.6M213.0 127.6H228.2M183.0 136.1H186.0M186.0 132.8V139.4M186.0 132.8H196.8M196.8 131.4V134.2M196.8 131.4H204.8M204.8 130.9V131.9M204.8 130.9H210.4M210.4 130.6V131.3M210.4 130.6H213.6M213.6 130.1V131.0M213.6 130.1H222.0M213.6 131.0H214.2M214.2 130.7V131.3M214.2 130.7H224.8M214.2 131.3H216.2M210.4 131.3H254.7M204.8 131.9H223.5M196.8 134.2H203.8M203.8 133.7V134.6M203.8 133.7H217.5M203.8 134.6H205.1M205.1 134.3V134.8M205.1 134.3H227.7M205.1 134.8H206.2M206.2 134.7V134.9M206.2 134.7H211.1M206.2 134.9H229.2M186.0 139.4H193.6M193.6 138.9V139.9M193.6 138.9H213.1M213.1 138.4V139.3M213.1 138.4H222.0M222.0 138.1V138.7M222.0 138.1H233.6M222.0 138.7H235.0M213.1 139.3H235.6M193.6 139.9H244.6M143.0 144.8H200.0M200.0 142.0V147.6M200.0 142.0H222.1M222.1 141.3V142.7M222.1 141.3H276.5M222.1 142.7H228.4M228.4 141.9V143.6M228.4 141.9H234.3M234.3 141.5V142.3M234.3 141.5H272.3M234.3 142.3H238.0M238.0 142.1V142.4M238.0 142.1H257.0M238.0 142.4H243.5M243.5 142.1V142.7M243.5 142.1H253.0M243.5 142.7H252.9M228.4 143.6H238.3M238.3 143.3V143.9M238.3 143.3H252.6M238.3 143.9H251.2M200.0 147.6H229.5M229.5 146.0V149.2M229.5 146.0H270.0M229.5 149.2H244.7M244.7 148.5V149.9M244.7 148.5H252.7M252.7 148.1V149.0M252.7 148.1H255.2M255.2 147.8V148.4M255.2 147.8H263.8M255.2 148.4H270.0M252.7 149.0H264.7M244.7 149.9H247.3M247.3 149.6V150.2M247.3 149.6H260.9M247.3 150.2H263.0M138.0 159.3H150.0M150.0 154.7V163.9M150.0 154.7H170.6M170.6 153.2V156.2M170.6 153.2H175.4M175.4 152.7V153.7M175.4 152.7H182.5M182.5 152.5V153.0M182.5 152.5H222.7M182.5 153.0H189.9M189.9 152.9V153.1M189.9 152.9H197.9M189.9 153.1H225.0M175.4 153.7H217.9M170.6 156.2H183.7M183.7 155.8V156.7M183.7 155.8H199.4M199.4 155.5V156.1M199.4 155.5H226.9M199.4 156.1H225.6M183.7 156.7H230.2M150.0 163.9H174.9M174.9 161.0V166.9M174.9 161.0H183.9M183.9 160.3V161.6M183.9 160.3H234.3M183.9 161.6H200.5M200.5 161.2V162.0M200.5 161.2H205.8M205.8 160.9V161.5M205.8 160.9H219.7M205.8 161.5H217.8M200.5 162.0H245.0M174.9 166.9H189.9M189.9 164.9V168.8M189.9 164.9H198.0M198.0 164.0V165.8M198.0 164.0H215.3M198.0 165.8H200.9M200.9 165.3V166.4M200.9 165.3H203.6M203.6 164.8V165.8M203.6 164.8H204.7M204.7 164.5V165.2M204.7 164.5H207.3M207.3 164.4V164.6M207.3 164.4H247.6M207.3 164.6H213.6M204.7 165.2H205.7M203.6 165.8H213.9M200.9 166.4H207.1M189.9 168.8H207.5M207.5 168.4V169.3M207.5 168.4H213.0M213.0 168.1V168.7M213.0 168.1H225.7M213.0 168.7H227.5M207.5 169.3H229.5M105.0 181.0H120.0M120.0 173.8V188.2M120.0 173.8H131.1M131.1 173.2V174.3M131.1 173.2H150.8M150.8 172.7V173.7M150.8 172.7H163.5M163.5 172.2V173.1M163.5 172.2H182.6M182.6 171.9V172.5M182.6 171.9H225.9M182.6 172.5H209.3M163.5 173.1H201.7M150.8 173.7H226.1M131.1 174.3H190.6M120.0 188.2H132.9M132.9 184.2V192.2M132.9 184.2H140.8M140.8 181.0V187.3M140.8 181.0H150.3M150.3 178.6V183.4M150.3 178.6H163.4M163.4 177.8V179.5M163.4 177.8H175.5M163.4 179.5H168.9M168.9 179.0V179.9M168.9 179.0H183.1M183.1 178.7V179.3M183.1 178.7H193.0M183.1 179.3H216.7M168.9 179.9H211.0M150.3 183.4H160.6M160.6 182.8V183.9M160.6 182.8H173.9M173.9 182.4V183.3M173.9 182.4H184.8M184.8 182.1V182.7M184.8 182.1H206.2M184.8 182.7H195.6M173.9 183.3H184.3M160.6 183.9H202.8M140.8 187.3H152.6M152.6 186.7V188.0M152.6 186.7H160.3M160.3 186.4V186.9M160.3 186.4H204.3M160.3 186.9H164.1M164.1 186.9V187.0M164.1 186.9H207.5M164.1 187.0H181.0M152.6 188.0H161.4M161.4 187.6V188.5M161.4 187.6H184.4M161.4 188.5H169.2M169.2 188.2V188.8M169.2 188.2H183.8M169.2 188.8H178.1M132.9 192.2H152.4M152.4 191.4V193.1M152.4 191.4H203.0M152.4 193.1H175.1M175.1 192.3V193.8M175.1 192.3H188.6M188.6 192.0V192.7M188.6 192.0H204.8M188.6 192.7H199.1M199.1 192.3V193.2M199.1 192.3H201.4M201.4 192.0V192.6M201.4 192.0H215.0M201.4 192.6H208.3M199.1 193.2H227.3M175.1 193.8H200.2M62.0 195.5H65.0M65.0 194.4V196.7M65.0 194.4H107.1M65.0 196.7H81.4M81.4 196.1V197.4M81.4 196.1H88.5M88.5 195.4V196.8M88.5 195.4H94.0M94.0 195.0V195.9M94.0 195.0H104.9M94.0 195.9H95.0M95.0 195.6V196.2M95.0 195.6H100.3M95.0 196.2H104.6M88.5 196.8H102.5M81.4 197.4H103.5M50.0 196.0H70.0M22.0 198.5H26.0" fill="none" stroke="#a0a0a0" stroke-width="0.45" stroke-opacity="1.0"/>
<path d="M242.2 27.8h1.1M235.3 28.4h1.1M234.1 29.0h1.1M236.6 29.0h4.1M215.9 33.3h5.9M215.1 33.9h10.7M239.0 38.9h1.1M226.8 39.5h1.1M215.1 46.2h1.1M215.8 46.8h1.1M218.3 46.8h4.2M204.5 51.0h9.8M195.8 57.1h10.4M203.9 57.7h1.1M192.3 58.3h5.1M194.6 62.3h1.1M196.3 62.7h1.1M226.0 63.3h1.1M229.5 63.9h1.1M232.0 63.9h8.7M210.5 64.0h1.1M222.0 66.0h1.1M205.4 68.1h1.1M207.9 68.1h10.9M200.6 69.3h1.1M250.0 70.0h1.1M219.7 72.1h1.1M222.2 72.1h4.5M223.0 73.3h1.1M264.6 73.9h1.1M267.1 73.9h6.4M222.9 76.0h1.1M232.9 76.6h1.1M227.5 77.2h1.1M237.6 80.3h4.6M249.6 80.9h1.1M252.1 80.9h5.6M249.9 86.0h1.1M219.9 86.1h1.1M222.4 86.1h10.9M209.7 86.7h1.1M231.4 87.3h7.7M225.1 87.9h1.1M206.5 95.8h1.1M202.4 96.4h1.1M200.3 97.0h1.1M202.8 97.0h9.8M214.8 98.6h1.1M217.3 98.6h11.8M201.7 100.3h1.1M190.7 100.9h1.1M193.2 100.9h8.6M205.9 101.5h1.1M201.6 102.1h1.1M204.1 102.1h9.0M186.6 103.9h1.1M195.0 104.5h1.1M178.1 105.1h4.5M182.6 105.7h1.1M175.9 108.4h1.1M178.4 108.4h8.7M217.3 108.5h1.1M219.8 108.5h6.5M201.9 109.1h1.1M198.6 109.7h1.1M201.1 109.7h10.2M195.1 110.3h1.1M241.5 114.3h5.8M241.1 114.9h5.5M242.5 115.5h1.1M246.0 116.1h1.1M248.5 116.1h6.7M232.4 116.7h10.8M242.5 120.9h1.1M245.0 120.9h9.2M244.0 121.5h5.8M235.9 122.1h1.1M228.9 122.5h1.1M242.3 122.7h6.2M232.5 125.8h5.0M226.9 126.4h1.1M223.6 127.0h1.1M226.1 127.0h7.3M228.2 127.6h1.1M230.7 127.6h11.4M222.0 130.1h1.1M224.5 130.1h11.5M216.2 131.3h1.1M257.2 131.3h10.0M217.5 133.7h1.1M220.0 133.7h6.7M227.7 134.3h1.1M230.2 134.3h8.7M211.1 134.7h1.1M229.2 134.9h1.1M233.6 138.1h1.1M235.6 139.3h1.1M238.1 139.3h10.0M244.6 139.9h1.1M247.1 139.9h9.3M276.5 141.3h1.1M279.0 141.3h11.5M272.3 141.5h1.1M274.8 141.5h6.0M259.5 142.1h10.3M253.0 142.1h1.1M255.5 142.1h8.3M255.4 142.7h10.3M253.7 143.9h9.0M272.5 146.0h6.2M263.8 147.8h1.1M270.0 148.4h1.1M272.5 148.4h10.2M264.7 149.0h1.1M267.2 149.0h5.0M260.9 149.6h1.1M263.4 149.6h11.8M265.5 150.2h8.0M222.7 152.5h1.1M225.2 152.5h6.8M197.9 152.9h1.1M225.0 153.1h1.1M227.5 153.1h6.6M217.9 153.7h1.1M229.4 155.5h4.6M225.6 156.1h1.1M228.1 156.1h8.8M232.7 156.7h10.4M234.3 160.3h1.1M236.8 160.3h7.0M219.7 160.9h1.1M217.8 161.5h1.1M245.0 162.0h1.1M247.5 162.0h8.3M215.3 164.0h1.1M217.8 164.0h7.4M247.6 164.4h1.1M216.1 164.6h11.2M208.2 165.2h7.7M213.9 165.8h1.1M207.1 166.4h1.1M229.5 169.3h1.1M225.9 171.9h1.1M228.4 171.9h10.2M209.3 172.5h1.1M211.8 172.5h4.8M204.2 173.1h4.2M228.6 173.7h10.8M190.6 174.3h1.1M195.5 178.7h10.1M216.7 179.3h1.1M211.0 179.9h1.1M208.7 182.1h6.6M195.6 182.7h1.1M184.3 183.3h1.1M186.8 183.3h6.0M202.8 183.9h1.1M204.3 186.4h1.1M206.8 186.4h7.2M207.5 186.9h1.1M210.0 186.9h4.7M181.0 187.0h1.1M184.4 187.6h1.1M183.8 188.2h1.1M203.0 191.4h1.1M205.5 191.4h9.1M207.3 192.0h4.8M208.3 192.6h1.1M210.8 192.6h9.8M227.3 193.2h1.1M229.8 193.2h5.6M200.2 193.8h1.1M202.7 193.8h5.9M107.1 194.4h1.1M104.9 195.0h1.1M100.3 195.6h1.1M104.6 196.2h1.1M107.1 196.2h5.7M102.5 196.8h1.1M105.0 196.8h7.1M103.5 197.4h1.1M106.0 197.4h6.6M72.5 196.0h11.9M26.0 198.5h1.1" stroke="#666" stroke-width="0.6" stroke-opacity="0.55" fill="none"/>
<rect x="215" y="29" width="30" height="4" fill="#888" fill-opacity="0.07"/>
<rect x="195" y="40" width="35" height="6" fill="#888" fill-opacity="0.07"/>
<rect x="185" y="55" width="40" height="10" fill="#888" fill-opacity="0.07"/>
<rect x="190" y="70" width="45" height="12" fill="#888" fill-opacity="0.07"/>
<rect x="185" y="100" width="40" height="10" fill="#888" fill-opacity="0.07"/>
<rect x="215" y="118" width="30" height="8" fill="#888" fill-opacity="0.07"/>
<rect x="205" y="131" width="30" height="6" fill="#888" fill-opacity="0.07"/>
<rect x="235" y="141" width="35" height="6" fill="#888" fill-opacity="0.07"/>
<rect x="190" y="152" width="40" height="12" fill="#888" fill-opacity="0.07"/>
<rect x="165" y="175" width="45" height="12" fill="#888" fill-opacity="0.07"/>
<rect x="4.8" y="201.60" width="277.9" height="1.3" fill="#555"/>
<rect x="16.60" y="202.20" width="0.8" height="2.2" fill="#555"/>
<text transform="translate(22.25,234.50) rotate(-90)" font-family="Liberation Sans" font-size="15" fill="#111" textLength="29.8" lengthAdjust="spacingAndGlyphs">1959</text>
<rect x="28.51" y="202.20" width="0.8" height="2.2" fill="#555"/>
<text transform="translate(34.16,234.50) rotate(-90)" font-family="Liberation Sans" font-size="15" fill="#111" textLength="29.8" lengthAdjust="spacingAndGlyphs">1962</text>
<rect x="40.41" y="202.20" width="0.8" height="2.2" fill="#555"/>
<text transform="translate(46.06,234.50) rotate(-90)" font-family="Liberation Sans" font-size="15" fill="#111" textLength="29.8" lengthAdjust="spacingAndGlyphs">1965</text>
<rect x="52.32" y="202.20" width="0.8" height="2.2" fill="#555"/>
<text transform="translate(57.97,234.50) rotate(-90)" font-family="Liberation Sans" font-size="15" fill="#111" textLength="29.8" lengthAdjust="spacingAndGlyphs">1968</text>
<rect x="64.22" y="202.20" width="0.8" height="2.2" fill="#555"/>
<text transform="translate(69.87,234.50) rotate(-90)" font-family="Liberation Sans" font-size="15" fill="#111" textLength="29.8" lengthAdjust="spacingAndGlyphs">1971</text>
<rect x="76.13" y="202.20" width="0.8" height="2.2" fill="#555"/>
<text transform="translate(81.78,234.50) rotate(-90)" font-family="Liberation Sans" font-size="15" fill="#111" textLength="29.8" lengthAdjust="spacingAndGlyphs">1974</text>
<rect x="88.04" y="202.20" width="0.8" height="2.2" fill="#555"/>
<text transform="translate(93.69,234.50) rotate(-90)" font-family="Liberation Sans" font-size="15" fill="#111" textLength="29.8" lengthAdjust="spacingAndGlyphs">1977</text>
<rect x="99.94" y="202.20" width="0.8" height="2.2" fill="#555"/>
<text transform="translate(105.59,234.50) rotate(-90)" font-family="Liberation Sans" font-size="15" fill="#111" textLength="29.8" lengthAdjust="spacingAndGlyphs">1980</text>
<rect x="111.85" y="202.20" width="0.8" height="2.2" fill="#555"/>
<text transform="translate(117.50,234.50) rotate(-90)" font-family="Liberation Sans" font-size="15" fill="#111" textLength="29.8" lengthAdjust="spacingAndGlyphs">1983</text>
<rect x="123.75" y="202.20" width="0.8" height="2.2" fill="#555"/>
<text transform="translate(129.40,234.50) rotate(-90)" font-family="Liberation Sans" font-size="15" fill="#111" textLength="29.8" lengthAdjust="spacingAndGlyphs">1986</text>
<rect x="135.66" y="202.20" width="0.8" height="2.2" fill="#555"/>
<text transform="translate(141.31,234.50) rotate(-90)" font-family="Liberation Sans" font-size="15" fill="#111" textLength="29.8" lengthAdjust="spacingAndGlyphs">1989</text>
<rect x="147.57" y="202.20" width="0.8" height="2.2" fill="#555"/>
<text transform="translate(153.22,234.50) rotate(-90)" font-family="Liberation Sans" font-size="15" fill="#111" textLength="29.8" lengthAdjust="spacingAndGlyphs">1992</text>
<rect x="159.47" y="202.20" width="0.8" height="2.2" fill="#555"/>
<text transform="translate(165.12,234.50) rotate(-90)" font-family="Liberation Sans" font-size="15" fill="#111" textLength="29.8" lengthAdjust="spacingAndGlyphs">1995</text>
<rect x="171.38" y="202.20" width="0.8" height="2.2" fill="#555"/>
<text transform="translate(177.03,234.50) rotate(-90)" font-family="Liberation Sans" font-size="15" fill="#111" textLength="29.8" lengthAdjust="spacingAndGlyphs">1998</text>
<rect x="183.28" y="202.20" width="0.8" height="2.2" fill="#555"/>
<text transform="translate(188.93,234.50) rotate(-90)" font-family="Liberation Sans" font-size="15" fill="#111" textLength="29.8" lengthAdjust="spacingAndGlyphs">2001</text>
<rect x="195.19" y="202.20" width="0.8" height="2.2" fill="#555"/>
<text transform="translate(200.84,234.50) rotate(-90)" font-family="Liberation Sans" font-size="15" fill="#111" textLength="29.8" lengthAdjust="spacingAndGlyphs">2004</text>
<rect x="207.10" y="202.20" width="0.8" height="2.2" fill="#555"/>
<text transform="translate(212.75,234.50) rotate(-90)" font-family="Liberation Sans" font-size="15" fill="#111" textLength="29.8" lengthAdjust="spacingAndGlyphs">2007</text>
<rect x="219.00" y="202.20" width="0.8" height="2.2" fill="#555"/>
<text transform="translate(224.65,234.50) rotate(-90)" font-family="Liberation Sans" font-size="15" fill="#111" textLength="29.8" lengthAdjust="spacingAndGlyphs">2010</text>
<rect x="230.91" y="202.20" width="0.8" height="2.2" fill="#555"/>
<text transform="translate(236.56,234.50) rotate(-90)" font-family="Liberation Sans" font-size="15" fill="#111" textLength="29.8" lengthAdjust="spacingAndGlyphs">2013</text>
<rect x="242.81" y="202.20" width="0.8" height="2.2" fill="#555"/>
<text transform="translate(248.46,234.50) rotate(-90)" font-family="Liberation Sans" font-size="15" fill="#111" textLength="29.8" lengthAdjust="spacingAndGlyphs">2016</text>
<rect x="254.72" y="202.20" width="0.8" height="2.2" fill="#555"/>
<text transform="translate(260.37,234.50) rotate(-90)" font-family="Liberation Sans" font-size="15" fill="#111" textLength="29.8" lengthAdjust="spacingAndGlyphs">2019</text>
<rect x="266.63" y="202.20" width="0.8" height="2.2" fill="#555"/>
<text transform="translate(272.28,234.50) rotate(-90)" font-family="Liberation Sans" font-size="15" fill="#111" textLength="29.8" lengthAdjust="spacingAndGlyphs">2022</text>
<rect x="278.53" y="202.20" width="0.8" height="2.2" fill="#555"/>
<text transform="translate(284.18,234.50) rotate(-90)" font-family="Liberation Sans" font-size="15" fill="#111" textLength="29.8" lengthAdjust="spacingAndGlyphs">2025</text>
<circle cx="20.0" cy="198.6" r="3.7" fill="#982323"/>
<circle cx="217.4" cy="30.4" r="3.7" fill="#1400FF"/>
<circle cx="223.5" cy="29.1" r="3.7" fill="#A8D3DA"/>
<circle cx="218.2" cy="35.2" r="3.7" fill="#982323"/>
<circle cx="202.2" cy="42.5" r="3.7" fill="#1400FF"/>
<circle cx="202.2" cy="43.7" r="3.7" fill="#982323"/>
<circle cx="194.5" cy="49.0" r="3.7" fill="#1400FF"/>
<circle cx="202.2" cy="56.4" r="3.7" fill="#1400FF"/>
<circle cx="202.2" cy="65.2" r="3.7" fill="#1400FF"/>
<circle cx="202.2" cy="68.4" r="3.7" fill="#1400FF"/>
<circle cx="182.7" cy="63.6" r="3.7" fill="#982323"/>
<circle cx="187.4" cy="71.2" r="3.7" fill="#A8D3DA"/>
<circle cx="182.7" cy="70.9" r="3.7" fill="#982323"/>
<circle cx="182.7" cy="80.3" r="3.7" fill="#1400FF"/>
<circle cx="182.0" cy="82.6" r="3.7" fill="#A8D3DA"/>
<circle cx="187.0" cy="78.4" r="3.7" fill="#982323"/>
<circle cx="174.4" cy="108.0" r="3.7" fill="#982323"/>
<circle cx="222.4" cy="115.7" r="3.7" fill="#1400FF"/>
<circle cx="218.3" cy="123.1" r="3.7" fill="#982323"/>
<circle cx="230.3" cy="120.8" r="3.7" fill="#982323"/>
<circle cx="226.2" cy="123.1" r="3.7" fill="#982323"/>
<circle cx="174.3" cy="154.8" r="3.7" fill="#1400FF"/>
<circle cx="194.2" cy="151.5" r="3.7" fill="#982323"/>
<circle cx="238.1" cy="161.3" r="3.7" fill="#982323"/>
<circle cx="183.3" cy="163.4" r="3.7" fill="#A8D3DA"/>
<circle cx="182.5" cy="161.9" r="3.7" fill="#1400FF"/>
<circle cx="170.2" cy="166.4" r="3.7" fill="#1400FF"/>
<circle cx="174.7" cy="169.5" r="3.7" fill="#A8D3DA"/>
<circle cx="178.8" cy="163.0" r="3.7" fill="#982323"/>
<circle cx="174.3" cy="164.4" r="3.7" fill="#982323"/>
<circle cx="158.4" cy="182.2" r="3.7" fill="#1400FF"/>
<circle cx="170.7" cy="187.5" r="3.7" fill="#1400FF"/>
<circle cx="153.9" cy="189.9" r="3.7" fill="#1400FF"/>
<circle cx="158.8" cy="190.3" r="3.7" fill="#982323"/>
<circle cx="98.0" cy="197.2" r="3.7" fill="#982323"/>
<circle cx="102.0" cy="196.6" r="3.7" fill="#982323"/>
<circle cx="106.0" cy="196.6" r="3.7" fill="#982323"/>
<circle cx="110.0" cy="197.0" r="3.7" fill="#982323"/>
<circle cx="112.5" cy="197.3" r="3.7" fill="#982323"/>
<text x="222" y="39.5" font-family="Liberation Sans" font-size="8.8" fill="#222" text-anchor="start" textLength="47" lengthAdjust="spacingAndGlyphs" >MN448598</text>
<text x="12.7" y="192.7" font-family="Liberation Sans" font-size="9.5" fill="#222" text-anchor="start" textLength="43" lengthAdjust="spacingAndGlyphs" >JQ922547</text>
<text x="346.1" y="0" transform="translate(0,64.80) scale(1,1.0)" font-family="Liberation Mono" font-weight="bold" font-size="8.8" fill="#111">JQ922547</text>
<text y="0" transform="translate(0,64.80) scale(1,0.82)" font-family="Liberation Mono" font-weight="bold" font-size="8.8" text-anchor="middle"><tspan x="402.14" fill="#6F6FC8">Q</tspan><tspan x="407.42" fill="#E09A30">G</tspan><tspan x="412.69" fill="#E09A30">G</tspan><tspan x="417.97" fill="#2E9048">L</tspan><tspan x="423.25" fill="#2E9048">L</tspan><tspan x="428.53" fill="#5A88C0">T</tspan><tspan x="433.81" fill="#EE33EE">H</tspan><tspan x="439.08" fill="#1E1EF0">R</tspan><tspan x="444.36" fill="#EE2A2A">D</tspan><tspan x="449.64" fill="#6F6FC8">Q</tspan><tspan x="454.92" fill="#5A88C0">T</tspan><tspan x="460.19" fill="#EE33EE">H</tspan><tspan x="465.47" fill="#E09A30">G</tspan><tspan x="470.75" fill="#2E9048">L</tspan><tspan x="476.03" fill="#5A88C0">T</tspan><tspan x="481.31" fill="#E09A30">G</tspan><tspan x="486.58" fill="#2E9048">L</tspan><tspan x="491.86" fill="#2E9048">I</tspan><tspan x="497.14" fill="#2E9048">I</tspan><tspan x="502.42" fill="#5A88C0">S</tspan><tspan x="507.69" fill="#2E9048">V</tspan><tspan x="512.97" fill="#5A88C0">S</tspan><tspan x="518.25" fill="#5A88C0">T</tspan><tspan x="523.53" fill="#3DBD8A">F</tspan><tspan x="528.81" fill="#E09A30">G</tspan><tspan x="534.08" fill="#2E9048">I</tspan><tspan x="539.36" fill="#EE2A2A">E</tspan><tspan x="544.64" fill="#E09A30">G</tspan><tspan x="549.92" fill="#2E9048">L</tspan><tspan x="555.19" fill="#2AAE98">Y</tspan><tspan x="560.47" fill="#2E9048">M</tspan><tspan x="565.75" fill="#1E1EF0">R</tspan><tspan x="571.03" fill="#6F6FC8">N</tspan><tspan x="576.31" fill="#1E1EF0">R</tspan><tspan x="581.58" fill="#1E1EF0">R</tspan><tspan x="586.86" fill="#2E9048">L</tspan><tspan x="592.14" fill="#3FCF9A">A</tspan><tspan x="597.42" fill="#5A88C0">T</tspan><tspan x="602.69" fill="#2E9048">L</tspan><tspan x="607.97" fill="#E09A30">G</tspan><tspan x="613.25" fill="#6F6FC8">Q</tspan><tspan x="618.53" fill="#2E9048">V</tspan><tspan x="623.81" fill="#2E9048">L</tspan><tspan x="629.08" fill="#5A88C0">S</tspan><tspan x="634.36" fill="#6F6FC8">N</tspan></text>
<text x="346.1" y="0" transform="translate(0,74.10) scale(1,1.0)" font-family="Liberation Mono" font-weight="bold" font-size="8.8" fill="#111">AY732482</text>
<text y="0" transform="translate(0,74.10) scale(1,0.82)" font-family="Liberation Mono" font-weight="bold" font-size="8.8" text-anchor="middle"><tspan x="402.14" fill="#6F6FC8">N</tspan><tspan x="407.42" fill="#2E9048">M</tspan><tspan x="412.69" fill="#2E9048">L</tspan><tspan x="417.97" fill="#2E9048">.</tspan><tspan x="423.25" fill="#2E9048">.</tspan><tspan x="428.53" fill="#5A88C0">.</tspan><tspan x="433.81" fill="#EE33EE">.</tspan><tspan x="439.08" fill="#1E1EF0">.</tspan><tspan x="444.36" fill="#EE2A2A">.</tspan><tspan x="449.64" fill="#6F6FC8">.</tspan><tspan x="454.92" fill="#EE2A2A">E</tspan><tspan x="460.19" fill="#EE33EE">.</tspan><tspan x="465.47" fill="#E09A30">.</tspan><tspan x="470.75" fill="#2E9048">.</tspan><tspan x="476.03" fill="#5A88C0">.</tspan><tspan x="481.31" fill="#E09A30">.</tspan><tspan x="486.58" fill="#1A1AF5">K</tspan><tspan x="491.86" fill="#3FCF9A">A</tspan><tspan x="497.14" fill="#EE2A2A">E</tspan><tspan x="502.42" fill="#3FCF9A">A</tspan><tspan x="507.69" fill="#5A88C0">T</tspan><tspan x="512.97" fill="#5A88C0">.</tspan><tspan x="518.25" fill="#5A88C0">.</tspan><tspan x="523.53" fill="#3DBD8A">.</tspan><tspan x="528.81" fill="#2E9048">L</tspan><tspan x="534.08" fill="#EE2A2A">D</tspan><tspan x="539.36" fill="#EE2A2A">.</tspan><tspan x="544.64" fill="#6F6FC8">N</tspan><tspan x="549.92" fill="#2E9048">.</tspan><tspan x="555.19" fill="#2AAE98">.</tspan><tspan x="560.47" fill="#2E9048">.</tspan><tspan x="565.75" fill="#1E1EF0">.</tspan><tspan x="571.03" fill="#EE33EE">H</tspan><tspan x="576.31" fill="#1E1EF0">.</tspan><tspan x="581.58" fill="#1A1AF5">K</tspan><tspan x="586.86" fill="#2E9048">.</tspan><tspan x="592.14" fill="#3FCF9A">.</tspan><tspan x="597.42" fill="#1A1AF5">K</tspan><tspan x="602.69" fill="#5A88C0">S</tspan><tspan x="607.97" fill="#6F6FC8">N</tspan><tspan x="613.25" fill="#6F6FC8">.</tspan><tspan x="618.53" fill="#2E9048">.</tspan><tspan x="623.81" fill="#5A88C0">S</tspan><tspan x="629.08" fill="#5A88C0">.</tspan><tspan x="634.36" fill="#6F6FC8">.</tspan></text>
<text x="346.1" y="0" transform="translate(0,83.40) scale(1,1.0)" font-family="Liberation Mono" font-weight="bold" font-size="8.8" fill="#111">KY586356</text>
<text y="0" transform="translate(0,83.40) scale(1,0.82)" font-family="Liberation Mono" font-weight="bold" font-size="8.8" text-anchor="middle"><tspan x="402.14" fill="#6F6FC8">N</tspan><tspan x="407.42" fill="#2E9048">M</tspan><tspan x="412.69" fill="#2E9048">L</tspan><tspan x="417.97" fill="#2E9048">.</tspan><tspan x="423.25" fill="#2E9048">.</tspan><tspan x="428.53" fill="#5A88C0">.</tspan><tspan x="433.81" fill="#EE33EE">.</tspan><tspan x="439.08" fill="#1E1EF0">.</tspan><tspan x="444.36" fill="#EE2A2A">.</tspan><tspan x="449.64" fill="#6F6FC8">.</tspan><tspan x="454.92" fill="#EE2A2A">E</tspan><tspan x="460.19" fill="#EE33EE">.</tspan><tspan x="465.47" fill="#E09A30">.</tspan><tspan x="470.75" fill="#2E9048">.</tspan><tspan x="476.03" fill="#5A88C0">.</tspan><tspan x="481.31" fill="#E09A30">.</tspan><tspan x="486.58" fill="#1A1AF5">K</tspan><tspan x="491.86" fill="#3FCF9A">A</tspan><tspan x="497.14" fill="#EE2A2A">E</tspan><tspan x="502.42" fill="#3FCF9A">A</tspan><tspan x="507.69" fill="#5A88C0">T</tspan><tspan x="512.97" fill="#5A88C0">.</tspan><tspan x="518.25" fill="#5A88C0">.</tspan><tspan x="523.53" fill="#3DBD8A">.</tspan><tspan x="528.81" fill="#2E9048">L</tspan><tspan x="534.08" fill="#EE2A2A">D</tspan><tspan x="539.36" fill="#1A1AF5">K</tspan><tspan x="544.64" fill="#6F6FC8">N</tspan><tspan x="549.92" fill="#2E9048">.</tspan><tspan x="555.19" fill="#2AAE98">.</tspan><tspan x="560.47" fill="#2E9048">.</tspan><tspan x="565.75" fill="#1E1EF0">.</tspan><tspan x="571.03" fill="#EE33EE">H</tspan><tspan x="576.31" fill="#1E1EF0">.</tspan><tspan x="581.58" fill="#1A1AF5">K</tspan><tspan x="586.86" fill="#2E9048">.</tspan><tspan x="592.14" fill="#3FCF9A">.</tspan><tspan x="597.42" fill="#1A1AF5">K</tspan><tspan x="602.69" fill="#5A88C0">S</tspan><tspan x="607.97" fill="#6F6FC8">N</tspan><tspan x="613.25" fill="#6F6FC8">.</tspan><tspan x="618.53" fill="#2E9048">.</tspan><tspan x="623.81" fill="#2E9048">.</tspan><tspan x="629.08" fill="#5A88C0">.</tspan><tspan x="634.36" fill="#6F6FC8">.</tspan></text>
<text x="346.1" y="0" transform="translate(0,92.70) scale(1,1.0)" font-family="Liberation Mono" font-weight="bold" font-size="8.8" fill="#111">KY586385</text>
<text y="0" transform="translate(0,92.70) scale(1,0.82)" font-family="Liberation Mono" font-weight="bold" font-size="8.8" text-anchor="middle"><tspan x="402.14" fill="#6F6FC8">N</tspan><tspan x="407.42" fill="#2E9048">M</tspan><tspan x="412.69" fill="#2E9048">L</tspan><tspan x="417.97" fill="#2E9048">.</tspan><tspan x="423.25" fill="#2E9048">.</tspan><tspan x="428.53" fill="#5A88C0">.</tspan><tspan x="433.81" fill="#EE33EE">.</tspan><tspan x="439.08" fill="#1E1EF0">.</tspan><tspan x="444.36" fill="#EE2A2A">.</tspan><tspan x="449.64" fill="#6F6FC8">.</tspan><tspan x="454.92" fill="#EE2A2A">E</tspan><tspan x="460.19" fill="#EE33EE">.</tspan><tspan x="465.47" fill="#E09A30">.</tspan><tspan x="470.75" fill="#2E9048">.</tspan><tspan x="476.03" fill="#5A88C0">.</tspan><tspan x="481.31" fill="#E09A30">.</tspan><tspan x="486.58" fill="#1A1AF5">K</tspan><tspan x="491.86" fill="#3FCF9A">A</tspan><tspan x="497.14" fill="#EE2A2A">E</tspan><tspan x="502.42" fill="#3FCF9A">A</tspan><tspan x="507.69" fill="#5A88C0">T</tspan><tspan x="512.97" fill="#5A88C0">.</tspan><tspan x="518.25" fill="#5A88C0">.</tspan><tspan x="523.53" fill="#3DBD8A">.</tspan><tspan x="528.81" fill="#2E9048">L</tspan><tspan x="534.08" fill="#EE2A2A">D</tspan><tspan x="539.36" fill="#1A1AF5">K</tspan><tspan x="544.64" fill="#6F6FC8">N</tspan><tspan x="549.92" fill="#2E9048">.</tspan><tspan x="555.19" fill="#2AAE98">.</tspan><tspan x="560.47" fill="#2E9048">.</tspan><tspan x="565.75" fill="#1E1EF0">.</tspan><tspan x="571.03" fill="#EE33EE">H</tspan><tspan x="576.31" fill="#1E1EF0">.</tspan><tspan x="581.58" fill="#1A1AF5">K</tspan><tspan x="586.86" fill="#2E9048">.</tspan><tspan x="592.14" fill="#3FCF9A">.</tspan><tspan x="597.42" fill="#1A1AF5">K</tspan><tspan x="602.69" fill="#5A88C0">S</tspan><tspan x="607.97" fill="#6F6FC8">N</tspan><tspan x="613.25" fill="#6F6FC8">.</tspan><tspan x="618.53" fill="#2E9048">.</tspan><tspan x="623.81" fill="#5A88C0">S</tspan><tspan x="629.08" fill="#5A88C0">.</tspan><tspan x="634.36" fill="#6F6FC8">.</tspan></text>
<text x="346.1" y="0" transform="translate(0,102.00) scale(1,1.0)" font-family="Liberation Mono" font-weight="bold" font-size="8.8" fill="#111">KY586387</text>
<text y="0" transform="translate(0,102.00) scale(1,0.82)" font-family="Liberation Mono" font-weight="bold" font-size="8.8" text-anchor="middle"><tspan x="402.14" fill="#6F6FC8">N</tspan><tspan x="407.42" fill="#2E9048">M</tspan><tspan x="412.69" fill="#2E9048">L</tspan><tspan x="417.97" fill="#2E9048">.</tspan><tspan x="423.25" fill="#2E9048">.</tspan><tspan x="428.53" fill="#5A88C0">.</tspan><tspan x="433.81" fill="#EE33EE">.</tspan><tspan x="439.08" fill="#1E1EF0">.</tspan><tspan x="444.36" fill="#EE2A2A">.</tspan><tspan x="449.64" fill="#6F6FC8">.</tspan><tspan x="454.92" fill="#EE2A2A">E</tspan><tspan x="460.19" fill="#EE33EE">.</tspan><tspan x="465.47" fill="#E09A30">.</tspan><tspan x="470.75" fill="#2E9048">.</tspan><tspan x="476.03" fill="#5A88C0">.</tspan><tspan x="481.31" fill="#E09A30">.</tspan><tspan x="486.58" fill="#1A1AF5">K</tspan><tspan x="491.86" fill="#3FCF9A">A</tspan><tspan x="497.14" fill="#EE2A2A">E</tspan><tspan x="502.42" fill="#3FCF9A">A</tspan><tspan x="507.69" fill="#5A88C0">T</tspan><tspan x="512.97" fill="#5A88C0">.</tspan><tspan x="518.25" fill="#5A88C0">.</tspan><tspan x="523.53" fill="#3DBD8A">.</tspan><tspan x="528.81" fill="#2E9048">L</tspan><tspan x="534.08" fill="#EE2A2A">D</tspan><tspan x="539.36" fill="#EE2A2A">.</tspan><tspan x="544.64" fill="#6F6FC8">N</tspan><tspan x="549.92" fill="#2E9048">.</tspan><tspan x="555.19" fill="#2AAE98">.</tspan><tspan x="560.47" fill="#2E9048">.</tspan><tspan x="565.75" fill="#1E1EF0">.</tspan><tspan x="571.03" fill="#EE33EE">H</tspan><tspan x="576.31" fill="#1E1EF0">.</tspan><tspan x="581.58" fill="#1A1AF5">K</tspan><tspan x="586.86" fill="#2E9048">.</tspan><tspan x="592.14" fill="#3FCF9A">.</tspan><tspan x="597.42" fill="#1A1AF5">K</tspan><tspan x="602.69" fill="#5A88C0">S</tspan><tspan x="607.97" fill="#6F6FC8">N</tspan><tspan x="613.25" fill="#6F6FC8">.</tspan><tspan x="618.53" fill="#2E9048">.</tspan><tspan x="623.81" fill="#5A88C0">S</tspan><tspan x="629.08" fill="#5A88C0">.</tspan><tspan x="634.36" fill="#6F6FC8">.</tspan></text>
<text x="346.1" y="0" transform="translate(0,111.30) scale(1,1.0)" font-family="Liberation Mono" font-weight="bold" font-size="8.8" fill="#111">KY586393</text>
<text y="0" transform="translate(0,111.30) scale(1,0.82)" font-family="Liberation Mono" font-weight="bold" font-size="8.8" text-anchor="middle"><tspan x="402.14" fill="#6F6FC8">N</tspan><tspan x="407.42" fill="#2E9048">M</tspan><tspan x="412.69" fill="#2E9048">L</tspan><tspan x="417.97" fill="#2E9048">.</tspan><tspan x="423.25" fill="#2E9048">.</tspan><tspan x="428.53" fill="#5A88C0">.</tspan><tspan x="433.81" fill="#EE33EE">.</tspan><tspan x="439.08" fill="#1E1EF0">.</tspan><tspan x="444.36" fill="#EE2A2A">.</tspan><tspan x="449.64" fill="#6F6FC8">.</tspan><tspan x="454.92" fill="#EE2A2A">E</tspan><tspan x="460.19" fill="#EE33EE">.</tspan><tspan x="465.47" fill="#E09A30">.</tspan><tspan x="470.75" fill="#2E9048">.</tspan><tspan x="476.03" fill="#5A88C0">.</tspan><tspan x="481.31" fill="#E09A30">.</tspan><tspan x="486.58" fill="#1A1AF5">K</tspan><tspan x="491.86" fill="#3FCF9A">A</tspan><tspan x="497.14" fill="#EE2A2A">E</tspan><tspan x="502.42" fill="#3FCF9A">A</tspan><tspan x="507.69" fill="#5A88C0">T</tspan><tspan x="512.97" fill="#5A88C0">.</tspan><tspan x="518.25" fill="#5A88C0">.</tspan><tspan x="523.53" fill="#3DBD8A">.</tspan><tspan x="528.81" fill="#2E9048">L</tspan><tspan x="534.08" fill="#EE2A2A">D</tspan><tspan x="539.36" fill="#1A1AF5">K</tspan><tspan x="544.64" fill="#6F6FC8">N</tspan><tspan x="549.92" fill="#2E9048">.</tspan><tspan x="555.19" fill="#2AAE98">.</tspan><tspan x="560.47" fill="#2E9048">.</tspan><tspan x="565.75" fill="#1E1EF0">.</tspan><tspan x="571.03" fill="#EE33EE">H</tspan><tspan x="576.31" fill="#1E1EF0">.</tspan><tspan x="581.58" fill="#1A1AF5">K</tspan><tspan x="586.86" fill="#2E9048">.</tspan><tspan x="592.14" fill="#3FCF9A">.</tspan><tspan x="597.42" fill="#1A1AF5">K</tspan><tspan x="602.69" fill="#5A88C0">S</tspan><tspan x="607.97" fill="#6F6FC8">N</tspan><tspan x="613.25" fill="#6F6FC8">.</tspan><tspan x="618.53" fill="#2E9048">.</tspan><tspan x="623.81" fill="#5A88C0">S</tspan><tspan x="629.08" fill="#5A88C0">.</tspan><tspan x="634.36" fill="#6F6FC8">.</tspan></text>
<text x="346.1" y="0" transform="translate(0,120.60) scale(1,1.0)" font-family="Liberation Mono" font-weight="bold" font-size="8.8" fill="#111">MN448598</text>
<text y="0" transform="translate(0,120.60) scale(1,0.82)" font-family="Liberation Mono" font-weight="bold" font-size="8.8" text-anchor="middle"><tspan x="402.14" fill="#6F6FC8">N</tspan><tspan x="407.42" fill="#2E9048">M</tspan><tspan x="412.69" fill="#2E9048">L</tspan><tspan x="417.97" fill="#2E9048">.</tspan><tspan x="423.25" fill="#2E9048">.</tspan><tspan x="428.53" fill="#5A88C0">.</tspan><tspan x="433.81" fill="#EE33EE">.</tspan><tspan x="439.08" fill="#1E1EF0">.</tspan><tspan x="444.36" fill="#EE2A2A">.</tspan><tspan x="449.64" fill="#6F6FC8">.</tspan><tspan x="454.92" fill="#EE2A2A">E</tspan><tspan x="460.19" fill="#EE33EE">.</tspan><tspan x="465.47" fill="#E09A30">.</tspan><tspan x="470.75" fill="#2E9048">.</tspan><tspan x="476.03" fill="#5A88C0">.</tspan><tspan x="481.31" fill="#E09A30">.</tspan><tspan x="486.58" fill="#1A1AF5">K</tspan><tspan x="491.86" fill="#3FCF9A">A</tspan><tspan x="497.14" fill="#EE2A2A">E</tspan><tspan x="502.42" fill="#3FCF9A">A</tspan><tspan x="507.69" fill="#5A88C0">T</tspan><tspan x="512.97" fill="#5A88C0">.</tspan><tspan x="518.25" fill="#5A88C0">.</tspan><tspan x="523.53" fill="#3DBD8A">.</tspan><tspan x="528.81" fill="#2E9048">L</tspan><tspan x="534.08" fill="#EE2A2A">D</tspan><tspan x="539.36" fill="#1A1AF5">K</tspan><tspan x="544.64" fill="#6F6FC8">N</tspan><tspan x="549.92" fill="#2E9048">.</tspan><tspan x="555.19" fill="#2AAE98">.</tspan><tspan x="560.47" fill="#2E9048">.</tspan><tspan x="565.75" fill="#1E1EF0">.</tspan><tspan x="571.03" fill="#EE33EE">H</tspan><tspan x="576.31" fill="#1E1EF0">.</tspan><tspan x="581.58" fill="#1A1AF5">K</tspan><tspan x="586.86" fill="#2E9048">.</tspan><tspan x="592.14" fill="#3FCF9A">.</tspan><tspan x="597.42" fill="#1A1AF5">K</tspan><tspan x="602.69" fill="#5A88C0">S</tspan><tspan x="607.97" fill="#6F6FC8">N</tspan><tspan x="613.25" fill="#6F6FC8">.</tspan><tspan x="618.53" fill="#2E9048">.</tspan><tspan x="623.81" fill="#5A88C0">S</tspan><tspan x="629.08" fill="#5A88C0">.</tspan><tspan x="634.36" fill="#6F6FC8">.</tspan></text>
<text x="346.1" y="0" transform="translate(0,129.90) scale(1,1.0)" font-family="Liberation Mono" font-weight="bold" font-size="8.8" fill="#111">MN448640</text>
<text y="0" transform="translate(0,129.90) scale(1,0.82)" font-family="Liberation Mono" font-weight="bold" font-size="8.8" text-anchor="middle"><tspan x="402.14" fill="#6F6FC8">N</tspan><tspan x="407.42" fill="#2E9048">M</tspan><tspan x="412.69" fill="#2E9048">L</tspan><tspan x="417.97" fill="#2E9048">.</tspan><tspan x="423.25" fill="#2E9048">.</tspan><tspan x="428.53" fill="#5A88C0">.</tspan><tspan x="433.81" fill="#EE33EE">.</tspan><tspan x="439.08" fill="#1E1EF0">.</tspan><tspan x="444.36" fill="#EE2A2A">.</tspan><tspan x="449.64" fill="#6F6FC8">.</tspan><tspan x="454.92" fill="#EE2A2A">E</tspan><tspan x="460.19" fill="#EE33EE">.</tspan><tspan x="465.47" fill="#E09A30">.</tspan><tspan x="470.75" fill="#2E9048">.</tspan><tspan x="476.03" fill="#5A88C0">.</tspan><tspan x="481.31" fill="#E09A30">.</tspan><tspan x="486.58" fill="#1A1AF5">K</tspan><tspan x="491.86" fill="#3FCF9A">A</tspan><tspan x="497.14" fill="#EE2A2A">E</tspan><tspan x="502.42" fill="#3FCF9A">A</tspan><tspan x="507.69" fill="#5A88C0">T</tspan><tspan x="512.97" fill="#5A88C0">.</tspan><tspan x="518.25" fill="#5A88C0">.</tspan><tspan x="523.53" fill="#3DBD8A">.</tspan><tspan x="528.81" fill="#2E9048">L</tspan><tspan x="534.08" fill="#EE2A2A">D</tspan><tspan x="539.36" fill="#1A1AF5">K</tspan><tspan x="544.64" fill="#6F6FC8">N</tspan><tspan x="549.92" fill="#2E9048">.</tspan><tspan x="555.19" fill="#2AAE98">.</tspan><tspan x="560.47" fill="#2E9048">.</tspan><tspan x="565.75" fill="#1E1EF0">.</tspan><tspan x="571.03" fill="#EE33EE">H</tspan><tspan x="576.31" fill="#1E1EF0">.</tspan><tspan x="581.58" fill="#1A1AF5">K</tspan><tspan x="586.86" fill="#2E9048">.</tspan><tspan x="592.14" fill="#3FCF9A">.</tspan><tspan x="597.42" fill="#1A1AF5">K</tspan><tspan x="602.69" fill="#5A88C0">S</tspan><tspan x="607.97" fill="#6F6FC8">N</tspan><tspan x="613.25" fill="#6F6FC8">.</tspan><tspan x="618.53" fill="#2E9048">.</tspan><tspan x="623.81" fill="#5A88C0">S</tspan><tspan x="629.08" fill="#5A88C0">.</tspan><tspan x="634.36" fill="#6F6FC8">.</tspan></text>
<text x="346.1" y="0" transform="translate(0,139.20) scale(1,1.0)" font-family="Liberation Mono" font-weight="bold" font-size="8.8" fill="#111">MN448618</text>
<text y="0" transform="translate(0,139.20) scale(1,0.82)" font-family="Liberation Mono" font-weight="bold" font-size="8.8" text-anchor="middle"><tspan x="402.14" fill="#6F6FC8">N</tspan><tspan x="407.42" fill="#2E9048">M</tspan><tspan x="412.69" fill="#2E9048">L</tspan><tspan x="417.97" fill="#2E9048">.</tspan><tspan x="423.25" fill="#2E9048">.</tspan><tspan x="428.53" fill="#5A88C0">.</tspan><tspan x="433.81" fill="#EE33EE">.</tspan><tspan x="439.08" fill="#1E1EF0">.</tspan><tspan x="444.36" fill="#EE2A2A">.</tspan><tspan x="449.64" fill="#6F6FC8">.</tspan><tspan x="454.92" fill="#EE2A2A">E</tspan><tspan x="460.19" fill="#EE33EE">.</tspan><tspan x="465.47" fill="#E09A30">.</tspan><tspan x="470.75" fill="#2E9048">.</tspan><tspan x="476.03" fill="#5A88C0">.</tspan><tspan x="481.31" fill="#E09A30">.</tspan><tspan x="486.58" fill="#1A1AF5">K</tspan><tspan x="491.86" fill="#3FCF9A">A</tspan><tspan x="497.14" fill="#EE2A2A">E</tspan><tspan x="502.42" fill="#3FCF9A">A</tspan><tspan x="507.69" fill="#5A88C0">T</tspan><tspan x="512.97" fill="#5A88C0">.</tspan><tspan x="518.25" fill="#5A88C0">.</tspan><tspan x="523.53" fill="#3DBD8A">.</tspan><tspan x="528.81" fill="#2E9048">L</tspan><tspan x="534.08" fill="#EE2A2A">D</tspan><tspan x="539.36" fill="#1A1AF5">K</tspan><tspan x="544.64" fill="#6F6FC8">N</tspan><tspan x="549.92" fill="#2E9048">.</tspan><tspan x="555.19" fill="#2AAE98">.</tspan><tspan x="560.47" fill="#2E9048">.</tspan><tspan x="565.75" fill="#1E1EF0">.</tspan><tspan x="571.03" fill="#EE33EE">H</tspan><tspan x="576.31" fill="#1E1EF0">.</tspan><tspan x="581.58" fill="#1A1AF5">K</tspan><tspan x="586.86" fill="#2E9048">.</tspan><tspan x="592.14" fill="#3FCF9A">.</tspan><tspan x="597.42" fill="#1A1AF5">K</tspan><tspan x="602.69" fill="#5A88C0">S</tspan><tspan x="607.97" fill="#6F6FC8">N</tspan><tspan x="613.25" fill="#6F6FC8">.</tspan><tspan x="618.53" fill="#2E9048">.</tspan><tspan x="623.81" fill="#5A88C0">S</tspan><tspan x="629.08" fill="#5A88C0">.</tspan><tspan x="634.36" fill="#6F6FC8">.</tspan></text>
<text x="346.1" y="0" transform="translate(0,148.50) scale(1,1.0)" font-family="Liberation Mono" font-weight="bold" font-size="8.8" fill="#111">MT397276</text>
<text y="0" transform="translate(0,148.50) scale(1,0.82)" font-family="Liberation Mono" font-weight="bold" font-size="8.8" text-anchor="middle"><tspan x="402.14" fill="#6F6FC8">N</tspan><tspan x="407.42" fill="#2E9048">M</tspan><tspan x="412.69" fill="#2E9048">L</tspan><tspan x="417.97" fill="#2E9048">.</tspan><tspan x="423.25" fill="#5A88C0">T</tspan><tspan x="428.53" fill="#5A88C0">.</tspan><tspan x="433.81" fill="#1A1AF5">K</tspan><tspan x="439.08" fill="#1E1EF0">.</tspan><tspan x="444.36" fill="#2E9048">V</tspan><tspan x="449.64" fill="#6F6FC8">.</tspan><tspan x="454.92" fill="#EE2A2A">E</tspan><tspan x="460.19" fill="#EE33EE">.</tspan><tspan x="465.47" fill="#2E9048">L</tspan><tspan x="470.75" fill="#2E9048">I</tspan><tspan x="476.03" fill="#D03535">C</tspan><tspan x="481.31" fill="#E09A30">.</tspan><tspan x="486.58" fill="#1A1AF5">K</tspan><tspan x="491.86" fill="#3FCF9A">A</tspan><tspan x="497.14" fill="#EE2A2A">E</tspan><tspan x="502.42" fill="#3FCF9A">A</tspan><tspan x="507.69" fill="#5A88C0">T</tspan><tspan x="512.97" fill="#5A88C0">.</tspan><tspan x="518.25" fill="#5A88C0">.</tspan><tspan x="523.53" fill="#3DBD8A">.</tspan><tspan x="528.81" fill="#2E9048">L</tspan><tspan x="534.08" fill="#EE2A2A">D</tspan><tspan x="539.36" fill="#EE2A2A">.</tspan><tspan x="544.64" fill="#6F6FC8">N</tspan><tspan x="549.92" fill="#2E9048">.</tspan><tspan x="555.19" fill="#2AAE98">.</tspan><tspan x="560.47" fill="#2E9048">L</tspan><tspan x="565.75" fill="#1A1AF5">K</tspan><tspan x="571.03" fill="#EE33EE">H</tspan><tspan x="576.31" fill="#1E1EF0">.</tspan><tspan x="581.58" fill="#1A1AF5">K</tspan><tspan x="586.86" fill="#2E9048">.</tspan><tspan x="592.14" fill="#3FCF9A">.</tspan><tspan x="597.42" fill="#1A1AF5">K</tspan><tspan x="602.69" fill="#5A88C0">S</tspan><tspan x="607.97" fill="#6F6FC8">N</tspan><tspan x="613.25" fill="#6F6FC8">.</tspan><tspan x="618.53" fill="#2E9048">.</tspan><tspan x="623.81" fill="#2E9048">.</tspan><tspan x="629.08" fill="#5A88C0">.</tspan><tspan x="634.36" fill="#6F6FC8">.</tspan></text>
<text x="346.1" y="0" transform="translate(0,157.80) scale(1,1.0)" font-family="Liberation Mono" font-weight="bold" font-size="8.8" fill="#111">MW945857</text>
<text y="0" transform="translate(0,157.80) scale(1,0.82)" font-family="Liberation Mono" font-weight="bold" font-size="8.8" text-anchor="middle"><tspan x="402.14" fill="#6F6FC8">N</tspan><tspan x="407.42" fill="#2E9048">M</tspan><tspan x="412.69" fill="#2E9048">L</tspan><tspan x="417.97" fill="#2E9048">.</tspan><tspan x="423.25" fill="#2E9048">.</tspan><tspan x="428.53" fill="#5A88C0">.</tspan><tspan x="433.81" fill="#EE33EE">.</tspan><tspan x="439.08" fill="#1E1EF0">.</tspan><tspan x="444.36" fill="#EE2A2A">.</tspan><tspan x="449.64" fill="#6F6FC8">.</tspan><tspan x="454.92" fill="#EE2A2A">E</tspan><tspan x="460.19" fill="#EE33EE">.</tspan><tspan x="465.47" fill="#E09A30">.</tspan><tspan x="470.75" fill="#2E9048">.</tspan><tspan x="476.03" fill="#5A88C0">.</tspan><tspan x="481.31" fill="#E09A30">.</tspan><tspan x="486.58" fill="#1A1AF5">K</tspan><tspan x="491.86" fill="#3FCF9A">A</tspan><tspan x="497.14" fill="#EE2A2A">E</tspan><tspan x="502.42" fill="#2E9048">V</tspan><tspan x="507.69" fill="#5A88C0">T</tspan><tspan x="512.97" fill="#5A88C0">.</tspan><tspan x="518.25" fill="#5A88C0">.</tspan><tspan x="523.53" fill="#3DBD8A">.</tspan><tspan x="528.81" fill="#2E9048">L</tspan><tspan x="534.08" fill="#EE2A2A">D</tspan><tspan x="539.36" fill="#EE2A2A">.</tspan><tspan x="544.64" fill="#6F6FC8">N</tspan><tspan x="549.92" fill="#2E9048">.</tspan><tspan x="555.19" fill="#2AAE98">.</tspan><tspan x="560.47" fill="#2E9048">.</tspan><tspan x="565.75" fill="#1E1EF0">.</tspan><tspan x="571.03" fill="#EE33EE">H</tspan><tspan x="576.31" fill="#1E1EF0">.</tspan><tspan x="581.58" fill="#1A1AF5">K</tspan><tspan x="586.86" fill="#2E9048">.</tspan><tspan x="592.14" fill="#3FCF9A">.</tspan><tspan x="597.42" fill="#1A1AF5">K</tspan><tspan x="602.69" fill="#5A88C0">S</tspan><tspan x="607.97" fill="#6F6FC8">N</tspan><tspan x="613.25" fill="#6F6FC8">.</tspan><tspan x="618.53" fill="#2E9048">.</tspan><tspan x="623.81" fill="#5A88C0">S</tspan><tspan x="629.08" fill="#5A88C0">.</tspan><tspan x="634.36" fill="#6F6FC8">.</tspan></text>
<text x="346.1" y="0" transform="translate(0,167.10) scale(1,1.0)" font-family="Liberation Mono" font-weight="bold" font-size="8.8" fill="#111">MW945916</text>
<text y="0" transform="translate(0,167.10) scale(1,0.82)" font-family="Liberation Mono" font-weight="bold" font-size="8.8" text-anchor="middle"><tspan x="402.14" fill="#6F6FC8">N</tspan><tspan x="407.42" fill="#2E9048">M</tspan><tspan x="412.69" fill="#2E9048">L</tspan><tspan x="417.97" fill="#2E9048">.</tspan><tspan x="423.25" fill="#2E9048">.</tspan><tspan x="428.53" fill="#5A88C0">.</tspan><tspan x="433.81" fill="#EE33EE">.</tspan><tspan x="439.08" fill="#1E1EF0">.</tspan><tspan x="444.36" fill="#EE2A2A">.</tspan><tspan x="449.64" fill="#6F6FC8">.</tspan><tspan x="454.92" fill="#EE2A2A">E</tspan><tspan x="460.19" fill="#EE33EE">.</tspan><tspan x="465.47" fill="#E09A30">.</tspan><tspan x="470.75" fill="#2E9048">.</tspan><tspan x="476.03" fill="#5A88C0">.</tspan><tspan x="481.31" fill="#E09A30">.</tspan><tspan x="486.58" fill="#1A1AF5">K</tspan><tspan x="491.86" fill="#3FCF9A">A</tspan><tspan x="497.14" fill="#EE2A2A">E</tspan><tspan x="502.42" fill="#3FCF9A">A</tspan><tspan x="507.69" fill="#5A88C0">T</tspan><tspan x="512.97" fill="#5A88C0">.</tspan><tspan x="518.25" fill="#5A88C0">.</tspan><tspan x="523.53" fill="#3DBD8A">.</tspan><tspan x="528.81" fill="#2E9048">L</tspan><tspan x="534.08" fill="#EE2A2A">D</tspan><tspan x="539.36" fill="#EE2A2A">.</tspan><tspan x="544.64" fill="#6F6FC8">N</tspan><tspan x="549.92" fill="#2E9048">.</tspan><tspan x="555.19" fill="#2AAE98">.</tspan><tspan x="560.47" fill="#2E9048">I</tspan><tspan x="565.75" fill="#1E1EF0">.</tspan><tspan x="571.03" fill="#EE33EE">H</tspan><tspan x="576.31" fill="#1E1EF0">.</tspan><tspan x="581.58" fill="#1A1AF5">K</tspan><tspan x="586.86" fill="#2E9048">.</tspan><tspan x="592.14" fill="#3FCF9A">.</tspan><tspan x="597.42" fill="#1A1AF5">K</tspan><tspan x="602.69" fill="#5A88C0">S</tspan><tspan x="607.97" fill="#6F6FC8">N</tspan><tspan x="613.25" fill="#6F6FC8">.</tspan><tspan x="618.53" fill="#2E9048">.</tspan><tspan x="623.81" fill="#5A88C0">S</tspan><tspan x="629.08" fill="#5A88C0">.</tspan><tspan x="634.36" fill="#6F6FC8">.</tspan></text>
<text x="346.1" y="0" transform="translate(0,176.40) scale(1,1.0)" font-family="Liberation Mono" font-weight="bold" font-size="8.8" fill="#111">MW946015</text>
<text y="0" transform="translate(0,176.40) scale(1,0.82)" font-family="Liberation Mono" font-weight="bold" font-size="8.8" text-anchor="middle"><tspan x="402.14" fill="#6F6FC8">N</tspan><tspan x="407.42" fill="#2E9048">M</tspan><tspan x="412.69" fill="#2E9048">L</tspan><tspan x="417.97" fill="#2E9048">.</tspan><tspan x="423.25" fill="#2E9048">.</tspan><tspan x="428.53" fill="#5A88C0">.</tspan><tspan x="433.81" fill="#EE33EE">.</tspan><tspan x="439.08" fill="#1E1EF0">.</tspan><tspan x="444.36" fill="#EE2A2A">.</tspan><tspan x="449.64" fill="#6F6FC8">.</tspan><tspan x="454.92" fill="#EE2A2A">E</tspan><tspan x="460.19" fill="#EE33EE">.</tspan><tspan x="465.47" fill="#E09A30">.</tspan><tspan x="470.75" fill="#2E9048">.</tspan><tspan x="476.03" fill="#5A88C0">.</tspan><tspan x="481.31" fill="#E09A30">.</tspan><tspan x="486.58" fill="#1A1AF5">K</tspan><tspan x="491.86" fill="#3FCF9A">A</tspan><tspan x="497.14" fill="#EE2A2A">E</tspan><tspan x="502.42" fill="#3FCF9A">A</tspan><tspan x="507.69" fill="#5A88C0">T</tspan><tspan x="512.97" fill="#5A88C0">.</tspan><tspan x="518.25" fill="#5A88C0">.</tspan><tspan x="523.53" fill="#3DBD8A">.</tspan><tspan x="528.81" fill="#2E9048">L</tspan><tspan x="534.08" fill="#EE2A2A">D</tspan><tspan x="539.36" fill="#EE2A2A">.</tspan><tspan x="544.64" fill="#6F6FC8">N</tspan><tspan x="549.92" fill="#2E9048">.</tspan><tspan x="555.19" fill="#2AAE98">.</tspan><tspan x="560.47" fill="#2E9048">.</tspan><tspan x="565.75" fill="#1E1EF0">.</tspan><tspan x="571.03" fill="#EE33EE">H</tspan><tspan x="576.31" fill="#1E1EF0">.</tspan><tspan x="581.58" fill="#1A1AF5">K</tspan><tspan x="586.86" fill="#2E9048">.</tspan><tspan x="592.14" fill="#3FCF9A">.</tspan><tspan x="597.42" fill="#1A1AF5">K</tspan><tspan x="602.69" fill="#5A88C0">S</tspan><tspan x="607.97" fill="#6F6FC8">N</tspan><tspan x="613.25" fill="#6F6FC8">.</tspan><tspan x="618.53" fill="#2E9048">.</tspan><tspan x="623.81" fill="#5A88C0">S</tspan><tspan x="629.08" fill="#5A88C0">.</tspan><tspan x="634.36" fill="#6F6FC8">.</tspan></text>
<text x="346.1" y="0" transform="translate(0,185.70) scale(1,1.0)" font-family="Liberation Mono" font-weight="bold" font-size="8.8" fill="#111">MW946170</text>
<text y="0" transform="translate(0,185.70) scale(1,0.82)" font-family="Liberation Mono" font-weight="bold" font-size="8.8" text-anchor="middle"><tspan x="402.14" fill="#6F6FC8">N</tspan><tspan x="407.42" fill="#2E9048">M</tspan><tspan x="412.69" fill="#2E9048">L</tspan><tspan x="417.97" fill="#2E9048">.</tspan><tspan x="423.25" fill="#2E9048">.</tspan><tspan x="428.53" fill="#5A88C0">.</tspan><tspan x="433.81" fill="#EE33EE">.</tspan><tspan x="439.08" fill="#1E1EF0">.</tspan><tspan x="444.36" fill="#EE2A2A">.</tspan><tspan x="449.64" fill="#6F6FC8">.</tspan><tspan x="454.92" fill="#EE2A2A">E</tspan><tspan x="460.19" fill="#EE33EE">.</tspan><tspan x="465.47" fill="#E09A30">.</tspan><tspan x="470.75" fill="#2E9048">.</tspan><tspan x="476.03" fill="#5A88C0">.</tspan><tspan x="481.31" fill="#E09A30">.</tspan><tspan x="486.58" fill="#1A1AF5">K</tspan><tspan x="491.86" fill="#3FCF9A">A</tspan><tspan x="497.14" fill="#EE2A2A">E</tspan><tspan x="502.42" fill="#3FCF9A">A</tspan><tspan x="507.69" fill="#5A88C0">T</tspan><tspan x="512.97" fill="#5A88C0">.</tspan><tspan x="518.25" fill="#5A88C0">.</tspan><tspan x="523.53" fill="#3DBD8A">.</tspan><tspan x="528.81" fill="#2E9048">L</tspan><tspan x="534.08" fill="#EE2A2A">D</tspan><tspan x="539.36" fill="#EE2A2A">.</tspan><tspan x="544.64" fill="#6F6FC8">N</tspan><tspan x="549.92" fill="#2E9048">.</tspan><tspan x="555.19" fill="#2AAE98">.</tspan><tspan x="560.47" fill="#2E9048">.</tspan><tspan x="565.75" fill="#1E1EF0">.</tspan><tspan x="571.03" fill="#EE33EE">H</tspan><tspan x="576.31" fill="#1E1EF0">.</tspan><tspan x="581.58" fill="#1A1AF5">K</tspan><tspan x="586.86" fill="#2E9048">.</tspan><tspan x="592.14" fill="#3FCF9A">.</tspan><tspan x="597.42" fill="#1A1AF5">K</tspan><tspan x="602.69" fill="#5A88C0">S</tspan><tspan x="607.97" fill="#6F6FC8">N</tspan><tspan x="613.25" fill="#6F6FC8">.</tspan><tspan x="618.53" fill="#2E9048">.</tspan><tspan x="623.81" fill="#5A88C0">S</tspan><tspan x="629.08" fill="#5A88C0">.</tspan><tspan x="634.36" fill="#6F6FC8">.</tspan></text>
<text x="346.1" y="0" transform="translate(0,195.00) scale(1,1.0)" font-family="Liberation Mono" font-weight="bold" font-size="8.8" fill="#111">MW945994</text>
<text y="0" transform="translate(0,195.00) scale(1,0.82)" font-family="Liberation Mono" font-weight="bold" font-size="8.8" text-anchor="middle"><tspan x="402.14" fill="#6F6FC8">N</tspan><tspan x="407.42" fill="#2E9048">M</tspan><tspan x="412.69" fill="#2E9048">L</tspan><tspan x="417.97" fill="#2E9048">.</tspan><tspan x="423.25" fill="#2E9048">.</tspan><tspan x="428.53" fill="#5A88C0">.</tspan><tspan x="433.81" fill="#EE33EE">.</tspan><tspan x="439.08" fill="#1E1EF0">.</tspan><tspan x="444.36" fill="#EE2A2A">.</tspan><tspan x="449.64" fill="#6F6FC8">.</tspan><tspan x="454.92" fill="#EE2A2A">E</tspan><tspan x="460.19" fill="#EE33EE">.</tspan><tspan x="465.47" fill="#E09A30">.</tspan><tspan x="470.75" fill="#2E9048">.</tspan><tspan x="476.03" fill="#5A88C0">.</tspan><tspan x="481.31" fill="#E09A30">.</tspan><tspan x="486.58" fill="#1A1AF5">K</tspan><tspan x="491.86" fill="#3FCF9A">A</tspan><tspan x="497.14" fill="#EE2A2A">E</tspan><tspan x="502.42" fill="#3FCF9A">A</tspan><tspan x="507.69" fill="#5A88C0">T</tspan><tspan x="512.97" fill="#5A88C0">.</tspan><tspan x="518.25" fill="#5A88C0">.</tspan><tspan x="523.53" fill="#2E9048">V</tspan><tspan x="528.81" fill="#2E9048">L</tspan><tspan x="534.08" fill="#EE2A2A">D</tspan><tspan x="539.36" fill="#1A1AF5">K</tspan><tspan x="544.64" fill="#6F6FC8">N</tspan><tspan x="549.92" fill="#2E9048">.</tspan><tspan x="555.19" fill="#2AAE98">.</tspan><tspan x="560.47" fill="#2E9048">.</tspan><tspan x="565.75" fill="#1E1EF0">.</tspan><tspan x="571.03" fill="#EE33EE">H</tspan><tspan x="576.31" fill="#1E1EF0">.</tspan><tspan x="581.58" fill="#1A1AF5">K</tspan><tspan x="586.86" fill="#2E9048">.</tspan><tspan x="592.14" fill="#3FCF9A">.</tspan><tspan x="597.42" fill="#1A1AF5">K</tspan><tspan x="602.69" fill="#5A88C0">S</tspan><tspan x="607.97" fill="#6F6FC8">N</tspan><tspan x="613.25" fill="#6F6FC8">.</tspan><tspan x="618.53" fill="#2E9048">.</tspan><tspan x="623.81" fill="#5A88C0">S</tspan><tspan x="629.08" fill="#5A88C0">.</tspan><tspan x="634.36" fill="#6F6FC8">.</tspan></text>
<text x="407.40" y="23.20" font-family="Liberation Sans" font-size="10" fill="#992525" text-anchor="middle">C</text>
<line x1="407.40" y1="26.20" x2="407.40" y2="44.10" stroke="#992525" stroke-width="1.5" stroke-dasharray="2.2 2"/>
<polygon points="404.40,43.60 410.40,43.60 407.40,49.60" fill="#992525"/>
<path d="M398.00,57.70 L398.00,54.70 L416.00,54.70 L416.00,57.70" fill="none" stroke="#992525" stroke-width="1.3" stroke-dasharray="2 1.8"/>
<text x="454.40" y="23.20" font-family="Liberation Sans" font-size="10" fill="#992525" text-anchor="middle">E</text>
<line x1="454.40" y1="26.20" x2="454.40" y2="49.50" stroke="#992525" stroke-width="1.5" stroke-dasharray="2.2 2"/>
<polygon points="451.40,49.00 457.40,49.00 454.40,55.00" fill="#992525"/>
<text transform="translate(497.56,32.20) rotate(-90)" font-family="Liberation Sans" font-size="11" fill="#992525" textLength="16.4" lengthAdjust="spacingAndGlyphs">NS1</text>
<line x1="492.60" y1="35.20" x2="492.60" y2="47.40" stroke="#992525" stroke-width="1.5" stroke-dasharray="2.2 2"/>
<polygon points="489.60,46.90 495.60,46.90 492.60,52.90" fill="#992525"/>
<path d="M485.00,56.80 L485.00,53.80 L501.00,53.80 L501.00,56.80" fill="none" stroke="#992525" stroke-width="1.3" stroke-dasharray="2 1.8"/>
<text transform="translate(508.26,38.00) rotate(-90)" font-family="Liberation Sans" font-size="11" fill="#992525" textLength="23.1" lengthAdjust="spacingAndGlyphs">NS2A</text>
<line x1="503.30" y1="41.00" x2="503.30" y2="50.90" stroke="#992525" stroke-width="1.5" stroke-dasharray="2.2 2"/>
<polygon points="500.30,50.40 506.30,50.40 503.30,56.40" fill="#992525"/>
<text transform="translate(541.56,38.70) rotate(-90)" font-family="Liberation Sans" font-size="11" fill="#992525" textLength="17.7" lengthAdjust="spacingAndGlyphs">NS3</text>
<line x1="536.60" y1="41.70" x2="536.60" y2="46.90" stroke="#992525" stroke-width="1.5" stroke-dasharray="2.2 2"/>
<polygon points="533.60,46.40 539.60,46.40 536.60,52.40" fill="#992525"/>
<path d="M528.00,57.20 L528.00,54.20 L544.70,54.20 L544.70,57.20" fill="none" stroke="#992525" stroke-width="1.3" stroke-dasharray="2 1.8"/>
<text transform="translate(603.86,34.60) rotate(-90)" font-family="Liberation Sans" font-size="11" fill="#992525" textLength="16.3" lengthAdjust="spacingAndGlyphs">NS5</text>
<line x1="598.90" y1="37.60" x2="598.90" y2="49.50" stroke="#992525" stroke-width="1.5" stroke-dasharray="2.2 2"/>
<polygon points="595.90,49.00 601.90,49.00 598.90,55.00" fill="#992525"/>
<path d="M572.30,58.20 L572.30,55.20 L624.40,55.20 L624.40,58.20" fill="none" stroke="#992525" stroke-width="1.3" stroke-dasharray="2 1.8"/>
<defs><linearGradient id="g1" x1="0" y1="54.2" x2="0" y2="197" gradientUnits="userSpaceOnUse"><stop offset="0" stop-color="#fff"/><stop offset="0.45" stop-color="#9a2a2a"/><stop offset="1" stop-color="#8a1a1a"/></linearGradient></defs>
<rect x="641.80" y="54.2" width="3.2" height="136.80" fill="url(#g1)"/>
<polygon points="639.80,190.00 647.00,190.00 643.40,197.00" fill="#8a1a1a"/>
<text transform="translate(662.30,184.40) rotate(-90)" font-family="Liberation Sans" font-size="20" fill="#111" textLength="116.0" lengthAdjust="spacingAndGlyphs">Tree Direction</text>
<text x="440.1" y="0" transform="translate(0,325.60) scale(1,1.0)" font-family="Liberation Mono" font-weight="bold" font-size="11.1" fill="#111">DENV2_08020</text>
<text y="0" transform="translate(0,325.60) scale(1,0.87)" font-family="Liberation Mono" font-weight="bold" font-size="11.1" text-anchor="middle"><tspan x="531.17" fill="#2E9048">V</tspan><tspan x="537.91" fill="#EE2A2A">D</tspan><tspan x="544.65" fill="#2E9048">V</tspan><tspan x="551.39" fill="#3FCF9A">A</tspan><tspan x="558.13" fill="#6F6FC8">N</tspan><tspan x="564.87" fill="#2E9048">I</tspan><tspan x="571.61" fill="#2E9048">I</tspan><tspan x="578.35" fill="#1A1AF5">K</tspan><tspan x="585.09" fill="#EE2A2A">D</tspan><tspan x="591.83" fill="#6F6FC8">N</tspan><tspan x="598.57" fill="#EE2A2A">E</tspan><tspan x="605.31" fill="#2E9048">V</tspan><tspan x="612.05" fill="#2AAE98">Y</tspan><tspan x="618.79" fill="#5A88C0">T</tspan><tspan x="625.53" fill="#2E9048">L</tspan></text>
<text x="440.1" y="0" transform="translate(0,337.54) scale(1,1.0)" font-family="Liberation Mono" font-weight="bold" font-size="11.1" fill="#111">KY586667</text>
<text y="0" transform="translate(0,337.54) scale(1,0.87)" font-family="Liberation Mono" font-weight="bold" font-size="11.1" text-anchor="middle"><tspan x="531.17" fill="#3FCF9A">A</tspan><tspan x="537.91" fill="#EE2A2A">.</tspan><tspan x="544.65" fill="#2E9048">.</tspan><tspan x="551.39" fill="#3FCF9A">.</tspan><tspan x="558.13" fill="#1A1AF5">K</tspan><tspan x="564.87" fill="#2E9048">.</tspan><tspan x="571.61" fill="#2E9048">.</tspan><tspan x="578.35" fill="#1A1AF5">.</tspan><tspan x="585.09" fill="#EE2A2A">.</tspan><tspan x="591.83" fill="#6F6FC8">.</tspan><tspan x="598.57" fill="#EE2A2A">.</tspan><tspan x="605.31" fill="#5A88C0">S</tspan><tspan x="612.05" fill="#2AAE98">.</tspan><tspan x="618.79" fill="#3FCF9A">A</tspan><tspan x="625.53" fill="#2E9048">.</tspan></text>
<text x="440.1" y="0" transform="translate(0,349.48) scale(1,1.0)" font-family="Liberation Mono" font-weight="bold" font-size="11.1" fill="#111">MW946296</text>
<text y="0" transform="translate(0,349.48) scale(1,0.87)" font-family="Liberation Mono" font-weight="bold" font-size="11.1" text-anchor="middle"><tspan x="531.17" fill="#3FCF9A">A</tspan><tspan x="537.91" fill="#EE2A2A">.</tspan><tspan x="544.65" fill="#2E9048">.</tspan><tspan x="551.39" fill="#3FCF9A">.</tspan><tspan x="558.13" fill="#6F6FC8">.</tspan><tspan x="564.87" fill="#2E9048">.</tspan><tspan x="571.61" fill="#2E9048">.</tspan><tspan x="578.35" fill="#1A1AF5">.</tspan><tspan x="585.09" fill="#EE2A2A">.</tspan><tspan x="591.83" fill="#6F6FC8">.</tspan><tspan x="598.57" fill="#EE2A2A">.</tspan><tspan x="605.31" fill="#2E9048">.</tspan><tspan x="612.05" fill="#2AAE98">.</tspan><tspan x="618.79" fill="#3FCF9A">A</tspan><tspan x="625.53" fill="#2E9048">.</tspan></text>
<text x="440.1" y="0" transform="translate(0,361.42) scale(1,1.0)" font-family="Liberation Mono" font-weight="bold" font-size="11.1" fill="#111">MW946332</text>
<text y="0" transform="translate(0,361.42) scale(1,0.87)" font-family="Liberation Mono" font-weight="bold" font-size="11.1" text-anchor="middle"><tspan x="531.17" fill="#3FCF9A">A</tspan><tspan x="537.91" fill="#EE2A2A">.</tspan><tspan x="544.65" fill="#2E9048">.</tspan><tspan x="551.39" fill="#3FCF9A">.</tspan><tspan x="558.13" fill="#EE2A2A">D</tspan><tspan x="564.87" fill="#2E9048">.</tspan><tspan x="571.61" fill="#2E9048">.</tspan><tspan x="578.35" fill="#1A1AF5">.</tspan><tspan x="585.09" fill="#EE2A2A">.</tspan><tspan x="591.83" fill="#6F6FC8">.</tspan><tspan x="598.57" fill="#EE2A2A">.</tspan><tspan x="605.31" fill="#2E9048">.</tspan><tspan x="612.05" fill="#2AAE98">.</tspan><tspan x="618.79" fill="#5A88C0">.</tspan><tspan x="625.53" fill="#2E9048">.</tspan></text>
<text x="440.1" y="0" transform="translate(0,373.36) scale(1,1.0)" font-family="Liberation Mono" font-weight="bold" font-size="11.1" fill="#111">MN448929</text>
<text y="0" transform="translate(0,373.36) scale(1,0.87)" font-family="Liberation Mono" font-weight="bold" font-size="11.1" text-anchor="middle"><tspan x="531.17" fill="#3FCF9A">A</tspan><tspan x="537.91" fill="#EE2A2A">.</tspan><tspan x="544.65" fill="#2E9048">.</tspan><tspan x="551.39" fill="#3FCF9A">.</tspan><tspan x="558.13" fill="#6F6FC8">.</tspan><tspan x="564.87" fill="#2E9048">.</tspan><tspan x="571.61" fill="#2E9048">.</tspan><tspan x="578.35" fill="#1A1AF5">.</tspan><tspan x="585.09" fill="#EE2A2A">.</tspan><tspan x="591.83" fill="#6F6FC8">.</tspan><tspan x="598.57" fill="#EE2A2A">.</tspan><tspan x="605.31" fill="#2E9048">.</tspan><tspan x="612.05" fill="#2AAE98">.</tspan><tspan x="618.79" fill="#2E9048">V</tspan><tspan x="625.53" fill="#2E9048">.</tspan></text>
<text x="440.1" y="0" transform="translate(0,385.30) scale(1,1.0)" font-family="Liberation Mono" font-weight="bold" font-size="11.1" fill="#111">MW946453</text>
<text y="0" transform="translate(0,385.30) scale(1,0.87)" font-family="Liberation Mono" font-weight="bold" font-size="11.1" text-anchor="middle"><tspan x="531.17" fill="#3FCF9A">A</tspan><tspan x="537.91" fill="#EE2A2A">.</tspan><tspan x="544.65" fill="#2E9048">.</tspan><tspan x="551.39" fill="#3FCF9A">.</tspan><tspan x="558.13" fill="#6F6FC8">.</tspan><tspan x="564.87" fill="#2E9048">.</tspan><tspan x="571.61" fill="#2E9048">.</tspan><tspan x="578.35" fill="#1A1AF5">.</tspan><tspan x="585.09" fill="#EE2A2A">.</tspan><tspan x="591.83" fill="#6F6FC8">.</tspan><tspan x="598.57" fill="#EE2A2A">.</tspan><tspan x="605.31" fill="#2E9048">.</tspan><tspan x="612.05" fill="#2AAE98">.</tspan><tspan x="618.79" fill="#3FCF9A">A</tspan><tspan x="625.53" fill="#2E9048">.</tspan></text>
<text x="440.1" y="0" transform="translate(0,397.24) scale(1,1.0)" font-family="Liberation Mono" font-weight="bold" font-size="11.1" fill="#111">MN448714</text>
<text y="0" transform="translate(0,397.24) scale(1,0.87)" font-family="Liberation Mono" font-weight="bold" font-size="11.1" text-anchor="middle"><tspan x="531.17" fill="#3FCF9A">A</tspan><tspan x="537.91" fill="#EE2A2A">.</tspan><tspan x="544.65" fill="#2E9048">.</tspan><tspan x="551.39" fill="#3FCF9A">.</tspan><tspan x="558.13" fill="#6F6FC8">.</tspan><tspan x="564.87" fill="#2E9048">.</tspan><tspan x="571.61" fill="#2E9048">.</tspan><tspan x="578.35" fill="#1A1AF5">.</tspan><tspan x="585.09" fill="#EE2A2A">.</tspan><tspan x="591.83" fill="#6F6FC8">.</tspan><tspan x="598.57" fill="#EE2A2A">.</tspan><tspan x="605.31" fill="#2E9048">.</tspan><tspan x="612.05" fill="#2AAE98">.</tspan><tspan x="618.79" fill="#3FCF9A">A</tspan><tspan x="625.53" fill="#2E9048">.</tspan></text>
<text x="440.1" y="0" transform="translate(0,409.18) scale(1,1.0)" font-family="Liberation Mono" font-weight="bold" font-size="11.1" fill="#111">MN448833</text>
<text y="0" transform="translate(0,409.18) scale(1,0.87)" font-family="Liberation Mono" font-weight="bold" font-size="11.1" text-anchor="middle"><tspan x="531.17" fill="#3FCF9A">A</tspan><tspan x="537.91" fill="#EE2A2A">.</tspan><tspan x="544.65" fill="#2E9048">.</tspan><tspan x="551.39" fill="#3FCF9A">.</tspan><tspan x="558.13" fill="#6F6FC8">.</tspan><tspan x="564.87" fill="#2E9048">.</tspan><tspan x="571.61" fill="#2E9048">.</tspan><tspan x="578.35" fill="#1A1AF5">.</tspan><tspan x="585.09" fill="#EE2A2A">.</tspan><tspan x="591.83" fill="#6F6FC8">.</tspan><tspan x="598.57" fill="#EE2A2A">.</tspan><tspan x="605.31" fill="#2E9048">.</tspan><tspan x="612.05" fill="#2AAE98">.</tspan><tspan x="618.79" fill="#3FCF9A">A</tspan><tspan x="625.53" fill="#2E9048">.</tspan></text>
<text x="440.1" y="0" transform="translate(0,421.12) scale(1,1.0)" font-family="Liberation Mono" font-weight="bold" font-size="11.1" fill="#111">MN448764</text>
<text y="0" transform="translate(0,421.12) scale(1,0.87)" font-family="Liberation Mono" font-weight="bold" font-size="11.1" text-anchor="middle"><tspan x="531.17" fill="#3FCF9A">A</tspan><tspan x="537.91" fill="#EE2A2A">.</tspan><tspan x="544.65" fill="#2E9048">.</tspan><tspan x="551.39" fill="#3FCF9A">.</tspan><tspan x="558.13" fill="#6F6FC8">.</tspan><tspan x="564.87" fill="#2E9048">.</tspan><tspan x="571.61" fill="#2E9048">.</tspan><tspan x="578.35" fill="#1A1AF5">.</tspan><tspan x="585.09" fill="#EE2A2A">.</tspan><tspan x="591.83" fill="#6F6FC8">.</tspan><tspan x="598.57" fill="#EE2A2A">.</tspan><tspan x="605.31" fill="#2E9048">.</tspan><tspan x="612.05" fill="#2AAE98">.</tspan><tspan x="618.79" fill="#3FCF9A">A</tspan><tspan x="625.53" fill="#2E9048">.</tspan></text>
<text transform="translate(536.18,300.80) rotate(-90)" font-family="Liberation Sans" font-size="10.5" fill="#992525" textLength="15.0" lengthAdjust="spacingAndGlyphs">NS1</text>
<line x1="531.40" y1="303.80" x2="531.40" y2="310.00" stroke="#992525" stroke-width="1.5" stroke-dasharray="2.2 2"/>
<polygon points="528.40,309.50 534.40,309.50 531.40,315.50" fill="#992525"/>
<text transform="translate(622.38,300.80) rotate(-90)" font-family="Liberation Sans" font-size="10.5" fill="#992525" textLength="16.7" lengthAdjust="spacingAndGlyphs">NS5</text>
<line x1="617.60" y1="303.80" x2="617.60" y2="310.70" stroke="#992525" stroke-width="1.5" stroke-dasharray="2.2 2"/>
<polygon points="614.60,310.20 620.60,310.20 617.60,316.20" fill="#992525"/>
<defs><linearGradient id="g2" x1="0" y1="319" x2="0" y2="431.2" gradientUnits="userSpaceOnUse"><stop offset="0" stop-color="#fff"/><stop offset="0.45" stop-color="#9a2a2a"/><stop offset="1" stop-color="#8a1a1a"/></linearGradient></defs>
<rect x="635.00" y="319" width="3.2" height="106.20" fill="url(#g2)"/>
<polygon points="633.00,424.20 640.20,424.20 636.60,431.20" fill="#8a1a1a"/>
<text transform="translate(660.60,429.30) rotate(-90)" font-family="Liberation Sans" font-size="20" fill="#111" textLength="114.2" lengthAdjust="spacingAndGlyphs">Tree Direction</text>
<text x="310.2" y="0" transform="translate(0,601.00) scale(1,1.0)" font-family="Liberation Mono" font-weight="bold" font-size="11.2" fill="#111">DENV3_06014</text>
<text y="0" transform="translate(0,601.00) scale(1,0.86)" font-family="Liberation Mono" font-weight="bold" font-size="11.2" text-anchor="middle"><tspan x="401.28" fill="#1E1EF0">R</tspan><tspan x="408.05" fill="#D03535">C</tspan><tspan x="414.81" fill="#2E9048">I</tspan><tspan x="421.58" fill="#5A88C0">T</tspan><tspan x="428.35" fill="#2AAE98">Y</tspan><tspan x="435.11" fill="#1E1EF0">R</tspan><tspan x="441.88" fill="#5A88C0">S</tspan><tspan x="448.64" fill="#3FCF9A">A</tspan><tspan x="455.41" fill="#2E9048">M</tspan><tspan x="462.17" fill="#2E9048">I</tspan><tspan x="468.94" fill="#E09A30">G</tspan><tspan x="475.71" fill="#5A88C0">S</tspan><tspan x="482.47" fill="#3DBD8A">F</tspan><tspan x="489.24" fill="#2E9048">V</tspan><tspan x="496.00" fill="#2E9048">L</tspan><tspan x="502.77" fill="#3FCF9A">A</tspan><tspan x="509.54" fill="#2E9048">V</tspan><tspan x="516.30" fill="#2E9048">L</tspan><tspan x="523.07" fill="#2E9048">V</tspan><tspan x="529.83" fill="#1A1AF5">K</tspan><tspan x="536.60" fill="#EE2A2A">D</tspan><tspan x="543.36" fill="#2E9048">I</tspan><tspan x="550.13" fill="#2AAE98">Y</tspan><tspan x="556.90" fill="#1A1AF5">K</tspan><tspan x="563.66" fill="#2E9048">L</tspan><tspan x="570.43" fill="#3FCF9A">A</tspan><tspan x="577.19" fill="#3FCF9A">A</tspan><tspan x="583.96" fill="#5A88C0">S</tspan><tspan x="590.73" fill="#2E9048">V</tspan><tspan x="597.49" fill="#3FCF9A">A</tspan><tspan x="604.26" fill="#5A88C0">T</tspan><tspan x="611.02" fill="#1E1EF0">R</tspan><tspan x="617.79" fill="#5A88C0">T</tspan><tspan x="624.55" fill="#1E1EF0">R</tspan><tspan x="631.32" fill="#6F6FC8">N</tspan><tspan x="638.09" fill="#857560">P</tspan><tspan x="644.85" fill="#1E1EF0">R</tspan><tspan x="651.62" fill="#EE2A2A">E</tspan></text>
<text x="310.2" y="0" transform="translate(0,612.95) scale(1,1.0)" font-family="Liberation Mono" font-weight="bold" font-size="11.2" fill="#111">DENV3_06611</text>
<text y="0" transform="translate(0,612.95) scale(1,0.86)" font-family="Liberation Mono" font-weight="bold" font-size="11.2" text-anchor="middle"><tspan x="401.28" fill="#1E1EF0">.</tspan><tspan x="408.05" fill="#D03535">.</tspan><tspan x="414.81" fill="#2E9048">.</tspan><tspan x="421.58" fill="#6F6FC8">Q</tspan><tspan x="428.35" fill="#2AAE98">.</tspan><tspan x="435.11" fill="#1E1EF0">.</tspan><tspan x="441.88" fill="#5A88C0">.</tspan><tspan x="448.64" fill="#3FCF9A">.</tspan><tspan x="455.41" fill="#2E9048">.</tspan><tspan x="462.17" fill="#2E9048">.</tspan><tspan x="468.94" fill="#E09A30">.</tspan><tspan x="475.71" fill="#5A88C0">.</tspan><tspan x="482.47" fill="#3DBD8A">.</tspan><tspan x="489.24" fill="#2E9048">.</tspan><tspan x="496.00" fill="#2E9048">.</tspan><tspan x="502.77" fill="#3FCF9A">.</tspan><tspan x="509.54" fill="#2E9048">.</tspan><tspan x="516.30" fill="#2E9048">.</tspan><tspan x="523.07" fill="#2E9048">.</tspan><tspan x="529.83" fill="#1A1AF5">.</tspan><tspan x="536.60" fill="#EE2A2A">.</tspan><tspan x="543.36" fill="#2E9048">.</tspan><tspan x="550.13" fill="#2AAE98">.</tspan><tspan x="556.90" fill="#1A1AF5">.</tspan><tspan x="563.66" fill="#2E9048">.</tspan><tspan x="570.43" fill="#3FCF9A">.</tspan><tspan x="577.19" fill="#3FCF9A">.</tspan><tspan x="583.96" fill="#5A88C0">.</tspan><tspan x="590.73" fill="#2E9048">.</tspan><tspan x="597.49" fill="#3FCF9A">.</tspan><tspan x="604.26" fill="#5A88C0">.</tspan><tspan x="611.02" fill="#1E1EF0">.</tspan><tspan x="617.79" fill="#5A88C0">.</tspan><tspan x="624.55" fill="#1E1EF0">.</tspan><tspan x="631.32" fill="#6F6FC8">.</tspan><tspan x="638.09" fill="#E09A30">G</tspan><tspan x="644.85" fill="#3FCF9A">A</tspan><tspan x="651.62" fill="#3DBD8A">W</tspan></text>
<text x="310.2" y="0" transform="translate(0,624.90) scale(1,1.0)" font-family="Liberation Mono" font-weight="bold" font-size="11.2" fill="#111">MN448965</text>
<text y="0" transform="translate(0,624.90) scale(1,0.86)" font-family="Liberation Mono" font-weight="bold" font-size="11.2" text-anchor="middle"><tspan x="401.28" fill="#1A1AF5">K</tspan><tspan x="408.05" fill="#D03535">.</tspan><tspan x="414.81" fill="#2E9048">.</tspan><tspan x="421.58" fill="#5A88C0">.</tspan><tspan x="428.35" fill="#2AAE98">.</tspan><tspan x="435.11" fill="#1E1EF0">.</tspan><tspan x="441.88" fill="#5A88C0">.</tspan><tspan x="448.64" fill="#3FCF9A">.</tspan><tspan x="455.41" fill="#5A88C0">S</tspan><tspan x="462.17" fill="#2E9048">.</tspan><tspan x="468.94" fill="#E09A30">.</tspan><tspan x="475.71" fill="#5A88C0">.</tspan><tspan x="482.47" fill="#3DBD8A">.</tspan><tspan x="489.24" fill="#2E9048">.</tspan><tspan x="496.00" fill="#857560">P</tspan><tspan x="502.77" fill="#3FCF9A">.</tspan><tspan x="509.54" fill="#2E9048">.</tspan><tspan x="516.30" fill="#2E9048">.</tspan><tspan x="523.07" fill="#2E9048">.</tspan><tspan x="529.83" fill="#1A1AF5">.</tspan><tspan x="536.60" fill="#EE2A2A">.</tspan><tspan x="543.36" fill="#2E9048">.</tspan><tspan x="550.13" fill="#2AAE98">.</tspan><tspan x="556.90" fill="#1E1EF0">R</tspan><tspan x="563.66" fill="#2E9048">.</tspan><tspan x="570.43" fill="#2E9048">V</tspan><tspan x="577.19" fill="#3FCF9A">.</tspan><tspan x="583.96" fill="#5A88C0">.</tspan><tspan x="590.73" fill="#2E9048">.</tspan><tspan x="597.49" fill="#3FCF9A">.</tspan><tspan x="604.26" fill="#5A88C0">.</tspan><tspan x="611.02" fill="#1A1AF5">K</tspan><tspan x="617.79" fill="#5A88C0">.</tspan><tspan x="624.55" fill="#1E1EF0">.</tspan><tspan x="631.32" fill="#EE2A2A">D</tspan><tspan x="638.09" fill="#E09A30">G</tspan><tspan x="644.85" fill="#3FCF9A">A</tspan><tspan x="651.62" fill="#3DBD8A">W</tspan></text>
<text x="310.2" y="0" transform="translate(0,636.85) scale(1,1.0)" font-family="Liberation Mono" font-weight="bold" font-size="11.2" fill="#111">AY876494</text>
<text y="0" transform="translate(0,636.85) scale(1,0.86)" font-family="Liberation Mono" font-weight="bold" font-size="11.2" text-anchor="middle"><tspan x="401.28" fill="#1A1AF5">K</tspan><tspan x="408.05" fill="#D03535">.</tspan><tspan x="414.81" fill="#2E9048">V</tspan><tspan x="421.58" fill="#5A88C0">.</tspan><tspan x="428.35" fill="#EE33EE">H</tspan><tspan x="435.11" fill="#1E1EF0">.</tspan><tspan x="441.88" fill="#5A88C0">.</tspan><tspan x="448.64" fill="#3FCF9A">.</tspan><tspan x="455.41" fill="#5A88C0">S</tspan><tspan x="462.17" fill="#2E9048">.</tspan><tspan x="468.94" fill="#E09A30">.</tspan><tspan x="475.71" fill="#5A88C0">.</tspan><tspan x="482.47" fill="#3DBD8A">.</tspan><tspan x="489.24" fill="#2E9048">.</tspan><tspan x="496.00" fill="#857560">P</tspan><tspan x="502.77" fill="#3FCF9A">.</tspan><tspan x="509.54" fill="#2E9048">.</tspan><tspan x="516.30" fill="#2E9048">.</tspan><tspan x="523.07" fill="#2E9048">.</tspan><tspan x="529.83" fill="#1A1AF5">.</tspan><tspan x="536.60" fill="#EE2A2A">.</tspan><tspan x="543.36" fill="#2E9048">.</tspan><tspan x="550.13" fill="#2AAE98">.</tspan><tspan x="556.90" fill="#1E1EF0">R</tspan><tspan x="563.66" fill="#2E9048">.</tspan><tspan x="570.43" fill="#2E9048">V</tspan><tspan x="577.19" fill="#3FCF9A">.</tspan><tspan x="583.96" fill="#5A88C0">.</tspan><tspan x="590.73" fill="#3DBD8A">W</tspan><tspan x="597.49" fill="#3FCF9A">.</tspan><tspan x="604.26" fill="#857560">P</tspan><tspan x="611.02" fill="#1A1AF5">K</tspan><tspan x="617.79" fill="#5A88C0">.</tspan><tspan x="624.55" fill="#1E1EF0">.</tspan><tspan x="631.32" fill="#EE2A2A">D</tspan><tspan x="638.09" fill="#E09A30">G</tspan><tspan x="644.85" fill="#3FCF9A">A</tspan><tspan x="651.62" fill="#3DBD8A">W</tspan></text>
<text x="310.2" y="0" transform="translate(0,648.80) scale(1,1.0)" font-family="Liberation Mono" font-weight="bold" font-size="11.2" fill="#111">MW946667</text>
<text y="0" transform="translate(0,648.80) scale(1,0.86)" font-family="Liberation Mono" font-weight="bold" font-size="11.2" text-anchor="middle"><tspan x="401.28" fill="#1A1AF5">K</tspan><tspan x="408.05" fill="#D03535">.</tspan><tspan x="414.81" fill="#2E9048">.</tspan><tspan x="421.58" fill="#5A88C0">.</tspan><tspan x="428.35" fill="#2AAE98">.</tspan><tspan x="435.11" fill="#1E1EF0">.</tspan><tspan x="441.88" fill="#5A88C0">.</tspan><tspan x="448.64" fill="#3FCF9A">.</tspan><tspan x="455.41" fill="#5A88C0">S</tspan><tspan x="462.17" fill="#2E9048">.</tspan><tspan x="468.94" fill="#E09A30">.</tspan><tspan x="475.71" fill="#5A88C0">.</tspan><tspan x="482.47" fill="#3DBD8A">.</tspan><tspan x="489.24" fill="#2E9048">.</tspan><tspan x="496.00" fill="#857560">P</tspan><tspan x="502.77" fill="#3FCF9A">.</tspan><tspan x="509.54" fill="#2E9048">.</tspan><tspan x="516.30" fill="#2E9048">.</tspan><tspan x="523.07" fill="#2E9048">.</tspan><tspan x="529.83" fill="#1A1AF5">.</tspan><tspan x="536.60" fill="#EE2A2A">.</tspan><tspan x="543.36" fill="#2E9048">.</tspan><tspan x="550.13" fill="#2AAE98">.</tspan><tspan x="556.90" fill="#1E1EF0">R</tspan><tspan x="563.66" fill="#2E9048">.</tspan><tspan x="570.43" fill="#2E9048">V</tspan><tspan x="577.19" fill="#3FCF9A">.</tspan><tspan x="583.96" fill="#5A88C0">.</tspan><tspan x="590.73" fill="#2E9048">.</tspan><tspan x="597.49" fill="#3FCF9A">.</tspan><tspan x="604.26" fill="#5A88C0">.</tspan><tspan x="611.02" fill="#1A1AF5">K</tspan><tspan x="617.79" fill="#5A88C0">.</tspan><tspan x="624.55" fill="#EE2A2A">E</tspan><tspan x="631.32" fill="#EE2A2A">D</tspan><tspan x="638.09" fill="#E09A30">G</tspan><tspan x="644.85" fill="#3FCF9A">A</tspan><tspan x="651.62" fill="#3DBD8A">W</tspan></text>
<text x="310.2" y="0" transform="translate(0,660.75) scale(1,1.0)" font-family="Liberation Mono" font-weight="bold" font-size="11.2" fill="#111">KY586788</text>
<text y="0" transform="translate(0,660.75) scale(1,0.86)" font-family="Liberation Mono" font-weight="bold" font-size="11.2" text-anchor="middle"><tspan x="401.28" fill="#1A1AF5">K</tspan><tspan x="408.05" fill="#D03535">.</tspan><tspan x="414.81" fill="#2E9048">.</tspan><tspan x="421.58" fill="#5A88C0">.</tspan><tspan x="428.35" fill="#EE33EE">H</tspan><tspan x="435.11" fill="#1E1EF0">.</tspan><tspan x="441.88" fill="#5A88C0">.</tspan><tspan x="448.64" fill="#3FCF9A">.</tspan><tspan x="455.41" fill="#2E9048">.</tspan><tspan x="462.17" fill="#2E9048">.</tspan><tspan x="468.94" fill="#E09A30">.</tspan><tspan x="475.71" fill="#5A88C0">.</tspan><tspan x="482.47" fill="#3DBD8A">.</tspan><tspan x="489.24" fill="#2E9048">.</tspan><tspan x="496.00" fill="#857560">P</tspan><tspan x="502.77" fill="#3FCF9A">.</tspan><tspan x="509.54" fill="#2E9048">.</tspan><tspan x="516.30" fill="#2E9048">.</tspan><tspan x="523.07" fill="#2E9048">.</tspan><tspan x="529.83" fill="#1A1AF5">.</tspan><tspan x="536.60" fill="#EE2A2A">.</tspan><tspan x="543.36" fill="#2E9048">.</tspan><tspan x="550.13" fill="#2AAE98">.</tspan><tspan x="556.90" fill="#1A1AF5">.</tspan><tspan x="563.66" fill="#2E9048">.</tspan><tspan x="570.43" fill="#2E9048">V</tspan><tspan x="577.19" fill="#3FCF9A">.</tspan><tspan x="583.96" fill="#5A88C0">.</tspan><tspan x="590.73" fill="#2E9048">.</tspan><tspan x="597.49" fill="#3FCF9A">.</tspan><tspan x="604.26" fill="#5A88C0">.</tspan><tspan x="611.02" fill="#1A1AF5">K</tspan><tspan x="617.79" fill="#5A88C0">.</tspan><tspan x="624.55" fill="#1E1EF0">.</tspan><tspan x="631.32" fill="#EE2A2A">D</tspan><tspan x="638.09" fill="#E09A30">G</tspan><tspan x="644.85" fill="#3FCF9A">A</tspan><tspan x="651.62" fill="#3DBD8A">W</tspan></text>
<text x="310.2" y="0" transform="translate(0,672.70) scale(1,1.0)" font-family="Liberation Mono" font-weight="bold" font-size="11.2" fill="#111">KY586702</text>
<text y="0" transform="translate(0,672.70) scale(1,0.86)" font-family="Liberation Mono" font-weight="bold" font-size="11.2" text-anchor="middle"><tspan x="401.28" fill="#1A1AF5">K</tspan><tspan x="408.05" fill="#D03535">.</tspan><tspan x="414.81" fill="#2E9048">.</tspan><tspan x="421.58" fill="#5A88C0">.</tspan><tspan x="428.35" fill="#2AAE98">.</tspan><tspan x="435.11" fill="#1E1EF0">.</tspan><tspan x="441.88" fill="#5A88C0">.</tspan><tspan x="448.64" fill="#3FCF9A">.</tspan><tspan x="455.41" fill="#5A88C0">S</tspan><tspan x="462.17" fill="#2E9048">.</tspan><tspan x="468.94" fill="#2E9048">L</tspan><tspan x="475.71" fill="#5A88C0">.</tspan><tspan x="482.47" fill="#3DBD8A">.</tspan><tspan x="489.24" fill="#2E9048">.</tspan><tspan x="496.00" fill="#857560">P</tspan><tspan x="502.77" fill="#3FCF9A">.</tspan><tspan x="509.54" fill="#2E9048">.</tspan><tspan x="516.30" fill="#2E9048">.</tspan><tspan x="523.07" fill="#2E9048">.</tspan><tspan x="529.83" fill="#1A1AF5">.</tspan><tspan x="536.60" fill="#EE2A2A">.</tspan><tspan x="543.36" fill="#2E9048">.</tspan><tspan x="550.13" fill="#2AAE98">.</tspan><tspan x="556.90" fill="#1E1EF0">R</tspan><tspan x="563.66" fill="#2E9048">.</tspan><tspan x="570.43" fill="#2E9048">V</tspan><tspan x="577.19" fill="#3FCF9A">.</tspan><tspan x="583.96" fill="#5A88C0">.</tspan><tspan x="590.73" fill="#2E9048">.</tspan><tspan x="597.49" fill="#3FCF9A">.</tspan><tspan x="604.26" fill="#5A88C0">.</tspan><tspan x="611.02" fill="#1A1AF5">K</tspan><tspan x="617.79" fill="#5A88C0">.</tspan><tspan x="624.55" fill="#1E1EF0">.</tspan><tspan x="631.32" fill="#EE2A2A">D</tspan><tspan x="638.09" fill="#E09A30">G</tspan><tspan x="644.85" fill="#3FCF9A">A</tspan><tspan x="651.62" fill="#3DBD8A">W</tspan></text>
<text x="400.50" y="561.60" font-family="Liberation Sans" font-size="8.5" fill="#992525" text-anchor="middle">C</text>
<line x1="400.50" y1="564.60" x2="400.50" y2="588.50" stroke="#992525" stroke-width="1.5" stroke-dasharray="2.2 2"/>
<polygon points="397.50,588.00 403.50,588.00 400.50,594.00" fill="#992525"/>
<text transform="translate(460.80,569.50) rotate(-90)" font-family="Liberation Sans" font-size="10" fill="#992525" textLength="14.9" lengthAdjust="spacingAndGlyphs">NS1</text>
<line x1="456.20" y1="572.50" x2="456.20" y2="588.50" stroke="#992525" stroke-width="1.5" stroke-dasharray="2.2 2"/>
<polygon points="453.20,588.00 459.20,588.00 456.20,594.00" fill="#992525"/>
<text transform="translate(499.40,576.20) rotate(-90)" font-family="Liberation Sans" font-size="10" fill="#992525" textLength="23.3" lengthAdjust="spacingAndGlyphs">NS2A</text>
<line x1="494.80" y1="579.20" x2="494.80" y2="588.50" stroke="#992525" stroke-width="1.5" stroke-dasharray="2.2 2"/>
<polygon points="491.80,588.00 497.80,588.00 494.80,594.00" fill="#992525"/>
<text transform="translate(561.60,569.90) rotate(-90)" font-family="Liberation Sans" font-size="10" fill="#992525" textLength="16.5" lengthAdjust="spacingAndGlyphs">NS3</text>
<line x1="557.00" y1="572.90" x2="557.00" y2="586.80" stroke="#992525" stroke-width="1.5" stroke-dasharray="2.2 2"/>
<polygon points="554.00,586.30 560.00,586.30 557.00,592.30" fill="#992525"/>
<text transform="translate(574.40,576.20) rotate(-90)" font-family="Liberation Sans" font-size="10" fill="#992525" textLength="23.3" lengthAdjust="spacingAndGlyphs">NS4A</text>
<line x1="569.80" y1="579.20" x2="569.80" y2="586.80" stroke="#992525" stroke-width="1.5" stroke-dasharray="2.2 2"/>
<polygon points="566.80,586.30 572.80,586.30 569.80,592.30" fill="#992525"/>
<text transform="translate(615.60,572.70) rotate(-90)" font-family="Liberation Sans" font-size="10" fill="#992525" textLength="16.8" lengthAdjust="spacingAndGlyphs">NS5</text>
<line x1="611.00" y1="575.70" x2="611.00" y2="586.80" stroke="#992525" stroke-width="1.5" stroke-dasharray="2.2 2"/>
<polygon points="608.00,586.30 614.00,586.30 611.00,592.30" fill="#992525"/>
<text transform="translate(645.70,572.70) rotate(-90)" font-family="Liberation Sans" font-size="10" fill="#992525" textLength="16.8" lengthAdjust="spacingAndGlyphs">NS5</text>
<line x1="641.10" y1="575.70" x2="641.10" y2="583.30" stroke="#992525" stroke-width="1.5" stroke-dasharray="2.2 2"/>
<polygon points="638.10,582.80 644.10,582.80 641.10,588.80" fill="#992525"/>
<path d="M630.70,593.90 L630.70,590.90 L653.90,590.90 L653.90,593.90" fill="none" stroke="#992525" stroke-width="1.3" stroke-dasharray="2 1.8"/>
<defs><linearGradient id="g3" x1="0" y1="602" x2="0" y2="678.8" gradientUnits="userSpaceOnUse"><stop offset="0" stop-color="#fff"/><stop offset="0.45" stop-color="#9a2a2a"/><stop offset="1" stop-color="#8a1a1a"/></linearGradient></defs>
<rect x="659.20" y="602" width="3.2" height="70.80" fill="url(#g3)"/>
<polygon points="657.20,671.80 664.40,671.80 660.80,678.80" fill="#8a1a1a"/>
<text transform="translate(683.80,712.30) rotate(-90)" font-family="Liberation Sans" font-size="20" fill="#111" textLength="115.5" lengthAdjust="spacingAndGlyphs">Tree Direction</text>
<text x="307.3" y="0" transform="translate(0,1018.90) scale(1,0.92)" font-family="Liberation Mono" font-weight="bold" font-size="12.2" fill="#111">DENV4_06644</text>
<text y="0" transform="translate(0,1018.90) scale(1,0.77)" font-family="Liberation Mono" font-weight="bold" font-size="12.2" text-anchor="middle"><tspan x="435.66" fill="#2E9048">V</tspan><tspan x="442.99" fill="#3FCF9A">A</tspan><tspan x="450.32" fill="#2E9048">V</tspan><tspan x="457.64" fill="#EE33EE">H</tspan><tspan x="464.97" fill="#5A88C0">T</tspan><tspan x="472.30" fill="#3FCF9A">A</tspan><tspan x="479.62" fill="#EE33EE">H</tspan><tspan x="486.95" fill="#1E1EF0">R</tspan><tspan x="494.28" fill="#5A88C0">S</tspan><tspan x="501.60" fill="#5A88C0">S</tspan><tspan x="508.93" fill="#2E9048">I</tspan><tspan x="516.26" fill="#2E9048">I</tspan><tspan x="523.58" fill="#2AAE98">Y</tspan><tspan x="530.91" fill="#6F6FC8">N</tspan><tspan x="538.24" fill="#2E9048">L</tspan><tspan x="545.56" fill="#1E1EF0">R</tspan><tspan x="552.89" fill="#2E9048">M</tspan><tspan x="560.22" fill="#3DBD8A">F</tspan><tspan x="567.54" fill="#5A88C0">T</tspan><tspan x="574.87" fill="#2E9048">L</tspan><tspan x="582.20" fill="#2E9048">V</tspan><tspan x="589.52" fill="#5A88C0">S</tspan><tspan x="596.85" fill="#EE2A2A">D</tspan><tspan x="604.18" fill="#EE33EE">H</tspan><tspan x="611.50" fill="#2E9048">V</tspan><tspan x="618.83" fill="#2E9048">L</tspan><tspan x="626.16" fill="#6F6FC8">Q</tspan><tspan x="633.48" fill="#6F6FC8">Q</tspan><tspan x="640.81" fill="#2E9048">I</tspan><tspan x="648.14" fill="#2E9048">L</tspan></text>
<text x="307.3" y="0" transform="translate(0,1031.90) scale(1,0.92)" font-family="Liberation Mono" font-weight="bold" font-size="12.2" fill="#111">Denv4_574100313</text>
<text y="0" transform="translate(0,1031.90) scale(1,0.77)" font-family="Liberation Mono" font-weight="bold" font-size="12.2" text-anchor="middle"><tspan x="435.66" fill="#5A88C0">T</tspan><tspan x="442.99" fill="#E09A30">G</tspan><tspan x="450.32" fill="#2E9048">.</tspan><tspan x="457.64" fill="#EE33EE">.</tspan><tspan x="464.97" fill="#5A88C0">.</tspan><tspan x="472.30" fill="#3FCF9A">.</tspan><tspan x="479.62" fill="#EE33EE">.</tspan><tspan x="486.95" fill="#1E1EF0">.</tspan><tspan x="494.28" fill="#5A88C0">.</tspan><tspan x="501.60" fill="#6F6FC8">Q</tspan><tspan x="508.93" fill="#2E9048">.</tspan><tspan x="516.26" fill="#2E9048">.</tspan><tspan x="523.58" fill="#2AAE98">.</tspan><tspan x="530.91" fill="#6F6FC8">.</tspan><tspan x="538.24" fill="#2E9048">I</tspan><tspan x="545.56" fill="#E09A30">G</tspan><tspan x="552.89" fill="#2E9048">.</tspan><tspan x="560.22" fill="#3DBD8A">.</tspan><tspan x="567.54" fill="#5A88C0">.</tspan><tspan x="574.87" fill="#2E9048">I</tspan><tspan x="582.20" fill="#5A88C0">T</tspan><tspan x="589.52" fill="#2E9048">I</tspan><tspan x="596.85" fill="#EE2A2A">.</tspan><tspan x="604.18" fill="#EE33EE">.</tspan><tspan x="611.50" fill="#2E9048">I</tspan><tspan x="618.83" fill="#2E9048">.</tspan><tspan x="626.16" fill="#6F6FC8">.</tspan><tspan x="633.48" fill="#6F6FC8">.</tspan><tspan x="640.81" fill="#1A1AF5">K</tspan><tspan x="648.14" fill="#EE2A2A">E</tspan></text>
<text x="436.90" y="981.10" font-family="Liberation Sans" font-size="9" fill="#992525" text-anchor="middle">C</text>
<line x1="436.90" y1="984.10" x2="436.90" y2="1002.10" stroke="#992525" stroke-width="1.5" stroke-dasharray="2.2 2"/>
<polygon points="433.90,1001.60 439.90,1001.60 436.90,1007.60" fill="#992525"/>
<path d="M432.90,1011.30 L432.90,1009.30 L441.10,1009.30 L441.10,1011.30" fill="none" stroke="#992525" stroke-width="1.3" stroke-dasharray="2 1.8"/>
<text transform="translate(506.20,983.90) rotate(-90)" font-family="Liberation Sans" font-size="10" fill="#992525" textLength="16.3" lengthAdjust="spacingAndGlyphs">NS1</text>
<line x1="501.60" y1="986.90" x2="501.60" y2="1004.20" stroke="#992525" stroke-width="1.5" stroke-dasharray="2.2 2"/>
<polygon points="498.60,1003.70 504.60,1003.70 501.60,1009.70" fill="#992525"/>
<text transform="translate(545.20,983.00) rotate(-90)" font-family="Liberation Sans" font-size="10" fill="#992525" textLength="16.6" lengthAdjust="spacingAndGlyphs">NS3</text>
<line x1="540.60" y1="986.00" x2="540.60" y2="1002.10" stroke="#992525" stroke-width="1.5" stroke-dasharray="2.2 2"/>
<polygon points="537.60,1001.60 543.60,1001.60 540.60,1007.60" fill="#992525"/>
<path d="M536.00,1011.30 L536.00,1009.30 L546.00,1009.30 L546.00,1011.30" fill="none" stroke="#992525" stroke-width="1.3" stroke-dasharray="2 1.8"/>
<text transform="translate(585.70,980.70) rotate(-90)" font-family="Liberation Sans" font-size="10" fill="#992525" textLength="23.1" lengthAdjust="spacingAndGlyphs">NS4B</text>
<line x1="581.10" y1="983.70" x2="581.10" y2="1002.40" stroke="#992525" stroke-width="1.5" stroke-dasharray="2.2 2"/>
<polygon points="578.10,1001.90 584.10,1001.90 581.10,1007.90" fill="#992525"/>
<path d="M574.40,1011.80 L574.40,1009.80 L588.30,1009.80 L588.30,1011.80" fill="none" stroke="#992525" stroke-width="1.3" stroke-dasharray="2 1.8"/>
<text transform="translate(615.60,985.10) rotate(-90)" font-family="Liberation Sans" font-size="10" fill="#992525" textLength="16.5" lengthAdjust="spacingAndGlyphs">NS5</text>
<line x1="611.00" y1="988.10" x2="611.00" y2="1001.40" stroke="#992525" stroke-width="1.5" stroke-dasharray="2.2 2"/>
<polygon points="608.00,1000.90 614.00,1000.90 611.00,1006.90" fill="#992525"/>
<text transform="translate(646.40,984.20) rotate(-90)" font-family="Liberation Sans" font-size="10" fill="#992525" textLength="17.1" lengthAdjust="spacingAndGlyphs">NS5</text>
<line x1="641.80" y1="987.20" x2="641.80" y2="999.50" stroke="#992525" stroke-width="1.5" stroke-dasharray="2.2 2"/>
<polygon points="638.80,999.00 644.80,999.00 641.80,1005.00" fill="#992525"/>
<path d="M638.00,1008.50 L638.00,1006.50 L645.50,1006.50 L645.50,1008.50" fill="none" stroke="#992525" stroke-width="1.3" stroke-dasharray="2 1.8"/>
<text x="659.8" y="1026.5" font-family="Liberation Sans" font-size="25" text-anchor="middle" fill="#111">*</text>
</svg></body></html>
